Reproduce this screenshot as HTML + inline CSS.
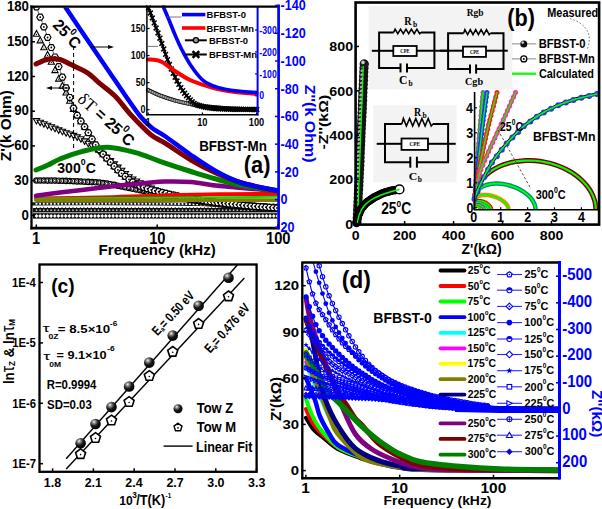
<!DOCTYPE html><html><head><meta charset="utf-8"><style>html,body{margin:0;padding:0;background:#fff;}svg{display:block;}</style></head><body><svg width="602" height="509" viewBox="0 0 602 509" font-family='"Liberation Sans", sans-serif'>
<rect width="602" height="509" fill="#fff"/>
<clipPath id="clipa"><rect x="32" y="7.5" width="246" height="220"/></clipPath><g clip-path="url(#clipa)">
<rect x="33" y="213.2" width="244.5" height="5.4" fill="#0a0a0a"/>
<path d="M36.5,213.9 L38.4,215.9 L36.5,217.9 L34.6,215.9Z" fill="#fff"/>
<path d="M40.1,213.9 L42.0,215.9 L40.1,217.9 L38.2,215.9Z" fill="#fff"/>
<path d="M43.8,213.9 L45.7,215.9 L43.8,217.9 L41.9,215.9Z" fill="#fff"/>
<path d="M47.5,213.9 L49.4,215.9 L47.5,217.9 L45.6,215.9Z" fill="#fff"/>
<path d="M51.1,213.9 L53.0,215.9 L51.1,217.9 L49.2,215.9Z" fill="#fff"/>
<path d="M54.8,213.9 L56.6,215.9 L54.8,217.9 L52.9,215.9Z" fill="#fff"/>
<path d="M58.4,213.9 L60.3,215.9 L58.4,217.9 L56.5,215.9Z" fill="#fff"/>
<path d="M62.0,213.9 L63.9,215.9 L62.0,217.9 L60.1,215.9Z" fill="#fff"/>
<path d="M65.7,213.9 L67.6,215.9 L65.7,217.9 L63.8,215.9Z" fill="#fff"/>
<path d="M69.3,213.9 L71.2,215.9 L69.3,217.9 L67.4,215.9Z" fill="#fff"/>
<path d="M73.0,213.9 L74.9,215.9 L73.0,217.9 L71.1,215.9Z" fill="#fff"/>
<path d="M76.7,213.9 L78.6,215.9 L76.7,217.9 L74.8,215.9Z" fill="#fff"/>
<path d="M80.3,213.9 L82.2,215.9 L80.3,217.9 L78.4,215.9Z" fill="#fff"/>
<path d="M83.9,213.9 L85.8,215.9 L83.9,217.9 L82.0,215.9Z" fill="#fff"/>
<path d="M87.6,213.9 L89.5,215.9 L87.6,217.9 L85.7,215.9Z" fill="#fff"/>
<path d="M91.2,213.9 L93.2,215.9 L91.2,217.9 L89.3,215.9Z" fill="#fff"/>
<path d="M94.9,213.9 L96.8,215.9 L94.9,217.9 L93.0,215.9Z" fill="#fff"/>
<path d="M98.5,213.9 L100.5,215.9 L98.5,217.9 L96.6,215.9Z" fill="#fff"/>
<path d="M102.2,213.9 L104.1,215.9 L102.2,217.9 L100.3,215.9Z" fill="#fff"/>
<path d="M105.8,213.9 L107.8,215.9 L105.8,217.9 L103.9,215.9Z" fill="#fff"/>
<path d="M109.5,213.9 L111.4,215.9 L109.5,217.9 L107.6,215.9Z" fill="#fff"/>
<path d="M113.1,213.9 L115.0,215.9 L113.1,217.9 L111.2,215.9Z" fill="#fff"/>
<path d="M116.8,213.9 L118.7,215.9 L116.8,217.9 L114.9,215.9Z" fill="#fff"/>
<path d="M120.5,213.9 L122.4,215.9 L120.5,217.9 L118.5,215.9Z" fill="#fff"/>
<path d="M124.1,213.9 L126.0,215.9 L124.1,217.9 L122.2,215.9Z" fill="#fff"/>
<path d="M127.8,213.9 L129.7,215.9 L127.8,217.9 L125.8,215.9Z" fill="#fff"/>
<path d="M131.4,213.9 L133.3,215.9 L131.4,217.9 L129.5,215.9Z" fill="#fff"/>
<path d="M135.1,213.9 L137.0,215.9 L135.1,217.9 L133.2,215.9Z" fill="#fff"/>
<path d="M138.7,213.9 L140.6,215.9 L138.7,217.9 L136.8,215.9Z" fill="#fff"/>
<path d="M142.3,213.9 L144.2,215.9 L142.3,217.9 L140.4,215.9Z" fill="#fff"/>
<path d="M146.0,213.9 L147.9,215.9 L146.0,217.9 L144.1,215.9Z" fill="#fff"/>
<path d="M149.6,213.9 L151.5,215.9 L149.6,217.9 L147.7,215.9Z" fill="#fff"/>
<path d="M153.3,213.9 L155.2,215.9 L153.3,217.9 L151.4,215.9Z" fill="#fff"/>
<path d="M156.9,213.9 L158.8,215.9 L156.9,217.9 L155.0,215.9Z" fill="#fff"/>
<path d="M160.6,213.9 L162.5,215.9 L160.6,217.9 L158.7,215.9Z" fill="#fff"/>
<path d="M164.2,213.9 L166.2,215.9 L164.2,217.9 L162.3,215.9Z" fill="#fff"/>
<path d="M167.9,213.9 L169.8,215.9 L167.9,217.9 L166.0,215.9Z" fill="#fff"/>
<path d="M171.5,213.9 L173.4,215.9 L171.5,217.9 L169.6,215.9Z" fill="#fff"/>
<path d="M175.2,213.9 L177.1,215.9 L175.2,217.9 L173.3,215.9Z" fill="#fff"/>
<path d="M178.8,213.9 L180.8,215.9 L178.8,217.9 L176.9,215.9Z" fill="#fff"/>
<path d="M182.5,213.9 L184.4,215.9 L182.5,217.9 L180.6,215.9Z" fill="#fff"/>
<path d="M186.2,213.9 L188.1,215.9 L186.2,217.9 L184.2,215.9Z" fill="#fff"/>
<path d="M189.8,213.9 L191.7,215.9 L189.8,217.9 L187.9,215.9Z" fill="#fff"/>
<path d="M193.4,213.9 L195.3,215.9 L193.4,217.9 L191.5,215.9Z" fill="#fff"/>
<path d="M197.1,213.9 L199.0,215.9 L197.1,217.9 L195.2,215.9Z" fill="#fff"/>
<path d="M200.8,213.9 L202.7,215.9 L200.8,217.9 L198.8,215.9Z" fill="#fff"/>
<path d="M204.4,213.9 L206.3,215.9 L204.4,217.9 L202.5,215.9Z" fill="#fff"/>
<path d="M208.0,213.9 L209.9,215.9 L208.0,217.9 L206.1,215.9Z" fill="#fff"/>
<path d="M211.7,213.9 L213.6,215.9 L211.7,217.9 L209.8,215.9Z" fill="#fff"/>
<path d="M215.3,213.9 L217.2,215.9 L215.3,217.9 L213.4,215.9Z" fill="#fff"/>
<path d="M219.0,213.9 L220.9,215.9 L219.0,217.9 L217.1,215.9Z" fill="#fff"/>
<path d="M222.7,213.9 L224.6,215.9 L222.7,217.9 L220.8,215.9Z" fill="#fff"/>
<path d="M226.3,213.9 L228.2,215.9 L226.3,217.9 L224.4,215.9Z" fill="#fff"/>
<path d="M229.9,213.9 L231.8,215.9 L229.9,217.9 L228.0,215.9Z" fill="#fff"/>
<path d="M233.6,213.9 L235.5,215.9 L233.6,217.9 L231.7,215.9Z" fill="#fff"/>
<path d="M237.2,213.9 L239.2,215.9 L237.2,217.9 L235.3,215.9Z" fill="#fff"/>
<path d="M240.9,213.9 L242.8,215.9 L240.9,217.9 L239.0,215.9Z" fill="#fff"/>
<path d="M244.5,213.9 L246.4,215.9 L244.5,217.9 L242.6,215.9Z" fill="#fff"/>
<path d="M248.2,213.9 L250.1,215.9 L248.2,217.9 L246.3,215.9Z" fill="#fff"/>
<path d="M251.8,213.9 L253.8,215.9 L251.8,217.9 L249.9,215.9Z" fill="#fff"/>
<path d="M255.5,213.9 L257.4,215.9 L255.5,217.9 L253.6,215.9Z" fill="#fff"/>
<path d="M259.1,213.9 L261.0,215.9 L259.1,217.9 L257.2,215.9Z" fill="#fff"/>
<path d="M262.8,213.9 L264.7,215.9 L262.8,217.9 L260.9,215.9Z" fill="#fff"/>
<path d="M266.4,213.9 L268.3,215.9 L266.4,217.9 L264.6,215.9Z" fill="#fff"/>
<path d="M270.1,213.9 L272.0,215.9 L270.1,217.9 L268.2,215.9Z" fill="#fff"/>
<path d="M273.8,213.9 L275.6,215.9 L273.8,217.9 L271.9,215.9Z" fill="#fff"/>
<path d="M277.4,213.9 L279.3,215.9 L277.4,217.9 L275.5,215.9Z" fill="#fff"/>
<rect x="33" y="208" width="244.5" height="4.4" fill="#111"/>
<path d="M36.5,206.8 L37.7,209 L35.3,209Z" fill="#111"/><circle cx="36.5" cy="210.2" r="0.9" fill="#bbb"/>
<path d="M40.1,206.8 L41.4,209 L38.9,209Z" fill="#111"/><circle cx="40.1" cy="210.2" r="0.9" fill="#bbb"/>
<path d="M43.8,206.8 L45.0,209 L42.6,209Z" fill="#111"/><circle cx="43.8" cy="210.2" r="0.9" fill="#bbb"/>
<path d="M47.5,206.8 L48.7,209 L46.2,209Z" fill="#111"/><circle cx="47.5" cy="210.2" r="0.9" fill="#bbb"/>
<path d="M51.1,206.8 L52.3,209 L49.9,209Z" fill="#111"/><circle cx="51.1" cy="210.2" r="0.9" fill="#bbb"/>
<path d="M54.8,206.8 L56.0,209 L53.5,209Z" fill="#111"/><circle cx="54.8" cy="210.2" r="0.9" fill="#bbb"/>
<path d="M58.4,206.8 L59.6,209 L57.2,209Z" fill="#111"/><circle cx="58.4" cy="210.2" r="0.9" fill="#bbb"/>
<path d="M62.0,206.8 L63.2,209 L60.8,209Z" fill="#111"/><circle cx="62.0" cy="210.2" r="0.9" fill="#bbb"/>
<path d="M65.7,206.8 L66.9,209 L64.5,209Z" fill="#111"/><circle cx="65.7" cy="210.2" r="0.9" fill="#bbb"/>
<path d="M69.3,206.8 L70.5,209 L68.1,209Z" fill="#111"/><circle cx="69.3" cy="210.2" r="0.9" fill="#bbb"/>
<path d="M73.0,206.8 L74.2,209 L71.8,209Z" fill="#111"/><circle cx="73.0" cy="210.2" r="0.9" fill="#bbb"/>
<path d="M76.7,206.8 L77.9,209 L75.5,209Z" fill="#111"/><circle cx="76.7" cy="210.2" r="0.9" fill="#bbb"/>
<path d="M80.3,206.8 L81.5,209 L79.1,209Z" fill="#111"/><circle cx="80.3" cy="210.2" r="0.9" fill="#bbb"/>
<path d="M83.9,206.8 L85.1,209 L82.7,209Z" fill="#111"/><circle cx="83.9" cy="210.2" r="0.9" fill="#bbb"/>
<path d="M87.6,206.8 L88.8,209 L86.4,209Z" fill="#111"/><circle cx="87.6" cy="210.2" r="0.9" fill="#bbb"/>
<path d="M91.2,206.8 L92.5,209 L90.0,209Z" fill="#111"/><circle cx="91.2" cy="210.2" r="0.9" fill="#bbb"/>
<path d="M94.9,206.8 L96.1,209 L93.7,209Z" fill="#111"/><circle cx="94.9" cy="210.2" r="0.9" fill="#bbb"/>
<path d="M98.5,206.8 L99.8,209 L97.3,209Z" fill="#111"/><circle cx="98.5" cy="210.2" r="0.9" fill="#bbb"/>
<path d="M102.2,206.8 L103.4,209 L101.0,209Z" fill="#111"/><circle cx="102.2" cy="210.2" r="0.9" fill="#bbb"/>
<path d="M105.8,206.8 L107.0,209 L104.6,209Z" fill="#111"/><circle cx="105.8" cy="210.2" r="0.9" fill="#bbb"/>
<path d="M109.5,206.8 L110.7,209 L108.3,209Z" fill="#111"/><circle cx="109.5" cy="210.2" r="0.9" fill="#bbb"/>
<path d="M113.1,206.8 L114.3,209 L111.9,209Z" fill="#111"/><circle cx="113.1" cy="210.2" r="0.9" fill="#bbb"/>
<path d="M116.8,206.8 L118.0,209 L115.6,209Z" fill="#111"/><circle cx="116.8" cy="210.2" r="0.9" fill="#bbb"/>
<path d="M120.5,206.8 L121.7,209 L119.2,209Z" fill="#111"/><circle cx="120.5" cy="210.2" r="0.9" fill="#bbb"/>
<path d="M124.1,206.8 L125.3,209 L122.9,209Z" fill="#111"/><circle cx="124.1" cy="210.2" r="0.9" fill="#bbb"/>
<path d="M127.8,206.8 L128.9,209 L126.5,209Z" fill="#111"/><circle cx="127.8" cy="210.2" r="0.9" fill="#bbb"/>
<path d="M131.4,206.8 L132.6,209 L130.2,209Z" fill="#111"/><circle cx="131.4" cy="210.2" r="0.9" fill="#bbb"/>
<path d="M135.1,206.8 L136.2,209 L133.9,209Z" fill="#111"/><circle cx="135.1" cy="210.2" r="0.9" fill="#bbb"/>
<path d="M138.7,206.8 L139.9,209 L137.5,209Z" fill="#111"/><circle cx="138.7" cy="210.2" r="0.9" fill="#bbb"/>
<path d="M142.3,206.8 L143.5,209 L141.2,209Z" fill="#111"/><circle cx="142.3" cy="210.2" r="0.9" fill="#bbb"/>
<path d="M146.0,206.8 L147.2,209 L144.8,209Z" fill="#111"/><circle cx="146.0" cy="210.2" r="0.9" fill="#bbb"/>
<path d="M149.6,206.8 L150.8,209 L148.4,209Z" fill="#111"/><circle cx="149.6" cy="210.2" r="0.9" fill="#bbb"/>
<path d="M153.3,206.8 L154.5,209 L152.1,209Z" fill="#111"/><circle cx="153.3" cy="210.2" r="0.9" fill="#bbb"/>
<path d="M156.9,206.8 L158.1,209 L155.8,209Z" fill="#111"/><circle cx="156.9" cy="210.2" r="0.9" fill="#bbb"/>
<path d="M160.6,206.8 L161.8,209 L159.4,209Z" fill="#111"/><circle cx="160.6" cy="210.2" r="0.9" fill="#bbb"/>
<path d="M164.2,206.8 L165.4,209 L163.1,209Z" fill="#111"/><circle cx="164.2" cy="210.2" r="0.9" fill="#bbb"/>
<path d="M167.9,206.8 L169.1,209 L166.7,209Z" fill="#111"/><circle cx="167.9" cy="210.2" r="0.9" fill="#bbb"/>
<path d="M171.5,206.8 L172.7,209 L170.3,209Z" fill="#111"/><circle cx="171.5" cy="210.2" r="0.9" fill="#bbb"/>
<path d="M175.2,206.8 L176.4,209 L174.0,209Z" fill="#111"/><circle cx="175.2" cy="210.2" r="0.9" fill="#bbb"/>
<path d="M178.8,206.8 L180.0,209 L177.7,209Z" fill="#111"/><circle cx="178.8" cy="210.2" r="0.9" fill="#bbb"/>
<path d="M182.5,206.8 L183.7,209 L181.3,209Z" fill="#111"/><circle cx="182.5" cy="210.2" r="0.9" fill="#bbb"/>
<path d="M186.2,206.8 L187.3,209 L185.0,209Z" fill="#111"/><circle cx="186.2" cy="210.2" r="0.9" fill="#bbb"/>
<path d="M189.8,206.8 L191.0,209 L188.6,209Z" fill="#111"/><circle cx="189.8" cy="210.2" r="0.9" fill="#bbb"/>
<path d="M193.4,206.8 L194.6,209 L192.2,209Z" fill="#111"/><circle cx="193.4" cy="210.2" r="0.9" fill="#bbb"/>
<path d="M197.1,206.8 L198.3,209 L195.9,209Z" fill="#111"/><circle cx="197.1" cy="210.2" r="0.9" fill="#bbb"/>
<path d="M200.8,206.8 L201.9,209 L199.6,209Z" fill="#111"/><circle cx="200.8" cy="210.2" r="0.9" fill="#bbb"/>
<path d="M204.4,206.8 L205.6,209 L203.2,209Z" fill="#111"/><circle cx="204.4" cy="210.2" r="0.9" fill="#bbb"/>
<path d="M208.0,206.8 L209.2,209 L206.8,209Z" fill="#111"/><circle cx="208.0" cy="210.2" r="0.9" fill="#bbb"/>
<path d="M211.7,206.8 L212.9,209 L210.5,209Z" fill="#111"/><circle cx="211.7" cy="210.2" r="0.9" fill="#bbb"/>
<path d="M215.3,206.8 L216.5,209 L214.2,209Z" fill="#111"/><circle cx="215.3" cy="210.2" r="0.9" fill="#bbb"/>
<path d="M219.0,206.8 L220.2,209 L217.8,209Z" fill="#111"/><circle cx="219.0" cy="210.2" r="0.9" fill="#bbb"/>
<path d="M222.7,206.8 L223.8,209 L221.5,209Z" fill="#111"/><circle cx="222.7" cy="210.2" r="0.9" fill="#bbb"/>
<path d="M226.3,206.8 L227.5,209 L225.1,209Z" fill="#111"/><circle cx="226.3" cy="210.2" r="0.9" fill="#bbb"/>
<path d="M229.9,206.8 L231.1,209 L228.8,209Z" fill="#111"/><circle cx="229.9" cy="210.2" r="0.9" fill="#bbb"/>
<path d="M233.6,206.8 L234.8,209 L232.4,209Z" fill="#111"/><circle cx="233.6" cy="210.2" r="0.9" fill="#bbb"/>
<path d="M237.2,206.8 L238.4,209 L236.1,209Z" fill="#111"/><circle cx="237.2" cy="210.2" r="0.9" fill="#bbb"/>
<path d="M240.9,206.8 L242.1,209 L239.7,209Z" fill="#111"/><circle cx="240.9" cy="210.2" r="0.9" fill="#bbb"/>
<path d="M244.5,206.8 L245.7,209 L243.3,209Z" fill="#111"/><circle cx="244.5" cy="210.2" r="0.9" fill="#bbb"/>
<path d="M248.2,206.8 L249.4,209 L247.0,209Z" fill="#111"/><circle cx="248.2" cy="210.2" r="0.9" fill="#bbb"/>
<path d="M251.8,206.8 L253.0,209 L250.7,209Z" fill="#111"/><circle cx="251.8" cy="210.2" r="0.9" fill="#bbb"/>
<path d="M255.5,206.8 L256.7,209 L254.3,209Z" fill="#111"/><circle cx="255.5" cy="210.2" r="0.9" fill="#bbb"/>
<path d="M259.1,206.8 L260.3,209 L257.9,209Z" fill="#111"/><circle cx="259.1" cy="210.2" r="0.9" fill="#bbb"/>
<path d="M262.8,206.8 L264.0,209 L261.6,209Z" fill="#111"/><circle cx="262.8" cy="210.2" r="0.9" fill="#bbb"/>
<path d="M266.4,206.8 L267.6,209 L265.2,209Z" fill="#111"/><circle cx="266.4" cy="210.2" r="0.9" fill="#bbb"/>
<path d="M270.1,206.8 L271.3,209 L268.9,209Z" fill="#111"/><circle cx="270.1" cy="210.2" r="0.9" fill="#bbb"/>
<path d="M273.8,206.8 L274.9,209 L272.6,209Z" fill="#111"/><circle cx="273.8" cy="210.2" r="0.9" fill="#bbb"/>
<path d="M277.4,206.8 L278.6,209 L276.2,209Z" fill="#111"/><circle cx="277.4" cy="210.2" r="0.9" fill="#bbb"/>
<path d="M33.0,203.8 C52.5,203.8 122.2,203.7 150.0,203.8 C177.8,203.9 185.0,203.9 200.0,204.5 C215.0,205.1 227.1,206.5 240.0,207.5 C252.9,208.5 271.2,210.0 277.5,210.5" fill="none" stroke="#1a1a1a" stroke-width="3.2" stroke-linecap="round" stroke-linejoin="round"/>
<rect x="35.6" y="202.9" width="1.8" height="1.8" fill="#fff"/>
<rect x="39.2" y="202.9" width="1.8" height="1.8" fill="#fff"/>
<rect x="42.9" y="202.9" width="1.8" height="1.8" fill="#fff"/>
<rect x="46.5" y="202.9" width="1.8" height="1.8" fill="#fff"/>
<rect x="50.2" y="202.9" width="1.8" height="1.8" fill="#fff"/>
<rect x="53.8" y="202.9" width="1.8" height="1.8" fill="#fff"/>
<rect x="57.5" y="202.9" width="1.8" height="1.8" fill="#fff"/>
<rect x="61.1" y="202.9" width="1.8" height="1.8" fill="#fff"/>
<rect x="64.8" y="202.9" width="1.8" height="1.8" fill="#fff"/>
<rect x="68.4" y="202.9" width="1.8" height="1.8" fill="#fff"/>
<rect x="72.1" y="202.9" width="1.8" height="1.8" fill="#fff"/>
<rect x="75.8" y="202.9" width="1.8" height="1.8" fill="#fff"/>
<rect x="79.4" y="202.9" width="1.8" height="1.8" fill="#fff"/>
<rect x="83.1" y="202.9" width="1.8" height="1.8" fill="#fff"/>
<rect x="86.7" y="202.9" width="1.8" height="1.8" fill="#fff"/>
<rect x="90.4" y="202.9" width="1.8" height="1.8" fill="#fff"/>
<rect x="94.0" y="202.9" width="1.8" height="1.8" fill="#fff"/>
<rect x="97.7" y="202.9" width="1.8" height="1.8" fill="#fff"/>
<rect x="101.3" y="202.8" width="1.8" height="1.8" fill="#fff"/>
<rect x="105.0" y="202.8" width="1.8" height="1.8" fill="#fff"/>
<rect x="108.6" y="202.8" width="1.8" height="1.8" fill="#fff"/>
<rect x="112.3" y="202.8" width="1.8" height="1.8" fill="#fff"/>
<rect x="115.9" y="202.8" width="1.8" height="1.8" fill="#fff"/>
<rect x="119.6" y="202.9" width="1.8" height="1.8" fill="#fff"/>
<rect x="123.2" y="202.9" width="1.8" height="1.8" fill="#fff"/>
<rect x="126.9" y="202.9" width="1.8" height="1.8" fill="#fff"/>
<rect x="130.5" y="202.9" width="1.8" height="1.8" fill="#fff"/>
<rect x="134.2" y="202.9" width="1.8" height="1.8" fill="#fff"/>
<rect x="137.8" y="202.9" width="1.8" height="1.8" fill="#fff"/>
<rect x="141.5" y="202.9" width="1.8" height="1.8" fill="#fff"/>
<rect x="145.1" y="202.9" width="1.8" height="1.8" fill="#fff"/>
<rect x="148.8" y="202.9" width="1.8" height="1.8" fill="#fff"/>
<rect x="152.4" y="202.9" width="1.8" height="1.8" fill="#fff"/>
<rect x="156.1" y="202.9" width="1.8" height="1.8" fill="#fff"/>
<rect x="159.7" y="202.9" width="1.8" height="1.8" fill="#fff"/>
<rect x="163.4" y="203.0" width="1.8" height="1.8" fill="#fff"/>
<rect x="167.0" y="203.0" width="1.8" height="1.8" fill="#fff"/>
<rect x="170.7" y="203.0" width="1.8" height="1.8" fill="#fff"/>
<rect x="174.3" y="203.0" width="1.8" height="1.8" fill="#fff"/>
<rect x="178.0" y="203.1" width="1.8" height="1.8" fill="#fff"/>
<rect x="181.6" y="203.1" width="1.8" height="1.8" fill="#fff"/>
<rect x="185.3" y="203.2" width="1.8" height="1.8" fill="#fff"/>
<rect x="188.9" y="203.2" width="1.8" height="1.8" fill="#fff"/>
<rect x="192.6" y="203.4" width="1.8" height="1.8" fill="#fff"/>
<rect x="196.2" y="203.5" width="1.8" height="1.8" fill="#fff"/>
<rect x="199.9" y="203.6" width="1.8" height="1.8" fill="#fff"/>
<rect x="203.5" y="203.8" width="1.8" height="1.8" fill="#fff"/>
<rect x="207.2" y="204.0" width="1.8" height="1.8" fill="#fff"/>
<rect x="210.8" y="204.3" width="1.8" height="1.8" fill="#fff"/>
<rect x="214.5" y="204.5" width="1.8" height="1.8" fill="#fff"/>
<rect x="218.1" y="204.8" width="1.8" height="1.8" fill="#fff"/>
<rect x="221.8" y="205.1" width="1.8" height="1.8" fill="#fff"/>
<rect x="225.4" y="205.4" width="1.8" height="1.8" fill="#fff"/>
<rect x="229.1" y="205.8" width="1.8" height="1.8" fill="#fff"/>
<rect x="232.7" y="206.1" width="1.8" height="1.8" fill="#fff"/>
<rect x="236.4" y="206.4" width="1.8" height="1.8" fill="#fff"/>
<rect x="240.0" y="206.7" width="1.8" height="1.8" fill="#fff"/>
<rect x="243.7" y="207.0" width="1.8" height="1.8" fill="#fff"/>
<rect x="247.3" y="207.2" width="1.8" height="1.8" fill="#fff"/>
<rect x="251.0" y="207.5" width="1.8" height="1.8" fill="#fff"/>
<rect x="254.6" y="207.8" width="1.8" height="1.8" fill="#fff"/>
<rect x="258.3" y="208.1" width="1.8" height="1.8" fill="#fff"/>
<rect x="261.9" y="208.4" width="1.8" height="1.8" fill="#fff"/>
<rect x="265.6" y="208.7" width="1.8" height="1.8" fill="#fff"/>
<rect x="269.2" y="209.0" width="1.8" height="1.8" fill="#fff"/>
<rect x="272.9" y="209.3" width="1.8" height="1.8" fill="#fff"/>
<rect x="276.5" y="209.6" width="1.8" height="1.8" fill="#fff"/>
<circle cx="36.5" cy="180.5" r="2.7" fill="#fff" stroke="#000" stroke-width="1.2"/><path d="M37.8,179.3 A1.6,1.6 0 1 0 37.8,181.7" fill="none" stroke="#000" stroke-width="0.9"/>
<circle cx="40.2" cy="180.5" r="2.7" fill="#fff" stroke="#000" stroke-width="1.2"/><path d="M41.5,179.3 A1.6,1.6 0 1 0 41.5,181.7" fill="none" stroke="#000" stroke-width="0.9"/>
<circle cx="43.9" cy="180.5" r="2.7" fill="#fff" stroke="#000" stroke-width="1.2"/><path d="M45.2,179.3 A1.6,1.6 0 1 0 45.2,181.7" fill="none" stroke="#000" stroke-width="0.9"/>
<circle cx="47.6" cy="180.6" r="2.7" fill="#fff" stroke="#000" stroke-width="1.2"/><path d="M48.9,179.4 A1.6,1.6 0 1 0 48.9,181.8" fill="none" stroke="#000" stroke-width="0.9"/>
<circle cx="51.3" cy="180.6" r="2.7" fill="#fff" stroke="#000" stroke-width="1.2"/><path d="M52.6,179.4 A1.6,1.6 0 1 0 52.6,181.8" fill="none" stroke="#000" stroke-width="0.9"/>
<circle cx="55.0" cy="180.6" r="2.7" fill="#fff" stroke="#000" stroke-width="1.2"/><path d="M56.3,179.4 A1.6,1.6 0 1 0 56.3,181.8" fill="none" stroke="#000" stroke-width="0.9"/>
<circle cx="58.7" cy="180.7" r="2.7" fill="#fff" stroke="#000" stroke-width="1.2"/><path d="M60.0,179.5 A1.6,1.6 0 1 0 60.0,181.9" fill="none" stroke="#000" stroke-width="0.9"/>
<circle cx="62.4" cy="180.8" r="2.7" fill="#fff" stroke="#000" stroke-width="1.2"/><path d="M63.7,179.6 A1.6,1.6 0 1 0 63.7,182.0" fill="none" stroke="#000" stroke-width="0.9"/>
<circle cx="66.1" cy="180.9" r="2.7" fill="#fff" stroke="#000" stroke-width="1.2"/><path d="M67.4,179.7 A1.6,1.6 0 1 0 67.4,182.1" fill="none" stroke="#000" stroke-width="0.9"/>
<circle cx="69.8" cy="181.0" r="2.7" fill="#fff" stroke="#000" stroke-width="1.2"/><path d="M71.1,179.8 A1.6,1.6 0 1 0 71.1,182.2" fill="none" stroke="#000" stroke-width="0.9"/>
<circle cx="73.5" cy="181.2" r="2.7" fill="#fff" stroke="#000" stroke-width="1.2"/><path d="M74.8,180.0 A1.6,1.6 0 1 0 74.8,182.4" fill="none" stroke="#000" stroke-width="0.9"/>
<circle cx="77.2" cy="181.4" r="2.7" fill="#fff" stroke="#000" stroke-width="1.2"/><path d="M78.5,180.2 A1.6,1.6 0 1 0 78.5,182.6" fill="none" stroke="#000" stroke-width="0.9"/>
<circle cx="80.9" cy="181.5" r="2.7" fill="#fff" stroke="#000" stroke-width="1.2"/><path d="M82.2,180.3 A1.6,1.6 0 1 0 82.2,182.7" fill="none" stroke="#000" stroke-width="0.9"/>
<circle cx="84.6" cy="181.7" r="2.7" fill="#fff" stroke="#000" stroke-width="1.2"/><path d="M85.9,180.5 A1.6,1.6 0 1 0 85.9,182.9" fill="none" stroke="#000" stroke-width="0.9"/>
<circle cx="88.3" cy="181.9" r="2.7" fill="#fff" stroke="#000" stroke-width="1.2"/><path d="M89.6,180.7 A1.6,1.6 0 1 0 89.6,183.1" fill="none" stroke="#000" stroke-width="0.9"/>
<circle cx="92.0" cy="182.1" r="2.7" fill="#fff" stroke="#000" stroke-width="1.2"/><path d="M93.3,180.9 A1.6,1.6 0 1 0 93.3,183.3" fill="none" stroke="#000" stroke-width="0.9"/>
<circle cx="95.7" cy="182.3" r="2.7" fill="#fff" stroke="#000" stroke-width="1.2"/><path d="M97.0,181.1 A1.6,1.6 0 1 0 97.0,183.5" fill="none" stroke="#000" stroke-width="0.9"/>
<circle cx="99.4" cy="182.6" r="2.7" fill="#fff" stroke="#000" stroke-width="1.2"/><path d="M100.7,181.4 A1.6,1.6 0 1 0 100.7,183.8" fill="none" stroke="#000" stroke-width="0.9"/>
<circle cx="103.1" cy="183.0" r="2.7" fill="#fff" stroke="#000" stroke-width="1.2"/><path d="M104.4,181.8 A1.6,1.6 0 1 0 104.4,184.2" fill="none" stroke="#000" stroke-width="0.9"/>
<circle cx="106.8" cy="183.6" r="2.7" fill="#fff" stroke="#000" stroke-width="1.2"/><path d="M108.1,182.4 A1.6,1.6 0 1 0 108.1,184.8" fill="none" stroke="#000" stroke-width="0.9"/>
<circle cx="110.5" cy="184.2" r="2.7" fill="#fff" stroke="#000" stroke-width="1.2"/><path d="M111.8,183.0 A1.6,1.6 0 1 0 111.8,185.4" fill="none" stroke="#000" stroke-width="0.9"/>
<circle cx="114.2" cy="184.9" r="2.7" fill="#fff" stroke="#000" stroke-width="1.2"/><path d="M115.5,183.7 A1.6,1.6 0 1 0 115.5,186.1" fill="none" stroke="#000" stroke-width="0.9"/>
<circle cx="117.9" cy="185.7" r="2.7" fill="#fff" stroke="#000" stroke-width="1.2"/><path d="M119.2,184.5 A1.6,1.6 0 1 0 119.2,186.9" fill="none" stroke="#000" stroke-width="0.9"/>
<circle cx="121.6" cy="186.5" r="2.7" fill="#fff" stroke="#000" stroke-width="1.2"/><path d="M122.9,185.3 A1.6,1.6 0 1 0 122.9,187.7" fill="none" stroke="#000" stroke-width="0.9"/>
<circle cx="125.3" cy="187.3" r="2.7" fill="#fff" stroke="#000" stroke-width="1.2"/><path d="M126.6,186.1 A1.6,1.6 0 1 0 126.6,188.5" fill="none" stroke="#000" stroke-width="0.9"/>
<circle cx="129.0" cy="188.0" r="2.7" fill="#fff" stroke="#000" stroke-width="1.2"/><path d="M130.3,186.8 A1.6,1.6 0 1 0 130.3,189.2" fill="none" stroke="#000" stroke-width="0.9"/>
<circle cx="132.7" cy="188.7" r="2.7" fill="#fff" stroke="#000" stroke-width="1.2"/><path d="M134.0,187.5 A1.6,1.6 0 1 0 134.0,189.9" fill="none" stroke="#000" stroke-width="0.9"/>
<circle cx="136.4" cy="189.5" r="2.7" fill="#fff" stroke="#000" stroke-width="1.2"/><path d="M137.7,188.3 A1.6,1.6 0 1 0 137.7,190.7" fill="none" stroke="#000" stroke-width="0.9"/>
<circle cx="140.1" cy="190.2" r="2.7" fill="#fff" stroke="#000" stroke-width="1.2"/><path d="M141.4,189.0 A1.6,1.6 0 1 0 141.4,191.4" fill="none" stroke="#000" stroke-width="0.9"/>
<circle cx="143.8" cy="191.0" r="2.7" fill="#fff" stroke="#000" stroke-width="1.2"/><path d="M145.1,189.8 A1.6,1.6 0 1 0 145.1,192.2" fill="none" stroke="#000" stroke-width="0.9"/>
<circle cx="147.5" cy="191.9" r="2.7" fill="#fff" stroke="#000" stroke-width="1.2"/><path d="M148.8,190.7 A1.6,1.6 0 1 0 148.8,193.1" fill="none" stroke="#000" stroke-width="0.9"/>
<circle cx="151.2" cy="192.9" r="2.7" fill="#fff" stroke="#000" stroke-width="1.2"/><path d="M152.5,191.7 A1.6,1.6 0 1 0 152.5,194.1" fill="none" stroke="#000" stroke-width="0.9"/>
<circle cx="154.9" cy="194.0" r="2.7" fill="#fff" stroke="#000" stroke-width="1.2"/><path d="M156.2,192.8 A1.6,1.6 0 1 0 156.2,195.2" fill="none" stroke="#000" stroke-width="0.9"/>
<circle cx="158.6" cy="194.7" r="2.7" fill="#fff" stroke="#000" stroke-width="1.2"/><path d="M159.9,193.5 A1.6,1.6 0 1 0 159.9,195.9" fill="none" stroke="#000" stroke-width="0.9"/>
<circle cx="162.3" cy="195.4" r="2.7" fill="#fff" stroke="#000" stroke-width="1.2"/><path d="M163.6,194.2 A1.6,1.6 0 1 0 163.6,196.6" fill="none" stroke="#000" stroke-width="0.9"/>
<circle cx="166.0" cy="196.0" r="2.7" fill="#fff" stroke="#000" stroke-width="1.2"/><path d="M167.3,194.8 A1.6,1.6 0 1 0 167.3,197.2" fill="none" stroke="#000" stroke-width="0.9"/>
<circle cx="169.7" cy="196.6" r="2.7" fill="#fff" stroke="#000" stroke-width="1.2"/><path d="M171.0,195.4 A1.6,1.6 0 1 0 171.0,197.8" fill="none" stroke="#000" stroke-width="0.9"/>
<circle cx="173.4" cy="197.2" r="2.7" fill="#fff" stroke="#000" stroke-width="1.2"/><path d="M174.7,196.0 A1.6,1.6 0 1 0 174.7,198.4" fill="none" stroke="#000" stroke-width="0.9"/>
<circle cx="177.1" cy="197.8" r="2.7" fill="#fff" stroke="#000" stroke-width="1.2"/><path d="M178.4,196.6 A1.6,1.6 0 1 0 178.4,199.0" fill="none" stroke="#000" stroke-width="0.9"/>
<circle cx="180.8" cy="198.3" r="2.7" fill="#fff" stroke="#000" stroke-width="1.2"/><path d="M182.1,197.1 A1.6,1.6 0 1 0 182.1,199.5" fill="none" stroke="#000" stroke-width="0.9"/>
<circle cx="184.5" cy="198.9" r="2.7" fill="#fff" stroke="#000" stroke-width="1.2"/><path d="M185.8,197.7 A1.6,1.6 0 1 0 185.8,200.1" fill="none" stroke="#000" stroke-width="0.9"/>
<circle cx="188.2" cy="199.4" r="2.7" fill="#fff" stroke="#000" stroke-width="1.2"/><path d="M189.5,198.2 A1.6,1.6 0 1 0 189.5,200.6" fill="none" stroke="#000" stroke-width="0.9"/>
<circle cx="191.9" cy="199.9" r="2.7" fill="#fff" stroke="#000" stroke-width="1.2"/><path d="M193.2,198.7 A1.6,1.6 0 1 0 193.2,201.1" fill="none" stroke="#000" stroke-width="0.9"/>
<circle cx="195.6" cy="200.4" r="2.7" fill="#fff" stroke="#000" stroke-width="1.2"/><path d="M196.9,199.2 A1.6,1.6 0 1 0 196.9,201.6" fill="none" stroke="#000" stroke-width="0.9"/>
<circle cx="199.3" cy="200.9" r="2.7" fill="#fff" stroke="#000" stroke-width="1.2"/><path d="M200.6,199.7 A1.6,1.6 0 1 0 200.6,202.1" fill="none" stroke="#000" stroke-width="0.9"/>
<circle cx="203.0" cy="201.4" r="2.7" fill="#fff" stroke="#000" stroke-width="1.2"/><path d="M204.3,200.2 A1.6,1.6 0 1 0 204.3,202.6" fill="none" stroke="#000" stroke-width="0.9"/>
<circle cx="206.7" cy="201.8" r="2.7" fill="#fff" stroke="#000" stroke-width="1.2"/><path d="M208.0,200.6 A1.6,1.6 0 1 0 208.0,203.0" fill="none" stroke="#000" stroke-width="0.9"/>
<circle cx="210.4" cy="202.2" r="2.7" fill="#fff" stroke="#000" stroke-width="1.2"/><path d="M211.7,201.0 A1.6,1.6 0 1 0 211.7,203.4" fill="none" stroke="#000" stroke-width="0.9"/>
<circle cx="214.1" cy="202.6" r="2.7" fill="#fff" stroke="#000" stroke-width="1.2"/><path d="M215.4,201.4 A1.6,1.6 0 1 0 215.4,203.8" fill="none" stroke="#000" stroke-width="0.9"/>
<circle cx="217.8" cy="203.0" r="2.7" fill="#fff" stroke="#000" stroke-width="1.2"/><path d="M219.1,201.8 A1.6,1.6 0 1 0 219.1,204.2" fill="none" stroke="#000" stroke-width="0.9"/>
<circle cx="221.5" cy="203.4" r="2.7" fill="#fff" stroke="#000" stroke-width="1.2"/><path d="M222.8,202.2 A1.6,1.6 0 1 0 222.8,204.6" fill="none" stroke="#000" stroke-width="0.9"/>
<circle cx="225.2" cy="203.7" r="2.7" fill="#fff" stroke="#000" stroke-width="1.2"/><path d="M226.5,202.5 A1.6,1.6 0 1 0 226.5,204.9" fill="none" stroke="#000" stroke-width="0.9"/>
<circle cx="228.9" cy="204.1" r="2.7" fill="#fff" stroke="#000" stroke-width="1.2"/><path d="M230.2,202.9 A1.6,1.6 0 1 0 230.2,205.3" fill="none" stroke="#000" stroke-width="0.9"/>
<circle cx="232.6" cy="204.4" r="2.7" fill="#fff" stroke="#000" stroke-width="1.2"/><path d="M233.9,203.2 A1.6,1.6 0 1 0 233.9,205.6" fill="none" stroke="#000" stroke-width="0.9"/>
<circle cx="236.3" cy="204.7" r="2.7" fill="#fff" stroke="#000" stroke-width="1.2"/><path d="M237.6,203.5 A1.6,1.6 0 1 0 237.6,205.9" fill="none" stroke="#000" stroke-width="0.9"/>
<circle cx="240.0" cy="205.0" r="2.7" fill="#fff" stroke="#000" stroke-width="1.2"/><path d="M241.3,203.8 A1.6,1.6 0 1 0 241.3,206.2" fill="none" stroke="#000" stroke-width="0.9"/>
<circle cx="243.7" cy="205.3" r="2.7" fill="#fff" stroke="#000" stroke-width="1.2"/><path d="M245.0,204.1 A1.6,1.6 0 1 0 245.0,206.5" fill="none" stroke="#000" stroke-width="0.9"/>
<circle cx="247.4" cy="205.5" r="2.7" fill="#fff" stroke="#000" stroke-width="1.2"/><path d="M248.7,204.3 A1.6,1.6 0 1 0 248.7,206.7" fill="none" stroke="#000" stroke-width="0.9"/>
<circle cx="251.1" cy="205.7" r="2.7" fill="#fff" stroke="#000" stroke-width="1.2"/><path d="M252.4,204.5 A1.6,1.6 0 1 0 252.4,206.9" fill="none" stroke="#000" stroke-width="0.9"/>
<circle cx="254.8" cy="205.9" r="2.7" fill="#fff" stroke="#000" stroke-width="1.2"/><path d="M256.1,204.7 A1.6,1.6 0 1 0 256.1,207.1" fill="none" stroke="#000" stroke-width="0.9"/>
<circle cx="258.5" cy="206.1" r="2.7" fill="#fff" stroke="#000" stroke-width="1.2"/><path d="M259.8,204.9 A1.6,1.6 0 1 0 259.8,207.3" fill="none" stroke="#000" stroke-width="0.9"/>
<circle cx="262.2" cy="206.3" r="2.7" fill="#fff" stroke="#000" stroke-width="1.2"/><path d="M263.5,205.1 A1.6,1.6 0 1 0 263.5,207.5" fill="none" stroke="#000" stroke-width="0.9"/>
<circle cx="265.9" cy="206.5" r="2.7" fill="#fff" stroke="#000" stroke-width="1.2"/><path d="M267.2,205.3 A1.6,1.6 0 1 0 267.2,207.7" fill="none" stroke="#000" stroke-width="0.9"/>
<circle cx="269.6" cy="206.7" r="2.7" fill="#fff" stroke="#000" stroke-width="1.2"/><path d="M270.9,205.5 A1.6,1.6 0 1 0 270.9,207.9" fill="none" stroke="#000" stroke-width="0.9"/>
<circle cx="273.3" cy="206.8" r="2.7" fill="#fff" stroke="#000" stroke-width="1.2"/><path d="M274.6,205.6 A1.6,1.6 0 1 0 274.6,208.0" fill="none" stroke="#000" stroke-width="0.9"/>
<circle cx="277.0" cy="207.0" r="2.7" fill="#fff" stroke="#000" stroke-width="1.2"/><path d="M278.3,205.8 A1.6,1.6 0 1 0 278.3,208.2" fill="none" stroke="#000" stroke-width="0.9"/>
<path d="M33.3,118.6 L39.7,118.6 L36.5,124.0 Z" fill="#fff" stroke="#000" stroke-width="1.1"/>
<path d="M37.0,120.2 L43.4,120.2 L40.2,125.6 Z" fill="#fff" stroke="#000" stroke-width="1.1"/>
<path d="M40.7,121.7 L47.1,121.7 L43.9,127.1 Z" fill="#fff" stroke="#000" stroke-width="1.1"/>
<path d="M44.4,123.3 L50.8,123.3 L47.6,128.7 Z" fill="#fff" stroke="#000" stroke-width="1.1"/>
<path d="M48.1,124.8 L54.5,124.8 L51.3,130.2 Z" fill="#fff" stroke="#000" stroke-width="1.1"/>
<path d="M51.8,126.3 L58.2,126.3 L55.0,131.7 Z" fill="#fff" stroke="#000" stroke-width="1.1"/>
<path d="M55.5,127.9 L61.9,127.9 L58.7,133.3 Z" fill="#fff" stroke="#000" stroke-width="1.1"/>
<path d="M59.2,129.3 L65.6,129.3 L62.4,134.7 Z" fill="#fff" stroke="#000" stroke-width="1.1"/>
<path d="M62.9,130.7 L69.3,130.7 L66.1,136.1 Z" fill="#fff" stroke="#000" stroke-width="1.1"/>
<path d="M66.6,132.0 L73.0,132.0 L69.8,137.4 Z" fill="#fff" stroke="#000" stroke-width="1.1"/>
<path d="M70.3,133.4 L76.7,133.4 L73.5,138.8 Z" fill="#fff" stroke="#000" stroke-width="1.1"/>
<path d="M74.0,134.9 L80.4,134.9 L77.2,140.3 Z" fill="#fff" stroke="#000" stroke-width="1.1"/>
<path d="M77.7,136.7 L84.1,136.7 L80.9,142.1 Z" fill="#fff" stroke="#000" stroke-width="1.1"/>
<path d="M81.4,138.9 L87.8,138.9 L84.6,144.3 Z" fill="#fff" stroke="#000" stroke-width="1.1"/>
<path d="M85.1,141.3 L91.5,141.3 L88.3,146.7 Z" fill="#fff" stroke="#000" stroke-width="1.1"/>
<path d="M88.8,143.8 L95.2,143.8 L92.0,149.2 Z" fill="#fff" stroke="#000" stroke-width="1.1"/>
<path d="M92.5,146.6 L98.9,146.6 L95.7,152.0 Z" fill="#fff" stroke="#000" stroke-width="1.1"/>
<path d="M96.2,149.4 L102.6,149.4 L99.4,154.8 Z" fill="#fff" stroke="#000" stroke-width="1.1"/>
<path d="M99.9,152.3 L106.3,152.3 L103.1,157.7 Z" fill="#fff" stroke="#000" stroke-width="1.1"/>
<path d="M103.6,155.3 L110.0,155.3 L106.8,160.7 Z" fill="#fff" stroke="#000" stroke-width="1.1"/>
<path d="M107.3,158.5 L113.7,158.5 L110.5,163.9 Z" fill="#fff" stroke="#000" stroke-width="1.1"/>
<path d="M111.0,161.8 L117.4,161.8 L114.2,167.2 Z" fill="#fff" stroke="#000" stroke-width="1.1"/>
<path d="M114.7,165.1 L121.1,165.1 L117.9,170.5 Z" fill="#fff" stroke="#000" stroke-width="1.1"/>
<path d="M118.4,168.3 L124.8,168.3 L121.6,173.7 Z" fill="#fff" stroke="#000" stroke-width="1.1"/>
<path d="M122.1,171.6 L128.5,171.6 L125.3,177.0 Z" fill="#fff" stroke="#000" stroke-width="1.1"/>
<path d="M125.8,174.7 L132.2,174.7 L129.0,180.1 Z" fill="#fff" stroke="#000" stroke-width="1.1"/>
<path d="M129.5,177.0 L135.9,177.0 L132.7,182.4 Z" fill="#fff" stroke="#000" stroke-width="1.1"/>
<path d="M133.2,179.0 L139.6,179.0 L136.4,184.4 Z" fill="#fff" stroke="#000" stroke-width="1.1"/>
<path d="M136.9,180.8 L143.3,180.8 L140.1,186.2 Z" fill="#fff" stroke="#000" stroke-width="1.1"/>
<path d="M140.6,182.5 L147.0,182.5 L143.8,187.9 Z" fill="#fff" stroke="#000" stroke-width="1.1"/>
<path d="M144.3,184.2 L150.7,184.2 L147.5,189.6 Z" fill="#fff" stroke="#000" stroke-width="1.1"/>
<path d="M148.0,186.0 L154.4,186.0 L151.2,191.4 Z" fill="#fff" stroke="#000" stroke-width="1.1"/>
<path d="M151.7,187.8 L158.1,187.8 L154.9,193.2 Z" fill="#fff" stroke="#000" stroke-width="1.1"/>
<path d="M155.4,189.3 L161.8,189.3 L158.6,194.7 Z" fill="#fff" stroke="#000" stroke-width="1.1"/>
<path d="M159.1,190.6 L165.5,190.6 L162.3,196.0 Z" fill="#fff" stroke="#000" stroke-width="1.1"/>
<path d="M162.8,191.7 L169.2,191.7 L166.0,197.1 Z" fill="#fff" stroke="#000" stroke-width="1.1"/>
<path d="M166.5,192.6 L172.9,192.6 L169.7,198.0 Z" fill="#fff" stroke="#000" stroke-width="1.1"/>
<path d="M170.2,193.5 L176.6,193.5 L173.4,198.9 Z" fill="#fff" stroke="#000" stroke-width="1.1"/>
<path d="M173.9,194.3 L180.3,194.3 L177.1,199.7 Z" fill="#fff" stroke="#000" stroke-width="1.1"/>
<path d="M177.6,195.1 L184.0,195.1 L180.8,200.5 Z" fill="#fff" stroke="#000" stroke-width="1.1"/>
<path d="M181.3,195.8 L187.7,195.8 L184.5,201.2 Z" fill="#fff" stroke="#000" stroke-width="1.1"/>
<path d="M185.0,196.5 L191.4,196.5 L188.2,201.9 Z" fill="#fff" stroke="#000" stroke-width="1.1"/>
<path d="M188.7,197.1 L195.1,197.1 L191.9,202.5 Z" fill="#fff" stroke="#000" stroke-width="1.1"/>
<path d="M192.4,197.7 L198.8,197.7 L195.6,203.1 Z" fill="#fff" stroke="#000" stroke-width="1.1"/>
<path d="M196.1,198.3 L202.5,198.3 L199.3,203.7 Z" fill="#fff" stroke="#000" stroke-width="1.1"/>
<path d="M199.8,198.8 L206.2,198.8 L203.0,204.2 Z" fill="#fff" stroke="#000" stroke-width="1.1"/>
<path d="M203.5,199.3 L209.9,199.3 L206.7,204.7 Z" fill="#fff" stroke="#000" stroke-width="1.1"/>
<path d="M207.2,199.7 L213.6,199.7 L210.4,205.1 Z" fill="#fff" stroke="#000" stroke-width="1.1"/>
<path d="M210.9,200.1 L217.3,200.1 L214.1,205.5 Z" fill="#fff" stroke="#000" stroke-width="1.1"/>
<path d="M214.6,200.5 L221.0,200.5 L217.8,205.9 Z" fill="#fff" stroke="#000" stroke-width="1.1"/>
<path d="M218.3,200.8 L224.7,200.8 L221.5,206.2 Z" fill="#fff" stroke="#000" stroke-width="1.1"/>
<path d="M222.0,201.1 L228.4,201.1 L225.2,206.5 Z" fill="#fff" stroke="#000" stroke-width="1.1"/>
<path d="M225.7,201.4 L232.1,201.4 L228.9,206.8 Z" fill="#fff" stroke="#000" stroke-width="1.1"/>
<path d="M229.4,201.8 L235.8,201.8 L232.6,207.2 Z" fill="#fff" stroke="#000" stroke-width="1.1"/>
<path d="M233.1,202.1 L239.5,202.1 L236.3,207.5 Z" fill="#fff" stroke="#000" stroke-width="1.1"/>
<path d="M236.8,202.4 L243.2,202.4 L240.0,207.8 Z" fill="#fff" stroke="#000" stroke-width="1.1"/>
<path d="M240.5,202.7 L246.9,202.7 L243.7,208.1 Z" fill="#fff" stroke="#000" stroke-width="1.1"/>
<path d="M244.2,203.0 L250.6,203.0 L247.4,208.4 Z" fill="#fff" stroke="#000" stroke-width="1.1"/>
<path d="M247.9,203.4 L254.3,203.4 L251.1,208.8 Z" fill="#fff" stroke="#000" stroke-width="1.1"/>
<path d="M251.6,203.7 L258.0,203.7 L254.8,209.1 Z" fill="#fff" stroke="#000" stroke-width="1.1"/>
<path d="M255.3,204.0 L261.7,204.0 L258.5,209.4 Z" fill="#fff" stroke="#000" stroke-width="1.1"/>
<path d="M259.0,204.2 L265.4,204.2 L262.2,209.6 Z" fill="#fff" stroke="#000" stroke-width="1.1"/>
<path d="M262.7,204.5 L269.1,204.5 L265.9,209.9 Z" fill="#fff" stroke="#000" stroke-width="1.1"/>
<path d="M266.4,204.8 L272.8,204.8 L269.6,210.2 Z" fill="#fff" stroke="#000" stroke-width="1.1"/>
<path d="M270.1,205.1 L276.5,205.1 L273.3,210.5 Z" fill="#fff" stroke="#000" stroke-width="1.1"/>
<path d="M273.8,205.4 L280.2,205.4 L277.0,210.8 Z" fill="#fff" stroke="#000" stroke-width="1.1"/>
<path d="M36.5,30.4 L39.6,36.2 L33.4,36.2 Z" fill="#fff" stroke="#000" stroke-width="1.1"/><circle cx="36.5" cy="34.4" r="0.6" fill="#000"/>
<path d="M40.2,37.1 L43.3,42.9 L37.1,42.9 Z" fill="#fff" stroke="#000" stroke-width="1.1"/><circle cx="40.2" cy="41.1" r="0.6" fill="#000"/>
<path d="M43.9,44.0 L47.0,49.8 L40.8,49.8 Z" fill="#fff" stroke="#000" stroke-width="1.1"/><circle cx="43.9" cy="48.0" r="0.6" fill="#000"/>
<path d="M47.6,51.4 L50.7,57.2 L44.5,57.2 Z" fill="#fff" stroke="#000" stroke-width="1.1"/><circle cx="47.6" cy="55.4" r="0.6" fill="#000"/>
<path d="M51.3,58.4 L54.4,64.2 L48.2,64.2 Z" fill="#fff" stroke="#000" stroke-width="1.1"/><circle cx="51.3" cy="62.4" r="0.6" fill="#000"/>
<path d="M55.0,66.8 L58.1,72.6 L51.9,72.6 Z" fill="#fff" stroke="#000" stroke-width="1.1"/><circle cx="55.0" cy="70.8" r="0.6" fill="#000"/>
<path d="M58.7,75.3 L61.8,81.1 L55.6,81.1 Z" fill="#fff" stroke="#000" stroke-width="1.1"/><circle cx="58.7" cy="79.3" r="0.6" fill="#000"/>
<path d="M62.4,82.5 L65.5,88.3 L59.3,88.3 Z" fill="#fff" stroke="#000" stroke-width="1.1"/><circle cx="62.4" cy="86.5" r="0.6" fill="#000"/>
<path d="M66.1,89.2 L69.2,95.0 L63.0,95.0 Z" fill="#fff" stroke="#000" stroke-width="1.1"/><circle cx="66.1" cy="93.2" r="0.6" fill="#000"/>
<path d="M69.8,97.4 L72.9,103.2 L66.7,103.2 Z" fill="#fff" stroke="#000" stroke-width="1.1"/><circle cx="69.8" cy="101.4" r="0.6" fill="#000"/>
<path d="M73.5,105.6 L76.6,111.4 L70.4,111.4 Z" fill="#fff" stroke="#000" stroke-width="1.1"/><circle cx="73.5" cy="109.6" r="0.6" fill="#000"/>
<path d="M77.2,112.0 L80.3,117.8 L74.1,117.8 Z" fill="#fff" stroke="#000" stroke-width="1.1"/><circle cx="77.2" cy="116.0" r="0.6" fill="#000"/>
<path d="M80.9,117.8 L84.0,123.6 L77.8,123.6 Z" fill="#fff" stroke="#000" stroke-width="1.1"/><circle cx="80.9" cy="121.8" r="0.6" fill="#000"/>
<path d="M84.6,123.5 L87.7,129.3 L81.5,129.3 Z" fill="#fff" stroke="#000" stroke-width="1.1"/><circle cx="84.6" cy="127.5" r="0.6" fill="#000"/>
<path d="M88.3,129.5 L91.4,135.3 L85.2,135.3 Z" fill="#fff" stroke="#000" stroke-width="1.1"/><circle cx="88.3" cy="133.5" r="0.6" fill="#000"/>
<path d="M92.0,135.8 L95.1,141.6 L88.9,141.6 Z" fill="#fff" stroke="#000" stroke-width="1.1"/><circle cx="92.0" cy="139.8" r="0.6" fill="#000"/>
<path d="M95.7,141.6 L98.8,147.4 L92.6,147.4 Z" fill="#fff" stroke="#000" stroke-width="1.1"/><circle cx="95.7" cy="145.6" r="0.6" fill="#000"/>
<path d="M99.4,146.5 L102.5,152.3 L96.3,152.3 Z" fill="#fff" stroke="#000" stroke-width="1.1"/><circle cx="99.4" cy="150.5" r="0.6" fill="#000"/>
<path d="M103.1,150.9 L106.2,156.7 L100.0,156.7 Z" fill="#fff" stroke="#000" stroke-width="1.1"/><circle cx="103.1" cy="154.9" r="0.6" fill="#000"/>
<path d="M106.8,155.0 L109.9,160.8 L103.7,160.8 Z" fill="#fff" stroke="#000" stroke-width="1.1"/><circle cx="106.8" cy="159.0" r="0.6" fill="#000"/>
<path d="M110.5,159.0 L113.6,164.8 L107.4,164.8 Z" fill="#fff" stroke="#000" stroke-width="1.1"/><circle cx="110.5" cy="163.0" r="0.6" fill="#000"/>
<path d="M114.2,162.9 L117.3,168.7 L111.1,168.7 Z" fill="#fff" stroke="#000" stroke-width="1.1"/><circle cx="114.2" cy="166.9" r="0.6" fill="#000"/>
<path d="M117.9,166.7 L121.0,172.5 L114.8,172.5 Z" fill="#fff" stroke="#000" stroke-width="1.1"/><circle cx="117.9" cy="170.7" r="0.6" fill="#000"/>
<path d="M121.6,170.1 L124.7,175.9 L118.5,175.9 Z" fill="#fff" stroke="#000" stroke-width="1.1"/><circle cx="121.6" cy="174.1" r="0.6" fill="#000"/>
<path d="M125.3,173.3 L128.4,179.1 L122.2,179.1 Z" fill="#fff" stroke="#000" stroke-width="1.1"/><circle cx="125.3" cy="177.3" r="0.6" fill="#000"/>
<path d="M129.0,176.3 L132.1,182.1 L125.9,182.1 Z" fill="#fff" stroke="#000" stroke-width="1.1"/><circle cx="129.0" cy="180.3" r="0.6" fill="#000"/>
<path d="M132.7,178.9 L135.8,184.7 L129.6,184.7 Z" fill="#fff" stroke="#000" stroke-width="1.1"/><circle cx="132.7" cy="182.9" r="0.6" fill="#000"/>
<path d="M136.4,181.1 L139.5,186.9 L133.3,186.9 Z" fill="#fff" stroke="#000" stroke-width="1.1"/><circle cx="136.4" cy="185.1" r="0.6" fill="#000"/>
<path d="M140.1,182.8 L143.2,188.6 L137.0,188.6 Z" fill="#fff" stroke="#000" stroke-width="1.1"/><circle cx="140.1" cy="186.8" r="0.6" fill="#000"/>
<path d="M143.8,184.3 L146.9,190.1 L140.7,190.1 Z" fill="#fff" stroke="#000" stroke-width="1.1"/><circle cx="143.8" cy="188.3" r="0.6" fill="#000"/>
<path d="M147.5,185.5 L150.6,191.3 L144.4,191.3 Z" fill="#fff" stroke="#000" stroke-width="1.1"/><circle cx="147.5" cy="189.5" r="0.6" fill="#000"/>
<path d="M151.2,186.5 L154.3,192.3 L148.1,192.3 Z" fill="#fff" stroke="#000" stroke-width="1.1"/><circle cx="151.2" cy="190.5" r="0.6" fill="#000"/>
<path d="M154.9,187.5 L158.0,193.3 L151.8,193.3 Z" fill="#fff" stroke="#000" stroke-width="1.1"/><circle cx="154.9" cy="191.5" r="0.6" fill="#000"/>
<path d="M158.6,188.4 L161.7,194.2 L155.5,194.2 Z" fill="#fff" stroke="#000" stroke-width="1.1"/><circle cx="158.6" cy="192.4" r="0.6" fill="#000"/>
<path d="M162.3,189.4 L165.4,195.2 L159.2,195.2 Z" fill="#fff" stroke="#000" stroke-width="1.1"/><circle cx="162.3" cy="193.4" r="0.6" fill="#000"/>
<path d="M166.0,190.3 L169.1,196.1 L162.9,196.1 Z" fill="#fff" stroke="#000" stroke-width="1.1"/><circle cx="166.0" cy="194.3" r="0.6" fill="#000"/>
<path d="M169.7,191.2 L172.8,197.0 L166.6,197.0 Z" fill="#fff" stroke="#000" stroke-width="1.1"/><circle cx="169.7" cy="195.2" r="0.6" fill="#000"/>
<path d="M173.4,192.1 L176.5,197.9 L170.3,197.9 Z" fill="#fff" stroke="#000" stroke-width="1.1"/><circle cx="173.4" cy="196.1" r="0.6" fill="#000"/>
<path d="M177.1,193.0 L180.2,198.8 L174.0,198.8 Z" fill="#fff" stroke="#000" stroke-width="1.1"/><circle cx="177.1" cy="197.0" r="0.6" fill="#000"/>
<path d="M180.8,193.9 L183.9,199.7 L177.7,199.7 Z" fill="#fff" stroke="#000" stroke-width="1.1"/><circle cx="180.8" cy="197.9" r="0.6" fill="#000"/>
<path d="M184.5,194.7 L187.6,200.5 L181.4,200.5 Z" fill="#fff" stroke="#000" stroke-width="1.1"/><circle cx="184.5" cy="198.7" r="0.6" fill="#000"/>
<path d="M188.2,195.5 L191.3,201.3 L185.1,201.3 Z" fill="#fff" stroke="#000" stroke-width="1.1"/><circle cx="188.2" cy="199.5" r="0.6" fill="#000"/>
<path d="M191.9,196.3 L195.0,202.1 L188.8,202.1 Z" fill="#fff" stroke="#000" stroke-width="1.1"/><circle cx="191.9" cy="200.3" r="0.6" fill="#000"/>
<path d="M195.6,197.0 L198.7,202.8 L192.5,202.8 Z" fill="#fff" stroke="#000" stroke-width="1.1"/><circle cx="195.6" cy="201.0" r="0.6" fill="#000"/>
<path d="M199.3,197.7 L202.4,203.5 L196.2,203.5 Z" fill="#fff" stroke="#000" stroke-width="1.1"/><circle cx="199.3" cy="201.7" r="0.6" fill="#000"/>
<path d="M203.0,198.3 L206.1,204.1 L199.9,204.1 Z" fill="#fff" stroke="#000" stroke-width="1.1"/><circle cx="203.0" cy="202.3" r="0.6" fill="#000"/>
<path d="M206.7,198.9 L209.8,204.7 L203.6,204.7 Z" fill="#fff" stroke="#000" stroke-width="1.1"/><circle cx="206.7" cy="202.9" r="0.6" fill="#000"/>
<path d="M210.4,199.4 L213.5,205.2 L207.3,205.2 Z" fill="#fff" stroke="#000" stroke-width="1.1"/><circle cx="210.4" cy="203.4" r="0.6" fill="#000"/>
<path d="M214.1,200.0 L217.2,205.8 L211.0,205.8 Z" fill="#fff" stroke="#000" stroke-width="1.1"/><circle cx="214.1" cy="204.0" r="0.6" fill="#000"/>
<path d="M217.8,200.4 L220.9,206.2 L214.7,206.2 Z" fill="#fff" stroke="#000" stroke-width="1.1"/><circle cx="217.8" cy="204.4" r="0.6" fill="#000"/>
<path d="M221.5,200.9 L224.6,206.7 L218.4,206.7 Z" fill="#fff" stroke="#000" stroke-width="1.1"/><circle cx="221.5" cy="204.9" r="0.6" fill="#000"/>
<path d="M225.2,201.3 L228.3,207.1 L222.1,207.1 Z" fill="#fff" stroke="#000" stroke-width="1.1"/><circle cx="225.2" cy="205.3" r="0.6" fill="#000"/>
<path d="M228.9,201.7 L232.0,207.5 L225.8,207.5 Z" fill="#fff" stroke="#000" stroke-width="1.1"/><circle cx="228.9" cy="205.7" r="0.6" fill="#000"/>
<path d="M232.6,202.1 L235.7,207.9 L229.5,207.9 Z" fill="#fff" stroke="#000" stroke-width="1.1"/><circle cx="232.6" cy="206.1" r="0.6" fill="#000"/>
<path d="M236.3,202.5 L239.4,208.3 L233.2,208.3 Z" fill="#fff" stroke="#000" stroke-width="1.1"/><circle cx="236.3" cy="206.5" r="0.6" fill="#000"/>
<path d="M240.0,202.8 L243.1,208.6 L236.9,208.6 Z" fill="#fff" stroke="#000" stroke-width="1.1"/><circle cx="240.0" cy="206.8" r="0.6" fill="#000"/>
<path d="M243.7,203.1 L246.8,208.9 L240.6,208.9 Z" fill="#fff" stroke="#000" stroke-width="1.1"/><circle cx="243.7" cy="207.1" r="0.6" fill="#000"/>
<path d="M247.4,203.4 L250.5,209.2 L244.3,209.2 Z" fill="#fff" stroke="#000" stroke-width="1.1"/><circle cx="247.4" cy="207.4" r="0.6" fill="#000"/>
<path d="M251.1,203.6 L254.2,209.4 L248.0,209.4 Z" fill="#fff" stroke="#000" stroke-width="1.1"/><circle cx="251.1" cy="207.6" r="0.6" fill="#000"/>
<path d="M254.8,203.8 L257.9,209.6 L251.7,209.6 Z" fill="#fff" stroke="#000" stroke-width="1.1"/><circle cx="254.8" cy="207.8" r="0.6" fill="#000"/>
<path d="M258.5,204.0 L261.6,209.8 L255.4,209.8 Z" fill="#fff" stroke="#000" stroke-width="1.1"/><circle cx="258.5" cy="208.0" r="0.6" fill="#000"/>
<path d="M262.2,204.2 L265.3,210.0 L259.1,210.0 Z" fill="#fff" stroke="#000" stroke-width="1.1"/><circle cx="262.2" cy="208.2" r="0.6" fill="#000"/>
<path d="M265.9,204.3 L269.0,210.1 L262.8,210.1 Z" fill="#fff" stroke="#000" stroke-width="1.1"/><circle cx="265.9" cy="208.3" r="0.6" fill="#000"/>
<path d="M269.6,204.5 L272.7,210.3 L266.5,210.3 Z" fill="#fff" stroke="#000" stroke-width="1.1"/><circle cx="269.6" cy="208.5" r="0.6" fill="#000"/>
<path d="M273.3,204.6 L276.4,210.4 L270.2,210.4 Z" fill="#fff" stroke="#000" stroke-width="1.1"/><circle cx="273.3" cy="208.6" r="0.6" fill="#000"/>
<path d="M277.0,204.8 L280.1,210.6 L273.9,210.6 Z" fill="#fff" stroke="#000" stroke-width="1.1"/><circle cx="277.0" cy="208.8" r="0.6" fill="#000"/>
<path d="M36.5,7.0 C37.1,8.8 39.1,14.2 40.4,17.7 C41.7,21.1 43.0,24.3 44.2,27.7 C45.5,31.1 46.7,34.9 47.9,38.3 C49.1,41.7 50.4,45.1 51.6,48.3 C52.8,51.4 54.0,54.2 55.1,57.2 C56.2,60.2 57.4,62.9 58.5,66.0 C59.6,69.1 60.9,72.7 62.0,76.0 C63.1,79.3 64.1,82.3 65.4,86.0 C66.7,89.7 68.4,93.7 70.0,98.0 C71.6,102.3 72.4,106.4 75.1,111.6 C77.8,116.8 82.4,123.1 86.0,128.9 C89.6,134.7 92.8,140.8 96.7,146.2 C100.7,151.6 105.4,156.6 109.7,161.3 C114.0,166.0 117.9,170.2 122.6,174.2 C127.3,178.1 131.6,182.0 137.8,185.0 C144.0,188.0 149.6,189.5 160.0,192.0 C170.4,194.5 186.7,197.8 200.0,200.0 C213.3,202.2 227.2,203.7 240.0,205.0 C252.8,206.3 270.8,207.5 277.0,208.0" fill="none" stroke="#000" stroke-width="0.8" stroke-linecap="round" stroke-linejoin="round" stroke-dasharray="1,1.5"/>
<polygon points="39.9,7.0 38.2,9.9 34.8,9.9 33.1,7.0 34.8,4.1 38.2,4.1" fill="#fff" stroke="#000" stroke-width="1.2"/><circle cx="36.5" cy="7.0" r="0.9" fill="#000"/>
<polygon points="43.6,17.2 41.9,20.1 38.5,20.1 36.8,17.2 38.5,14.2 41.9,14.2" fill="#fff" stroke="#000" stroke-width="1.2"/><circle cx="40.2" cy="17.2" r="0.9" fill="#000"/>
<polygon points="47.3,26.9 45.6,29.8 42.2,29.8 40.5,26.9 42.2,23.9 45.6,23.9" fill="#fff" stroke="#000" stroke-width="1.2"/><circle cx="43.9" cy="26.9" r="0.9" fill="#000"/>
<polygon points="51.0,37.5 49.3,40.4 45.9,40.4 44.2,37.5 45.9,34.5 49.3,34.5" fill="#fff" stroke="#000" stroke-width="1.2"/><circle cx="47.6" cy="37.5" r="0.9" fill="#000"/>
<polygon points="54.7,47.5 53.0,50.5 49.6,50.5 47.9,47.5 49.6,44.6 53.0,44.6" fill="#fff" stroke="#000" stroke-width="1.2"/><circle cx="51.3" cy="47.5" r="0.9" fill="#000"/>
<polygon points="58.4,56.9 56.7,59.9 53.3,59.9 51.6,56.9 53.3,54.0 56.7,54.0" fill="#fff" stroke="#000" stroke-width="1.2"/><circle cx="55.0" cy="56.9" r="0.9" fill="#000"/>
<polygon points="62.1,66.5 60.4,69.5 57.0,69.5 55.3,66.5 57.0,63.6 60.4,63.6" fill="#fff" stroke="#000" stroke-width="1.2"/><circle cx="58.7" cy="66.5" r="0.9" fill="#000"/>
<polygon points="65.8,77.2 64.1,80.1 60.7,80.1 59.0,77.2 60.7,74.2 64.1,74.2" fill="#fff" stroke="#000" stroke-width="1.2"/><circle cx="62.4" cy="77.2" r="0.9" fill="#000"/>
<polygon points="69.5,87.9 67.8,90.8 64.4,90.8 62.7,87.9 64.4,84.9 67.8,84.9" fill="#fff" stroke="#000" stroke-width="1.2"/><circle cx="66.1" cy="87.9" r="0.9" fill="#000"/>
<polygon points="73.2,97.5 71.5,100.4 68.1,100.4 66.4,97.5 68.1,94.5 71.5,94.5" fill="#fff" stroke="#000" stroke-width="1.2"/><circle cx="69.8" cy="97.5" r="0.9" fill="#000"/>
<polygon points="76.9,108.1 75.2,111.1 71.8,111.1 70.1,108.1 71.8,105.2 75.2,105.2" fill="#fff" stroke="#000" stroke-width="1.2"/><circle cx="73.5" cy="108.1" r="0.9" fill="#000"/>
<polygon points="80.6,115.3 78.9,118.2 75.5,118.2 73.8,115.3 75.5,112.4 78.9,112.4" fill="#fff" stroke="#000" stroke-width="1.2"/><circle cx="77.2" cy="115.3" r="0.9" fill="#000"/>
<polygon points="84.3,121.1 82.6,124.0 79.2,124.0 77.5,121.1 79.2,118.1 82.6,118.1" fill="#fff" stroke="#000" stroke-width="1.2"/><circle cx="80.9" cy="121.1" r="0.9" fill="#000"/>
<polygon points="88.0,126.7 86.3,129.6 82.9,129.6 81.2,126.7 82.9,123.8 86.3,123.8" fill="#fff" stroke="#000" stroke-width="1.2"/><circle cx="84.6" cy="126.7" r="0.9" fill="#000"/>
<polygon points="91.7,132.7 90.0,135.7 86.6,135.7 84.9,132.7 86.6,129.8 90.0,129.8" fill="#fff" stroke="#000" stroke-width="1.2"/><circle cx="88.3" cy="132.7" r="0.9" fill="#000"/>
<polygon points="95.4,139.0 93.7,141.9 90.3,141.9 88.6,139.0 90.3,136.1 93.7,136.1" fill="#fff" stroke="#000" stroke-width="1.2"/><circle cx="92.0" cy="139.0" r="0.9" fill="#000"/>
<polygon points="99.1,144.8 97.4,147.7 94.0,147.7 92.3,144.8 94.0,141.8 97.4,141.8" fill="#fff" stroke="#000" stroke-width="1.2"/><circle cx="95.7" cy="144.8" r="0.9" fill="#000"/>
<polygon points="102.8,149.7 101.1,152.6 97.7,152.6 96.0,149.7 97.7,146.8 101.1,146.8" fill="#fff" stroke="#000" stroke-width="1.2"/><circle cx="99.4" cy="149.7" r="0.9" fill="#000"/>
<polygon points="106.5,154.1 104.8,157.0 101.4,157.0 99.7,154.1 101.4,151.1 104.8,151.1" fill="#fff" stroke="#000" stroke-width="1.2"/><circle cx="103.1" cy="154.1" r="0.9" fill="#000"/>
<polygon points="110.2,158.2 108.5,161.1 105.1,161.1 103.4,158.2 105.1,155.2 108.5,155.2" fill="#fff" stroke="#000" stroke-width="1.2"/><circle cx="106.8" cy="158.2" r="0.9" fill="#000"/>
<polygon points="113.9,162.2 112.2,165.1 108.8,165.1 107.1,162.2 108.8,159.2 112.2,159.2" fill="#fff" stroke="#000" stroke-width="1.2"/><circle cx="110.5" cy="162.2" r="0.9" fill="#000"/>
<polygon points="117.6,166.1 115.9,169.1 112.5,169.1 110.8,166.1 112.5,163.2 115.9,163.2" fill="#fff" stroke="#000" stroke-width="1.2"/><circle cx="114.2" cy="166.1" r="0.9" fill="#000"/>
<polygon points="121.3,169.9 119.6,172.9 116.2,172.9 114.5,169.9 116.2,167.0 119.6,167.0" fill="#fff" stroke="#000" stroke-width="1.2"/><circle cx="117.9" cy="169.9" r="0.9" fill="#000"/>
<polygon points="125.0,173.3 123.3,176.3 119.9,176.3 118.2,173.3 119.9,170.4 123.3,170.4" fill="#fff" stroke="#000" stroke-width="1.2"/><circle cx="121.6" cy="173.3" r="0.9" fill="#000"/>
<polygon points="128.7,176.5 127.0,179.4 123.6,179.4 121.9,176.5 123.6,173.5 127.0,173.5" fill="#fff" stroke="#000" stroke-width="1.2"/><circle cx="125.3" cy="176.5" r="0.9" fill="#000"/>
<polygon points="132.4,179.5 130.7,182.4 127.3,182.4 125.6,179.5 127.3,176.6 130.7,176.6" fill="#fff" stroke="#000" stroke-width="1.2"/><circle cx="129.0" cy="179.5" r="0.9" fill="#000"/>
<polygon points="136.1,182.1 134.4,185.1 131.0,185.1 129.3,182.1 131.0,179.2 134.4,179.2" fill="#fff" stroke="#000" stroke-width="1.2"/><circle cx="132.7" cy="182.1" r="0.9" fill="#000"/>
<polygon points="139.8,184.3 138.1,187.2 134.7,187.2 133.0,184.3 134.7,181.4 138.1,181.4" fill="#fff" stroke="#000" stroke-width="1.2"/><circle cx="136.4" cy="184.3" r="0.9" fill="#000"/>
<polygon points="143.5,186.0 141.8,189.0 138.4,189.0 136.7,186.0 138.4,183.1 141.8,183.1" fill="#fff" stroke="#000" stroke-width="1.2"/><circle cx="140.1" cy="186.0" r="0.9" fill="#000"/>
<polygon points="147.2,187.5 145.5,190.4 142.1,190.4 140.4,187.5 142.1,184.6 145.5,184.6" fill="#fff" stroke="#000" stroke-width="1.2"/><circle cx="143.8" cy="187.5" r="0.9" fill="#000"/>
<polygon points="150.9,188.7 149.2,191.7 145.8,191.7 144.1,188.7 145.8,185.8 149.2,185.8" fill="#fff" stroke="#000" stroke-width="1.2"/><circle cx="147.5" cy="188.7" r="0.9" fill="#000"/>
<polygon points="154.6,189.8 152.9,192.7 149.5,192.7 147.8,189.8 149.5,186.8 152.9,186.8" fill="#fff" stroke="#000" stroke-width="1.2"/><circle cx="151.2" cy="189.8" r="0.9" fill="#000"/>
<polygon points="158.3,190.7 156.6,193.7 153.2,193.7 151.5,190.7 153.2,187.8 156.6,187.8" fill="#fff" stroke="#000" stroke-width="1.2"/><circle cx="154.9" cy="190.7" r="0.9" fill="#000"/>
<polygon points="162.0,191.7 160.3,194.6 156.9,194.6 155.2,191.7 156.9,188.7 160.3,188.7" fill="#fff" stroke="#000" stroke-width="1.2"/><circle cx="158.6" cy="191.7" r="0.9" fill="#000"/>
<polygon points="165.7,192.5 164.0,195.5 160.6,195.5 158.9,192.5 160.6,189.6 164.0,189.6" fill="#fff" stroke="#000" stroke-width="1.2"/><circle cx="162.3" cy="192.5" r="0.9" fill="#000"/>
<polygon points="169.4,193.4 167.7,196.3 164.3,196.3 162.6,193.4 164.3,190.4 167.7,190.4" fill="#fff" stroke="#000" stroke-width="1.2"/><circle cx="166.0" cy="193.4" r="0.9" fill="#000"/>
<polygon points="173.1,194.2 171.4,197.2 168.0,197.2 166.3,194.2 168.0,191.3 171.4,191.3" fill="#fff" stroke="#000" stroke-width="1.2"/><circle cx="169.7" cy="194.2" r="0.9" fill="#000"/>
<polygon points="176.8,195.0 175.1,197.9 171.7,197.9 170.0,195.0 171.7,192.1 175.1,192.1" fill="#fff" stroke="#000" stroke-width="1.2"/><circle cx="173.4" cy="195.0" r="0.9" fill="#000"/>
<polygon points="180.5,195.8 178.8,198.7 175.4,198.7 173.7,195.8 175.4,192.8 178.8,192.8" fill="#fff" stroke="#000" stroke-width="1.2"/><circle cx="177.1" cy="195.8" r="0.9" fill="#000"/>
<polygon points="184.2,196.5 182.5,199.5 179.1,199.5 177.4,196.5 179.1,193.6 182.5,193.6" fill="#fff" stroke="#000" stroke-width="1.2"/><circle cx="180.8" cy="196.5" r="0.9" fill="#000"/>
<polygon points="187.9,197.2 186.2,200.2 182.8,200.2 181.1,197.2 182.8,194.3 186.2,194.3" fill="#fff" stroke="#000" stroke-width="1.2"/><circle cx="184.5" cy="197.2" r="0.9" fill="#000"/>
<polygon points="191.6,197.9 189.9,200.9 186.5,200.9 184.8,197.9 186.5,195.0 189.9,195.0" fill="#fff" stroke="#000" stroke-width="1.2"/><circle cx="188.2" cy="197.9" r="0.9" fill="#000"/>
<polygon points="195.3,198.6 193.6,201.6 190.2,201.6 188.5,198.6 190.2,195.7 193.6,195.7" fill="#fff" stroke="#000" stroke-width="1.2"/><circle cx="191.9" cy="198.6" r="0.9" fill="#000"/>
<polygon points="199.0,199.3 197.3,202.2 193.9,202.2 192.2,199.3 193.9,196.3 197.3,196.3" fill="#fff" stroke="#000" stroke-width="1.2"/><circle cx="195.6" cy="199.3" r="0.9" fill="#000"/>
<polygon points="202.7,199.9 201.0,202.8 197.6,202.8 195.9,199.9 197.6,196.9 201.0,196.9" fill="#fff" stroke="#000" stroke-width="1.2"/><circle cx="199.3" cy="199.9" r="0.9" fill="#000"/>
<polygon points="206.4,200.5 204.7,203.4 201.3,203.4 199.6,200.5 201.3,197.5 204.7,197.5" fill="#fff" stroke="#000" stroke-width="1.2"/><circle cx="203.0" cy="200.5" r="0.9" fill="#000"/>
<polygon points="210.1,201.0 208.4,204.0 205.0,204.0 203.3,201.0 205.0,198.1 208.4,198.1" fill="#fff" stroke="#000" stroke-width="1.2"/><circle cx="206.7" cy="201.0" r="0.9" fill="#000"/>
<polygon points="213.8,201.6 212.1,204.5 208.7,204.5 207.0,201.6 208.7,198.6 212.1,198.6" fill="#fff" stroke="#000" stroke-width="1.2"/><circle cx="210.4" cy="201.6" r="0.9" fill="#000"/>
<polygon points="217.5,202.0 215.8,205.0 212.4,205.0 210.7,202.0 212.4,199.1 215.8,199.1" fill="#fff" stroke="#000" stroke-width="1.2"/><circle cx="214.1" cy="202.0" r="0.9" fill="#000"/>
<polygon points="221.2,202.5 219.5,205.5 216.1,205.5 214.4,202.5 216.1,199.6 219.5,199.6" fill="#fff" stroke="#000" stroke-width="1.2"/><circle cx="217.8" cy="202.5" r="0.9" fill="#000"/>
<polygon points="224.9,203.0 223.2,205.9 219.8,205.9 218.1,203.0 219.8,200.0 223.2,200.0" fill="#fff" stroke="#000" stroke-width="1.2"/><circle cx="221.5" cy="203.0" r="0.9" fill="#000"/>
<polygon points="228.6,203.4 226.9,206.3 223.5,206.3 221.8,203.4 223.5,200.5 226.9,200.5" fill="#fff" stroke="#000" stroke-width="1.2"/><circle cx="225.2" cy="203.4" r="0.9" fill="#000"/>
<polygon points="232.3,203.8 230.6,206.8 227.2,206.8 225.5,203.8 227.2,200.9 230.6,200.9" fill="#fff" stroke="#000" stroke-width="1.2"/><circle cx="228.9" cy="203.8" r="0.9" fill="#000"/>
<polygon points="236.0,204.2 234.3,207.2 230.9,207.2 229.2,204.2 230.9,201.3 234.3,201.3" fill="#fff" stroke="#000" stroke-width="1.2"/><circle cx="232.6" cy="204.2" r="0.9" fill="#000"/>
<polygon points="239.7,204.6 238.0,207.6 234.6,207.6 232.9,204.6 234.6,201.7 238.0,201.7" fill="#fff" stroke="#000" stroke-width="1.2"/><circle cx="236.3" cy="204.6" r="0.9" fill="#000"/>
<polygon points="243.4,205.0 241.7,207.9 238.3,207.9 236.6,205.0 238.3,202.1 241.7,202.1" fill="#fff" stroke="#000" stroke-width="1.2"/><circle cx="240.0" cy="205.0" r="0.9" fill="#000"/>
<polygon points="247.1,205.4 245.4,208.3 242.0,208.3 240.3,205.4 242.0,202.4 245.4,202.4" fill="#fff" stroke="#000" stroke-width="1.2"/><circle cx="243.7" cy="205.4" r="0.9" fill="#000"/>
<polygon points="250.8,205.7 249.1,208.7 245.7,208.7 244.0,205.7 245.7,202.8 249.1,202.8" fill="#fff" stroke="#000" stroke-width="1.2"/><circle cx="247.4" cy="205.7" r="0.9" fill="#000"/>
<polygon points="254.5,206.0 252.8,209.0 249.4,209.0 247.7,206.0 249.4,203.1 252.8,203.1" fill="#fff" stroke="#000" stroke-width="1.2"/><circle cx="251.1" cy="206.0" r="0.9" fill="#000"/>
<polygon points="258.2,206.3 256.5,209.3 253.1,209.3 251.4,206.3 253.1,203.4 256.5,203.4" fill="#fff" stroke="#000" stroke-width="1.2"/><circle cx="254.8" cy="206.3" r="0.9" fill="#000"/>
<polygon points="261.9,206.6 260.2,209.6 256.8,209.6 255.1,206.6 256.8,203.7 260.2,203.7" fill="#fff" stroke="#000" stroke-width="1.2"/><circle cx="258.5" cy="206.6" r="0.9" fill="#000"/>
<polygon points="265.6,206.9 263.9,209.8 260.5,209.8 258.8,206.9 260.5,204.0 263.9,204.0" fill="#fff" stroke="#000" stroke-width="1.2"/><circle cx="262.2" cy="206.9" r="0.9" fill="#000"/>
<polygon points="269.3,207.2 267.6,210.1 264.2,210.1 262.5,207.2 264.2,204.2 267.6,204.2" fill="#fff" stroke="#000" stroke-width="1.2"/><circle cx="265.9" cy="207.2" r="0.9" fill="#000"/>
<polygon points="273.0,207.4 271.3,210.4 267.9,210.4 266.2,207.4 267.9,204.5 271.3,204.5" fill="#fff" stroke="#000" stroke-width="1.2"/><circle cx="269.6" cy="207.4" r="0.9" fill="#000"/>
<polygon points="276.7,207.7 275.0,210.7 271.6,210.7 269.9,207.7 271.6,204.8 275.0,204.8" fill="#fff" stroke="#000" stroke-width="1.2"/><circle cx="273.3" cy="207.7" r="0.9" fill="#000"/>
<polygon points="280.4,208.0 278.7,210.9 275.3,210.9 273.6,208.0 275.3,205.1 278.7,205.1" fill="#fff" stroke="#000" stroke-width="1.2"/><circle cx="277.0" cy="208.0" r="0.9" fill="#000"/>
<path d="M36.0,198.6 C46.7,198.4 79.3,198.1 100.0,197.6 C120.7,197.1 140.0,196.1 160.0,195.6 C180.0,195.1 200.5,194.6 220.0,194.3 C239.5,194.0 267.5,194.1 277.0,194.0" fill="none" stroke="#ff0000" stroke-width="4" stroke-linecap="round" stroke-linejoin="round"/>
<path d="M36.0,198.6 C55.0,198.5 109.8,198.1 150.0,197.8 C190.2,197.5 255.8,196.9 277.0,196.7" fill="none" stroke="#00e000" stroke-width="2" stroke-linecap="round" stroke-linejoin="round"/>
<path d="M36.0,200.1 L277.0,200.1" fill="none" stroke="#808000" stroke-width="3.9" stroke-linecap="round" stroke-linejoin="round"/>
<path d="M36.0,195.8 C40.0,195.2 51.0,193.6 60.0,192.5 C69.0,191.4 80.0,190.2 90.0,189.0 C100.0,187.8 110.7,186.5 120.0,185.5 C129.3,184.5 138.5,183.7 146.0,183.0 C153.5,182.3 157.5,181.7 165.0,181.5 C172.5,181.3 182.5,181.3 191.0,182.0 C199.5,182.7 207.5,184.6 216.0,185.6 C224.5,186.6 231.8,187.1 242.0,188.0 C252.2,188.9 271.2,190.5 277.0,191.0" fill="none" stroke="#800080" stroke-width="4.5" stroke-linecap="round" stroke-linejoin="round"/>
<path d="M36.0,170.0 C38.0,169.2 44.0,166.8 48.0,165.0 C52.0,163.2 54.4,161.2 60.0,159.0 C65.6,156.8 73.7,153.6 81.6,151.6 C89.5,149.6 98.5,147.0 107.5,147.2 C116.5,147.4 126.8,150.2 135.6,152.6 C144.3,154.9 150.8,158.2 160.0,161.3 C169.2,164.5 181.7,168.6 191.0,171.5 C200.3,174.4 207.5,176.7 216.0,179.0 C224.5,181.3 231.8,183.7 242.0,185.6 C252.2,187.5 271.2,189.8 277.0,190.7" fill="none" stroke="#008000" stroke-width="5" stroke-linecap="round" stroke-linejoin="round"/>
<path d="M36.0,64.0 C38.0,63.2 44.0,60.0 48.0,59.3 C52.0,58.5 56.2,58.6 60.0,59.5 C63.8,60.4 66.4,62.4 71.0,64.6 C75.6,66.8 82.9,69.8 87.5,72.8 C92.1,75.8 93.9,78.5 98.5,82.4 C103.1,86.3 109.5,90.5 115.0,96.0 C120.5,101.5 125.5,109.0 131.4,115.4 C137.3,121.8 145.0,129.9 150.7,134.6 C156.4,139.3 158.8,139.2 165.5,143.4 C172.2,147.6 182.6,155.1 191.0,160.0 C199.4,164.9 207.5,169.2 216.0,173.0 C224.5,176.8 231.8,180.0 242.0,183.0 C252.2,186.0 271.6,189.7 277.5,191.0" fill="none" stroke="#7f0000" stroke-width="5" stroke-linecap="round" stroke-linejoin="round"/>
<path d="M65.0,6.5 C67.5,10.2 75.0,21.6 80.0,29.0 C85.0,36.4 90.0,43.7 95.0,51.0 C100.0,58.3 105.0,65.7 110.0,73.0 C115.0,80.3 120.0,87.8 125.0,95.0 C130.0,102.2 135.5,110.5 140.0,116.0 C144.5,121.5 147.8,124.6 152.0,128.0 C156.2,131.4 159.0,132.0 165.5,136.5 C172.0,141.0 182.5,149.2 191.0,155.0 C199.5,160.8 208.1,166.8 216.6,171.5 C225.1,176.2 231.8,179.8 242.0,183.0 C252.2,186.2 271.6,189.2 277.5,190.5" fill="none" stroke="#0000ff" stroke-width="4.5" stroke-linecap="round" stroke-linejoin="round"/>
<line x1="73.6" y1="46" x2="73.6" y2="150" stroke="#000" stroke-width="1" stroke-dasharray="4,3"/>
<line x1="91" y1="47" x2="111" y2="47" stroke="#000" stroke-width="1"/>
<path d="M114,47 L108,45 L108,49 Z" fill="#000"/>
<line x1="50" y1="88" x2="70" y2="88" stroke="#000" stroke-width="1"/>
<path d="M46,88 L52,86 L52,90 Z" fill="#000"/>
</g>
<rect x="147" y="7" width="111" height="108" fill="#fff"/>
<path d="M148.0,90.0 C150.0,90.9 155.5,93.8 160.0,95.5 C164.5,97.2 170.0,99.1 175.0,100.5 C180.0,101.9 185.5,103.1 190.0,104.0 C194.5,104.9 195.3,105.2 202.0,106.0 C208.7,106.8 220.8,107.9 230.0,108.5 C239.2,109.1 252.5,109.6 257.0,109.8" fill="none" stroke="#000" stroke-width="4.2" stroke-linecap="round" stroke-linejoin="round"/>
<circle cx="148.2" cy="90.1" r="1.5" fill="#aaa" stroke="#222" stroke-width="0.5"/>
<circle cx="150.4" cy="91.2" r="1.5" fill="#aaa" stroke="#222" stroke-width="0.5"/>
<circle cx="152.6" cy="92.2" r="1.5" fill="#aaa" stroke="#222" stroke-width="0.5"/>
<circle cx="154.8" cy="93.3" r="1.5" fill="#aaa" stroke="#222" stroke-width="0.5"/>
<circle cx="157.0" cy="94.2" r="1.5" fill="#aaa" stroke="#222" stroke-width="0.5"/>
<circle cx="159.2" cy="95.2" r="1.5" fill="#aaa" stroke="#222" stroke-width="0.5"/>
<circle cx="161.4" cy="96.0" r="1.5" fill="#aaa" stroke="#222" stroke-width="0.5"/>
<circle cx="163.6" cy="96.8" r="1.5" fill="#aaa" stroke="#222" stroke-width="0.5"/>
<circle cx="165.8" cy="97.6" r="1.5" fill="#aaa" stroke="#222" stroke-width="0.5"/>
<circle cx="168.0" cy="98.4" r="1.5" fill="#aaa" stroke="#222" stroke-width="0.5"/>
<circle cx="170.2" cy="99.1" r="1.5" fill="#aaa" stroke="#222" stroke-width="0.5"/>
<circle cx="172.4" cy="99.7" r="1.5" fill="#aaa" stroke="#222" stroke-width="0.5"/>
<circle cx="174.6" cy="100.4" r="1.5" fill="#aaa" stroke="#222" stroke-width="0.5"/>
<circle cx="176.8" cy="101.0" r="1.5" fill="#aaa" stroke="#222" stroke-width="0.5"/>
<circle cx="179.0" cy="101.6" r="1.5" fill="#aaa" stroke="#222" stroke-width="0.5"/>
<circle cx="181.2" cy="102.1" r="1.5" fill="#aaa" stroke="#222" stroke-width="0.5"/>
<circle cx="183.4" cy="102.6" r="1.5" fill="#aaa" stroke="#222" stroke-width="0.5"/>
<circle cx="185.6" cy="103.1" r="1.5" fill="#aaa" stroke="#222" stroke-width="0.5"/>
<circle cx="187.8" cy="103.5" r="1.5" fill="#aaa" stroke="#222" stroke-width="0.5"/>
<circle cx="190.0" cy="104.0" r="1.5" fill="#aaa" stroke="#222" stroke-width="0.5"/>
<circle cx="192.2" cy="104.5" r="1.5" fill="#aaa" stroke="#222" stroke-width="0.5"/>
<circle cx="194.4" cy="104.9" r="1.5" fill="#aaa" stroke="#222" stroke-width="0.5"/>
<circle cx="196.6" cy="105.3" r="1.5" fill="#aaa" stroke="#222" stroke-width="0.5"/>
<circle cx="198.8" cy="105.6" r="1.5" fill="#aaa" stroke="#222" stroke-width="0.5"/>
<circle cx="201.0" cy="105.9" r="1.5" fill="#aaa" stroke="#222" stroke-width="0.5"/>
<circle cx="203.2" cy="106.1" r="1.5" fill="#aaa" stroke="#222" stroke-width="0.5"/>
<circle cx="205.4" cy="106.4" r="1.5" fill="#aaa" stroke="#222" stroke-width="0.5"/>
<circle cx="207.6" cy="106.6" r="1.5" fill="#aaa" stroke="#222" stroke-width="0.5"/>
<circle cx="209.8" cy="106.8" r="1.5" fill="#aaa" stroke="#222" stroke-width="0.5"/>
<circle cx="212.0" cy="107.0" r="1.5" fill="#aaa" stroke="#222" stroke-width="0.5"/>
<circle cx="214.2" cy="107.2" r="1.5" fill="#aaa" stroke="#222" stroke-width="0.5"/>
<circle cx="216.4" cy="107.4" r="1.5" fill="#aaa" stroke="#222" stroke-width="0.5"/>
<circle cx="218.6" cy="107.6" r="1.5" fill="#aaa" stroke="#222" stroke-width="0.5"/>
<circle cx="220.8" cy="107.8" r="1.5" fill="#aaa" stroke="#222" stroke-width="0.5"/>
<circle cx="223.0" cy="108.0" r="1.5" fill="#aaa" stroke="#222" stroke-width="0.5"/>
<circle cx="225.2" cy="108.1" r="1.5" fill="#aaa" stroke="#222" stroke-width="0.5"/>
<circle cx="227.4" cy="108.3" r="1.5" fill="#aaa" stroke="#222" stroke-width="0.5"/>
<circle cx="229.6" cy="108.5" r="1.5" fill="#aaa" stroke="#222" stroke-width="0.5"/>
<circle cx="231.8" cy="108.6" r="1.5" fill="#aaa" stroke="#222" stroke-width="0.5"/>
<circle cx="234.0" cy="108.8" r="1.5" fill="#aaa" stroke="#222" stroke-width="0.5"/>
<circle cx="236.2" cy="108.9" r="1.5" fill="#aaa" stroke="#222" stroke-width="0.5"/>
<circle cx="238.4" cy="109.0" r="1.5" fill="#aaa" stroke="#222" stroke-width="0.5"/>
<circle cx="240.6" cy="109.1" r="1.5" fill="#aaa" stroke="#222" stroke-width="0.5"/>
<circle cx="242.8" cy="109.2" r="1.5" fill="#aaa" stroke="#222" stroke-width="0.5"/>
<circle cx="245.0" cy="109.3" r="1.5" fill="#aaa" stroke="#222" stroke-width="0.5"/>
<circle cx="247.2" cy="109.4" r="1.5" fill="#aaa" stroke="#222" stroke-width="0.5"/>
<circle cx="249.4" cy="109.5" r="1.5" fill="#aaa" stroke="#222" stroke-width="0.5"/>
<circle cx="251.6" cy="109.6" r="1.5" fill="#aaa" stroke="#222" stroke-width="0.5"/>
<circle cx="253.8" cy="109.7" r="1.5" fill="#aaa" stroke="#222" stroke-width="0.5"/>
<circle cx="256.0" cy="109.8" r="1.5" fill="#aaa" stroke="#222" stroke-width="0.5"/>
<path d="M148.5,8.0 C150.2,12.6 155.4,26.0 159.0,35.7 C162.6,45.4 166.3,57.3 170.0,66.0 C173.7,74.7 177.3,82.1 181.0,88.0 C184.7,93.9 188.8,98.6 192.0,101.6 C195.2,104.6 196.2,104.6 200.0,105.8 C203.8,107.0 208.3,107.9 215.0,108.5 C221.7,109.1 233.0,109.1 240.0,109.3 C247.0,109.5 254.2,109.5 257.0,109.5" fill="none" stroke="#000" stroke-width="2.2" stroke-linecap="round" stroke-linejoin="round"/>
<path d="M146.1,5.6 L150.9,10.4 M150.9,5.6 L146.1,10.4" stroke="#000" stroke-width="1.5"/>
<path d="M148.0,10.6 L152.8,15.4 M152.8,10.6 L148.0,15.4" stroke="#000" stroke-width="1.5"/>
<path d="M149.9,15.6 L154.7,20.4 M154.7,15.6 L149.9,20.4" stroke="#000" stroke-width="1.5"/>
<path d="M151.8,20.5 L156.6,25.3 M156.6,20.5 L151.8,25.3" stroke="#000" stroke-width="1.5"/>
<path d="M153.7,25.6 L158.5,30.4 M158.5,25.6 L153.7,30.4" stroke="#000" stroke-width="1.5"/>
<path d="M155.6,30.6 L160.4,35.4 M160.4,30.6 L155.6,35.4" stroke="#000" stroke-width="1.5"/>
<path d="M157.5,35.8 L162.3,40.6 M162.3,35.8 L157.5,40.6" stroke="#000" stroke-width="1.5"/>
<path d="M159.4,41.1 L164.2,45.9 M164.2,41.1 L159.4,45.9" stroke="#000" stroke-width="1.5"/>
<path d="M161.3,46.6 L166.1,51.4 M166.1,46.6 L161.3,51.4" stroke="#000" stroke-width="1.5"/>
<path d="M163.2,52.0 L168.0,56.8 M168.0,52.0 L163.2,56.8" stroke="#000" stroke-width="1.5"/>
<path d="M165.1,57.2 L169.9,62.0 M169.9,57.2 L165.1,62.0" stroke="#000" stroke-width="1.5"/>
<path d="M167.0,62.1 L171.8,66.9 M171.8,62.1 L167.0,66.9" stroke="#000" stroke-width="1.5"/>
<path d="M168.9,66.6 L173.7,71.4 M173.7,66.6 L168.9,71.4" stroke="#000" stroke-width="1.5"/>
<path d="M170.8,70.9 L175.6,75.7 M175.6,70.9 L170.8,75.7" stroke="#000" stroke-width="1.5"/>
<path d="M172.7,74.8 L177.5,79.6 M177.5,74.8 L172.7,79.6" stroke="#000" stroke-width="1.5"/>
<path d="M174.6,78.6 L179.4,83.4 M179.4,78.6 L174.6,83.4" stroke="#000" stroke-width="1.5"/>
<path d="M176.5,82.0 L181.3,86.8 M181.3,82.0 L176.5,86.8" stroke="#000" stroke-width="1.5"/>
<path d="M178.4,85.3 L183.2,90.1 M183.2,85.3 L178.4,90.1" stroke="#000" stroke-width="1.5"/>
<path d="M180.3,88.2 L185.1,93.0 M185.1,88.2 L180.3,93.0" stroke="#000" stroke-width="1.5"/>
<path d="M182.2,90.9 L187.0,95.7 M187.0,90.9 L182.2,95.7" stroke="#000" stroke-width="1.5"/>
<path d="M184.1,93.3 L188.9,98.1 M188.9,93.3 L184.1,98.1" stroke="#000" stroke-width="1.5"/>
<path d="M186.0,95.5 L190.8,100.3 M190.8,95.5 L186.0,100.3" stroke="#000" stroke-width="1.5"/>
<path d="M187.9,97.5 L192.7,102.3 M192.7,97.5 L187.9,102.3" stroke="#000" stroke-width="1.5"/>
<path d="M189.8,99.4 L194.6,104.2 M194.6,99.4 L189.8,104.2" stroke="#000" stroke-width="1.5"/>
<path d="M191.7,101.0 L196.5,105.8 M196.5,101.0 L191.7,105.8" stroke="#000" stroke-width="1.5"/>
<path d="M193.6,102.1 L198.4,106.9 M198.4,102.1 L193.6,106.9" stroke="#000" stroke-width="1.5"/>
<path d="M195.5,102.8 L200.3,107.6 M200.3,102.8 L195.5,107.6" stroke="#000" stroke-width="1.5"/>
<path d="M197.4,103.3 L202.2,108.1 M202.2,103.3 L197.4,108.1" stroke="#000" stroke-width="1.5"/>
<path d="M199.3,103.9 L204.1,108.7 M204.1,103.9 L199.3,108.7" stroke="#000" stroke-width="1.5"/>
<path d="M201.2,104.4 L206.0,109.2 M206.0,104.4 L201.2,109.2" stroke="#000" stroke-width="1.5"/>
<path d="M203.1,104.8 L207.9,109.6 M207.9,104.8 L203.1,109.6" stroke="#000" stroke-width="1.5"/>
<path d="M205.0,105.1 L209.8,109.9 M209.8,105.1 L205.0,109.9" stroke="#000" stroke-width="1.5"/>
<path d="M206.9,105.4 L211.7,110.2 M211.7,105.4 L206.9,110.2" stroke="#000" stroke-width="1.5"/>
<path d="M208.8,105.7 L213.6,110.5 M213.6,105.7 L208.8,110.5" stroke="#000" stroke-width="1.5"/>
<path d="M210.7,105.9 L215.5,110.7 M215.5,105.9 L210.7,110.7" stroke="#000" stroke-width="1.5"/>
<path d="M212.6,106.1 L217.4,110.9 M217.4,106.1 L212.6,110.9" stroke="#000" stroke-width="1.5"/>
<path d="M214.5,106.2 L219.3,111.0 M219.3,106.2 L214.5,111.0" stroke="#000" stroke-width="1.5"/>
<path d="M216.4,106.4 L221.2,111.2 M221.2,106.4 L216.4,111.2" stroke="#000" stroke-width="1.5"/>
<path d="M218.3,106.4 L223.1,111.2 M223.1,106.4 L218.3,111.2" stroke="#000" stroke-width="1.5"/>
<path d="M220.2,106.5 L225.0,111.3 M225.0,106.5 L220.2,111.3" stroke="#000" stroke-width="1.5"/>
<path d="M222.1,106.6 L226.9,111.4 M226.9,106.6 L222.1,111.4" stroke="#000" stroke-width="1.5"/>
<path d="M224.0,106.6 L228.8,111.4 M228.8,106.6 L224.0,111.4" stroke="#000" stroke-width="1.5"/>
<path d="M225.9,106.7 L230.7,111.5 M230.7,106.7 L225.9,111.5" stroke="#000" stroke-width="1.5"/>
<path d="M227.8,106.7 L232.6,111.5 M232.6,106.7 L227.8,111.5" stroke="#000" stroke-width="1.5"/>
<path d="M229.7,106.8 L234.5,111.6 M234.5,106.8 L229.7,111.6" stroke="#000" stroke-width="1.5"/>
<path d="M231.6,106.8 L236.4,111.6 M236.4,106.8 L231.6,111.6" stroke="#000" stroke-width="1.5"/>
<path d="M233.5,106.8 L238.3,111.6 M238.3,106.8 L233.5,111.6" stroke="#000" stroke-width="1.5"/>
<path d="M235.4,106.9 L240.2,111.7 M240.2,106.9 L235.4,111.7" stroke="#000" stroke-width="1.5"/>
<path d="M237.3,106.9 L242.1,111.7 M242.1,106.9 L237.3,111.7" stroke="#000" stroke-width="1.5"/>
<path d="M239.2,106.9 L244.0,111.7 M244.0,106.9 L239.2,111.7" stroke="#000" stroke-width="1.5"/>
<path d="M241.1,107.0 L245.9,111.8 M245.9,107.0 L241.1,111.8" stroke="#000" stroke-width="1.5"/>
<path d="M243.0,107.0 L247.8,111.8 M247.8,107.0 L243.0,111.8" stroke="#000" stroke-width="1.5"/>
<path d="M244.9,107.0 L249.7,111.8 M249.7,107.0 L244.9,111.8" stroke="#000" stroke-width="1.5"/>
<path d="M246.8,107.0 L251.6,111.8 M251.6,107.0 L246.8,111.8" stroke="#000" stroke-width="1.5"/>
<path d="M248.7,107.1 L253.5,111.9 M253.5,107.1 L248.7,111.9" stroke="#000" stroke-width="1.5"/>
<path d="M250.6,107.1 L255.4,111.9 M255.4,107.1 L250.6,111.9" stroke="#000" stroke-width="1.5"/>
<path d="M252.5,107.1 L257.3,111.9 M257.3,107.1 L252.5,111.9" stroke="#000" stroke-width="1.5"/>
<path d="M254.4,107.1 L259.2,111.9 M259.2,107.1 L254.4,111.9" stroke="#000" stroke-width="1.5"/>
<path d="M148.0,59.5 C149.3,59.6 153.7,59.6 156.0,60.0 C158.3,60.4 158.8,60.2 162.0,62.0 C165.2,63.8 170.5,68.1 175.0,71.0 C179.5,73.9 184.8,77.4 189.0,79.5 C193.2,81.6 194.8,82.1 200.0,83.8 C205.2,85.5 213.3,88.0 220.0,89.5 C226.7,91.0 233.9,91.8 240.0,92.5 C246.1,93.2 253.8,93.6 256.5,93.8" fill="none" stroke="#ff0000" stroke-width="4" stroke-linecap="round" stroke-linejoin="round"/>
<path d="M163.5,7.0 C164.4,9.2 167.1,15.4 169.0,20.0 C170.9,24.6 172.8,29.7 175.0,34.7 C177.2,39.7 179.4,45.0 182.0,50.0 C184.6,55.0 187.2,60.1 190.5,65.0 C193.8,69.9 198.4,76.1 202.0,79.5 C205.6,82.9 208.2,83.9 212.0,85.5 C215.8,87.1 220.3,88.3 225.0,89.3 C229.7,90.3 234.8,90.8 240.0,91.3 C245.2,91.8 253.8,92.3 256.5,92.5" fill="none" stroke="#0000ff" stroke-width="3.6" stroke-linecap="round" stroke-linejoin="round"/>
<line x1="146.9" y1="7" x2="146.9" y2="115.4" stroke="#000" stroke-width="1.5"/>
<line x1="146.2" y1="114.7" x2="258.5" y2="114.7" stroke="#000" stroke-width="1.6"/>
<line x1="257.6" y1="7" x2="257.6" y2="115.4" stroke="#0000ff" stroke-width="2"/>
<line x1="146.9" y1="109.7" x2="149.5" y2="109.7" stroke="#000" stroke-width="1.2"/>
<text transform="translate(140.60,112.86) scale(0.820,1)" font-size="10.90" font-weight="bold" fill="#000">0</text>
<line x1="146.9" y1="82.635" x2="149.5" y2="82.635" stroke="#000" stroke-width="1.2"/>
<text transform="translate(135.64,85.80) scale(0.820,1)" font-size="10.90" font-weight="bold" fill="#000">50</text>
<line x1="146.9" y1="55.57" x2="149.5" y2="55.57" stroke="#000" stroke-width="1.2"/>
<text transform="translate(130.68,58.73) scale(0.820,1)" font-size="10.90" font-weight="bold" fill="#000">100</text>
<line x1="146.9" y1="28.504999999999995" x2="149.5" y2="28.504999999999995" stroke="#000" stroke-width="1.2"/>
<text transform="translate(130.68,31.67) scale(0.820,1)" font-size="10.90" font-weight="bold" fill="#000">150</text>
<line x1="148.2" y1="114.7" x2="148.2" y2="112.5" stroke="#000" stroke-width="1.2"/>
<text transform="translate(145.46,125.73) scale(0.860,1)" font-size="10.80" font-weight="bold" fill="#000">1</text>
<line x1="202.39999999999998" y1="114.7" x2="202.39999999999998" y2="112.5" stroke="#000" stroke-width="1.2"/>
<text transform="translate(197.15,125.73) scale(0.860,1)" font-size="10.80" font-weight="bold" fill="#000">10</text>
<line x1="256.6" y1="114.7" x2="256.6" y2="112.5" stroke="#000" stroke-width="1.2"/>
<text transform="translate(248.77,125.73) scale(0.860,1)" font-size="10.80" font-weight="bold" fill="#000">100</text>
<line x1="257.6" y1="95.8" x2="255" y2="95.8" stroke="#0000ff" stroke-width="1.2"/>
<text transform="translate(259.25,99.49) scale(0.820,1)" font-size="10.70" font-weight="bold" fill="#0000ff">0</text>
<line x1="257.6" y1="73.87" x2="255" y2="73.87" stroke="#0000ff" stroke-width="1.2"/>
<text transform="translate(259.25,77.56) scale(0.820,1)" font-size="10.70" font-weight="bold" fill="#0000ff">-100</text>
<line x1="257.6" y1="51.94" x2="255" y2="51.94" stroke="#0000ff" stroke-width="1.2"/>
<text transform="translate(259.25,55.63) scale(0.820,1)" font-size="10.70" font-weight="bold" fill="#0000ff">-200</text>
<line x1="257.6" y1="30.010000000000005" x2="255" y2="30.010000000000005" stroke="#0000ff" stroke-width="1.2"/>
<text transform="translate(259.25,33.70) scale(0.820,1)" font-size="10.70" font-weight="bold" fill="#0000ff">-300</text>
<line x1="182" y1="14.6" x2="205.4" y2="14.6" stroke="#0000ff" stroke-width="3.6"/>
<text transform="translate(206.59,18.30) scale(0.959,1)" font-size="9.86" font-weight="bold" fill="#000">BFBST-0</text>
<line x1="182" y1="28" x2="205.4" y2="28" stroke="#ff0000" stroke-width="3.6"/>
<text transform="translate(206.59,31.70) scale(0.951,1)" font-size="9.86" font-weight="bold" fill="#000">BFBST-Mn</text>
<line x1="184.9" y1="40.3" x2="206.8" y2="40.3" stroke="#000" stroke-width="2"/>
<circle cx="195.9" cy="40.3" r="2.6" fill="#999" stroke="#000" stroke-width="1.3"/>
<text transform="translate(208.99,43.70) scale(0.952,1)" font-size="9.86" font-weight="bold" fill="#000">BFBST-0</text>
<line x1="184.9" y1="54.5" x2="206.8" y2="54.5" stroke="#000" stroke-width="2"/>
<path d="M192.6,51.2 L199.2,57.8 M199.2,51.2 L192.6,57.8" stroke="#000" stroke-width="2.6"/>
<text transform="translate(208.98,57.90) scale(0.967,1)" font-size="9.86" font-weight="bold" fill="#000">BFBST-Mn</text>
<line x1="167" y1="17" x2="181.4" y2="17" stroke="#555" stroke-width="0.8"/>
<line x1="147.6" y1="46.4" x2="158" y2="46.4" stroke="#555" stroke-width="0.8"/>
<line x1="30.3" y1="6.6" x2="279" y2="6.6" stroke="#000" stroke-width="2.4"/>
<line x1="31.5" y1="5.5" x2="31.5" y2="229.3" stroke="#000" stroke-width="2.3"/>
<line x1="30.3" y1="228.1" x2="279.5" y2="228.1" stroke="#000" stroke-width="2.6"/>
<line x1="278.6" y1="4.5" x2="278.6" y2="229.3" stroke="#0000ff" stroke-width="2.7"/>
<line x1="31.5" y1="215.3" x2="35" y2="215.3" stroke="#000" stroke-width="1.5"/>
<text transform="translate(21.60,219.51) scale(0.875,1)" font-size="15.10" font-weight="bold" fill="#000">0</text>
<line x1="31.5" y1="180.59900000000002" x2="35" y2="180.59900000000002" stroke="#000" stroke-width="1.5"/>
<text transform="translate(14.26,184.81) scale(0.875,1)" font-size="15.10" font-weight="bold" fill="#000">30</text>
<line x1="31.5" y1="145.89800000000002" x2="35" y2="145.89800000000002" stroke="#000" stroke-width="1.5"/>
<text transform="translate(14.26,150.11) scale(0.875,1)" font-size="15.10" font-weight="bold" fill="#000">60</text>
<line x1="31.5" y1="111.197" x2="35" y2="111.197" stroke="#000" stroke-width="1.5"/>
<text transform="translate(14.26,115.41) scale(0.875,1)" font-size="15.10" font-weight="bold" fill="#000">90</text>
<line x1="31.5" y1="76.49600000000001" x2="35" y2="76.49600000000001" stroke="#000" stroke-width="1.5"/>
<text transform="translate(6.93,80.71) scale(0.875,1)" font-size="15.10" font-weight="bold" fill="#000">120</text>
<line x1="31.5" y1="41.795000000000016" x2="35" y2="41.795000000000016" stroke="#000" stroke-width="1.5"/>
<text transform="translate(6.93,46.00) scale(0.875,1)" font-size="15.10" font-weight="bold" fill="#000">150</text>
<line x1="31.5" y1="7.093999999999994" x2="35" y2="7.093999999999994" stroke="#000" stroke-width="1.5"/>
<text transform="translate(6.93,11.30) scale(0.875,1)" font-size="15.10" font-weight="bold" fill="#000">180</text>
<line x1="36.3" y1="228" x2="36.3" y2="224.5" stroke="#000" stroke-width="1.5"/>
<text transform="translate(31.96,243.52) scale(0.920,1)" font-size="16.00" font-weight="bold" fill="#000">1</text>
<line x1="157.2" y1="228" x2="157.2" y2="224.5" stroke="#000" stroke-width="1.5"/>
<text transform="translate(149.18,243.52) scale(0.920,1)" font-size="16.00" font-weight="bold" fill="#000">10</text>
<line x1="278.1" y1="228" x2="278.1" y2="224.5" stroke="#000" stroke-width="1.5"/>
<text transform="translate(266.00,243.52) scale(0.920,1)" font-size="16.00" font-weight="bold" fill="#000">100</text>
<line x1="278.6" y1="5.560000000000002" x2="275" y2="5.560000000000002" stroke="#0000ff" stroke-width="1.5"/>
<text transform="translate(280.50,10.39) scale(0.900,1)" font-size="14.00" font-weight="bold" fill="#0000ff">-140</text>
<line x1="278.6" y1="33.28" x2="275" y2="33.28" stroke="#0000ff" stroke-width="1.5"/>
<text transform="translate(280.50,38.11) scale(0.900,1)" font-size="14.00" font-weight="bold" fill="#0000ff">-120</text>
<line x1="278.6" y1="61.0" x2="275" y2="61.0" stroke="#0000ff" stroke-width="1.5"/>
<text transform="translate(280.50,65.83) scale(0.900,1)" font-size="14.00" font-weight="bold" fill="#0000ff">-100</text>
<line x1="278.6" y1="88.72" x2="275" y2="88.72" stroke="#0000ff" stroke-width="1.5"/>
<text transform="translate(280.50,93.55) scale(0.900,1)" font-size="14.00" font-weight="bold" fill="#0000ff">-80</text>
<line x1="278.6" y1="116.44" x2="275" y2="116.44" stroke="#0000ff" stroke-width="1.5"/>
<text transform="translate(280.50,121.27) scale(0.900,1)" font-size="14.00" font-weight="bold" fill="#0000ff">-60</text>
<line x1="278.6" y1="144.16" x2="275" y2="144.16" stroke="#0000ff" stroke-width="1.5"/>
<text transform="translate(280.50,148.99) scale(0.900,1)" font-size="14.00" font-weight="bold" fill="#0000ff">-40</text>
<line x1="278.6" y1="171.88" x2="275" y2="171.88" stroke="#0000ff" stroke-width="1.5"/>
<text transform="translate(280.50,176.71) scale(0.900,1)" font-size="14.00" font-weight="bold" fill="#0000ff">-20</text>
<line x1="278.6" y1="199.6" x2="275" y2="199.6" stroke="#0000ff" stroke-width="1.5"/>
<text transform="translate(280.50,204.43) scale(0.900,1)" font-size="14.00" font-weight="bold" fill="#0000ff">0</text>
<line x1="278.6" y1="227.32" x2="275" y2="227.32" stroke="#0000ff" stroke-width="1.5"/>
<text transform="translate(280.56,232.15) scale(0.900,1)" font-size="14.00" font-weight="bold" fill="#0000ff">20</text>
<g transform="translate(7.50,125.80) rotate(-90)"><text transform="translate(-35.46,3.69) scale(1.073,1)" font-size="14.33" font-weight="bold" fill="#000">Z'(k Ohm)</text></g>
<g transform="translate(308.10,123.50) rotate(90)"><text transform="translate(-38.73,3.58) scale(1.150,1)" font-size="13.90" font-weight="bold" fill="#0000ff">Z''(k Ohm)</text></g>
<text transform="translate(98.62,254.59) scale(1.051,1)" font-size="14.33" font-weight="bold" fill="#000">Frequency (kHz)</text>
<text transform="translate(199.13,150.55) scale(0.915,1)" font-size="14.65" font-weight="bold" fill="#000">BFBST-Mn</text>
<text transform="translate(243.71,173.28) scale(0.934,1)" font-size="23.42" font-weight="bold" fill="#000">(a)</text>
<g transform="translate(67.3,33.8) rotate(46)"><text x="0" y="0" font-size="15.8" font-weight="bold" text-anchor="middle" dominant-baseline="central" textLength="33" lengthAdjust="spacingAndGlyphs">25<tspan font-size="9.5" dy="-6.5">0</tspan><tspan dy="6.5">C</tspan></text></g>
<g transform="translate(106.5,119.5) rotate(42)"><text x="0" y="0" font-size="16" font-weight="bold" text-anchor="middle" dominant-baseline="central" textLength="70" lengthAdjust="spacingAndGlyphs"><tspan font-family="Liberation Serif, serif" font-weight="normal" font-size="17.5">δT</tspan> = 25<tspan font-size="10" dy="-7">0</tspan><tspan dy="7">C</tspan></text></g>
<text x="57.3" y="172.8" font-size="15.5" font-weight="bold" textLength="38.5" lengthAdjust="spacingAndGlyphs">300<tspan font-size="9.7" dy="-7.5">0</tspan><tspan dy="7.5">C</tspan></text>
<rect x="368.6" y="6" width="143.9" height="83.5" fill="#f3f3f3"/>
<rect x="373.2" y="105.3" width="83.4" height="76.9" fill="#f3f3f3"/>
<path d="M379.1,50.8 L379.1,32.4 L393.7,32.4 M421,32.4 L434.4,32.4 L434.4,67.9 L407,67.9 M400.5,67.9 L379.1,67.9 L379.1,50.8" fill="none" stroke="#000" stroke-width="2"/>
<path d="M393.7,32.4 L395.1,29.2 L397.8,33.7 L400.5,29.2 L403.3,33.7 L406.0,29.2 L408.7,33.7 L411.4,29.2 L414.2,33.7 L416.9,29.2 L419.6,33.7 L421,32.4" fill="none" stroke="#000" stroke-width="1.6" stroke-linejoin="miter"/>
<line x1="371.8" y1="50.8" x2="393.3" y2="50.8" stroke="#000" stroke-width="2"/>
<line x1="416.7" y1="50.8" x2="448.1" y2="50.8" stroke="#000" stroke-width="2"/>
<rect x="393.3" y="46" width="23.4" height="10.0" fill="#fff" stroke="#000" stroke-width="1.8"/>
<text transform="translate(400.32,52.84) scale(0.825,1)" font-size="5.67" font-weight="bold" fill="#000" font-family="Liberation Serif, serif">CPE</text>
<line x1="400.5" y1="63.400000000000006" x2="400.5" y2="72.4" stroke="#000" stroke-width="2"/>
<line x1="407" y1="63.400000000000006" x2="407" y2="72.4" stroke="#000" stroke-width="2"/>
<path d="M448.1,50.7 L448.1,33.2 L463.6,33.2 M490.5,33.2 L503.5,33.2 L503.5,69 L476.1,69 M470,69 L448.1,69 L448.1,50.7" fill="none" stroke="#000" stroke-width="2"/>
<path d="M463.6,33.2 L464.9,29.6 L467.6,34.6 L470.3,29.6 L473.0,34.6 L475.7,29.6 L478.4,34.6 L481.1,29.6 L483.8,34.6 L486.5,29.6 L489.2,34.6 L490.5,33.2" fill="none" stroke="#000" stroke-width="1.6" stroke-linejoin="miter"/>
<line x1="440" y1="50.7" x2="463" y2="50.7" stroke="#000" stroke-width="2"/>
<line x1="486" y1="50.7" x2="507.8" y2="50.7" stroke="#000" stroke-width="2"/>
<rect x="463" y="46.6" width="23.0" height="10.3" fill="#fff" stroke="#000" stroke-width="1.8"/>
<text transform="translate(469.90,53.65) scale(0.787,1)" font-size="5.84" font-weight="bold" fill="#000" font-family="Liberation Serif, serif">CPE</text>
<line x1="470" y1="64.4" x2="470" y2="73.6" stroke="#000" stroke-width="2"/>
<line x1="476.1" y1="64.4" x2="476.1" y2="73.6" stroke="#000" stroke-width="2"/>
<path d="M385,143.8 L385,123.9 L401.8,123.9 M432.8,123.9 L448.1,123.9 L448.1,162.2 L416.9,162.2 M410.3,162.2 L385,162.2 L385,143.8" fill="none" stroke="#000" stroke-width="2"/>
<path d="M401.8,123.9 L403.4,118.5 L406.4,126.0 L409.6,118.5 L412.7,126.0 L415.8,118.5 L418.9,126.0 L421.9,118.5 L425.1,126.0 L428.2,118.5 L431.2,126.0 L432.8,123.9" fill="none" stroke="#000" stroke-width="1.6" stroke-linejoin="miter"/>
<line x1="376.7" y1="143.8" x2="401.5" y2="143.8" stroke="#000" stroke-width="2"/>
<line x1="428" y1="143.8" x2="455.7" y2="143.8" stroke="#000" stroke-width="2"/>
<rect x="401.5" y="138.5" width="26.5" height="11.4" fill="#fff" stroke="#000" stroke-width="1.8"/>
<text transform="translate(409.45,146.30) scale(0.820,1)" font-size="6.47" font-weight="bold" fill="#000" font-family="Liberation Serif, serif">CPE</text>
<line x1="410.3" y1="156.7" x2="410.3" y2="167.7" stroke="#000" stroke-width="2"/>
<line x1="416.9" y1="156.7" x2="416.9" y2="167.7" stroke="#000" stroke-width="2"/>
<text transform="translate(404.15,24.70) scale(0.868,1)" font-size="11.76" font-weight="bold" fill="#000" font-family="Liberation Serif, serif">R</text>
<text transform="translate(413.12,26.91) scale(0.816,1)" font-size="9.22" font-weight="bold" fill="#000" font-family="Liberation Serif, serif">b</text>
<text transform="translate(399.02,83.59) scale(1.009,1)" font-size="11.49" font-weight="bold" fill="#000" font-family="Liberation Serif, serif">C</text>
<text transform="translate(408.52,85.91) scale(0.816,1)" font-size="9.22" font-weight="bold" fill="#000" font-family="Liberation Serif, serif">b</text>
<text transform="translate(466.66,16.15) scale(0.845,1)" font-size="11.15" font-weight="bold" fill="#000" font-family="Liberation Serif, serif">Rgb</text>
<text transform="translate(464.99,85.15) scale(0.910,1)" font-size="11.15" font-weight="bold" fill="#000" font-family="Liberation Serif, serif">Cgb</text>
<text transform="translate(414.05,115.50) scale(0.867,1)" font-size="11.45" font-weight="bold" fill="#000" font-family="Liberation Serif, serif">R</text>
<text transform="translate(422.52,117.91) scale(0.816,1)" font-size="9.22" font-weight="bold" fill="#000" font-family="Liberation Serif, serif">b</text>
<text transform="translate(408.71,179.89) scale(1.051,1)" font-size="11.19" font-weight="bold" fill="#000" font-family="Liberation Serif, serif">C</text>
<text transform="translate(417.72,182.41) scale(0.816,1)" font-size="9.22" font-weight="bold" fill="#000" font-family="Liberation Serif, serif">b</text>
<circle cx="364.2" cy="64.0" r="4.6" fill="#141414"/>
<circle cx="362.6" cy="62.8" r="1.7" fill="#b0b0b0"/>
<circle cx="364.0" cy="68.1" r="4.6" fill="#141414"/>
<circle cx="362.4" cy="66.9" r="1.7" fill="#b0b0b0"/>
<circle cx="363.8" cy="72.1" r="4.6" fill="#141414"/>
<circle cx="362.2" cy="70.9" r="1.7" fill="#b0b0b0"/>
<circle cx="363.6" cy="76.2" r="4.6" fill="#141414"/>
<circle cx="362.0" cy="75.0" r="1.7" fill="#b0b0b0"/>
<circle cx="363.5" cy="80.2" r="4.6" fill="#141414"/>
<circle cx="361.9" cy="79.0" r="1.7" fill="#b0b0b0"/>
<circle cx="363.3" cy="84.3" r="4.6" fill="#141414"/>
<circle cx="361.7" cy="83.1" r="1.7" fill="#b0b0b0"/>
<circle cx="363.1" cy="88.3" r="4.6" fill="#141414"/>
<circle cx="361.5" cy="87.1" r="1.7" fill="#b0b0b0"/>
<circle cx="362.9" cy="92.4" r="4.6" fill="#141414"/>
<circle cx="361.3" cy="91.2" r="1.7" fill="#b0b0b0"/>
<circle cx="362.7" cy="96.4" r="4.6" fill="#141414"/>
<circle cx="361.1" cy="95.2" r="1.7" fill="#b0b0b0"/>
<circle cx="362.6" cy="100.5" r="4.6" fill="#141414"/>
<circle cx="361.0" cy="99.3" r="1.7" fill="#b0b0b0"/>
<circle cx="362.4" cy="104.5" r="4.6" fill="#141414"/>
<circle cx="360.8" cy="103.3" r="1.7" fill="#b0b0b0"/>
<circle cx="362.3" cy="108.6" r="4.6" fill="#141414"/>
<circle cx="360.7" cy="107.4" r="1.7" fill="#b0b0b0"/>
<circle cx="362.1" cy="112.6" r="4.6" fill="#141414"/>
<circle cx="360.5" cy="111.4" r="1.7" fill="#b0b0b0"/>
<circle cx="361.9" cy="116.7" r="4.6" fill="#141414"/>
<circle cx="360.3" cy="115.5" r="1.7" fill="#b0b0b0"/>
<circle cx="361.7" cy="120.7" r="4.6" fill="#141414"/>
<circle cx="360.1" cy="119.5" r="1.7" fill="#b0b0b0"/>
<circle cx="361.5" cy="124.8" r="4.6" fill="#141414"/>
<circle cx="359.9" cy="123.6" r="1.7" fill="#b0b0b0"/>
<circle cx="361.3" cy="128.8" r="4.6" fill="#141414"/>
<circle cx="359.7" cy="127.6" r="1.7" fill="#b0b0b0"/>
<circle cx="361.1" cy="132.9" r="4.6" fill="#141414"/>
<circle cx="359.5" cy="131.7" r="1.7" fill="#b0b0b0"/>
<circle cx="360.9" cy="136.9" r="4.6" fill="#141414"/>
<circle cx="359.3" cy="135.7" r="1.7" fill="#b0b0b0"/>
<circle cx="360.8" cy="141.0" r="4.6" fill="#141414"/>
<circle cx="359.2" cy="139.8" r="1.7" fill="#b0b0b0"/>
<circle cx="360.6" cy="145.0" r="4.6" fill="#141414"/>
<circle cx="359.0" cy="143.8" r="1.7" fill="#b0b0b0"/>
<circle cx="360.4" cy="149.1" r="4.6" fill="#141414"/>
<circle cx="358.8" cy="147.9" r="1.7" fill="#b0b0b0"/>
<circle cx="360.3" cy="153.1" r="4.6" fill="#141414"/>
<circle cx="358.7" cy="151.9" r="1.7" fill="#b0b0b0"/>
<circle cx="360.1" cy="157.2" r="4.6" fill="#141414"/>
<circle cx="358.5" cy="156.0" r="1.7" fill="#b0b0b0"/>
<circle cx="360.0" cy="161.2" r="4.6" fill="#141414"/>
<circle cx="358.4" cy="160.0" r="1.7" fill="#b0b0b0"/>
<circle cx="359.8" cy="165.3" r="4.6" fill="#141414"/>
<circle cx="358.2" cy="164.1" r="1.7" fill="#b0b0b0"/>
<circle cx="359.6" cy="169.3" r="4.6" fill="#141414"/>
<circle cx="358.0" cy="168.1" r="1.7" fill="#b0b0b0"/>
<circle cx="359.4" cy="173.4" r="4.6" fill="#141414"/>
<circle cx="357.8" cy="172.2" r="1.7" fill="#b0b0b0"/>
<circle cx="359.2" cy="177.4" r="4.6" fill="#141414"/>
<circle cx="357.6" cy="176.2" r="1.7" fill="#b0b0b0"/>
<circle cx="359.0" cy="181.5" r="4.6" fill="#141414"/>
<circle cx="357.4" cy="180.3" r="1.7" fill="#b0b0b0"/>
<circle cx="358.8" cy="185.5" r="4.6" fill="#141414"/>
<circle cx="357.2" cy="184.3" r="1.7" fill="#b0b0b0"/>
<circle cx="358.6" cy="189.6" r="4.6" fill="#141414"/>
<circle cx="357.0" cy="188.4" r="1.7" fill="#b0b0b0"/>
<circle cx="358.4" cy="193.6" r="4.6" fill="#141414"/>
<circle cx="356.8" cy="192.4" r="1.7" fill="#b0b0b0"/>
<circle cx="358.2" cy="197.7" r="4.6" fill="#141414"/>
<circle cx="356.6" cy="196.5" r="1.7" fill="#b0b0b0"/>
<circle cx="358.0" cy="201.7" r="4.6" fill="#141414"/>
<circle cx="356.4" cy="200.5" r="1.7" fill="#b0b0b0"/>
<circle cx="357.8" cy="205.8" r="4.6" fill="#141414"/>
<circle cx="356.2" cy="204.6" r="1.7" fill="#b0b0b0"/>
<circle cx="357.6" cy="209.8" r="4.6" fill="#141414"/>
<circle cx="356.0" cy="208.6" r="1.7" fill="#b0b0b0"/>
<circle cx="357.4" cy="213.9" r="4.6" fill="#141414"/>
<circle cx="355.8" cy="212.7" r="1.7" fill="#b0b0b0"/>
<circle cx="357.2" cy="217.9" r="4.6" fill="#141414"/>
<circle cx="355.6" cy="216.7" r="1.7" fill="#b0b0b0"/>
<circle cx="357.0" cy="222.0" r="4.6" fill="#141414"/>
<circle cx="355.4" cy="220.8" r="1.7" fill="#b0b0b0"/>
<circle cx="364.2" cy="64" r="4.4" fill="#1a1a1a"/><circle cx="363" cy="62.4" r="1.8" fill="#ccc"/>
<line x1="357.5" y1="223" x2="363.2" y2="66" stroke="#00ff00" stroke-width="1.3"/>
<circle cx="356.5" cy="223.0" r="3.3" fill="#888" stroke="#000" stroke-width="1.7"/>
<circle cx="356.8" cy="221.7" r="3.3" fill="#888" stroke="#000" stroke-width="1.7"/>
<circle cx="357.1" cy="220.4" r="3.3" fill="#888" stroke="#000" stroke-width="1.7"/>
<circle cx="357.3" cy="219.0" r="3.3" fill="#888" stroke="#000" stroke-width="1.7"/>
<circle cx="357.6" cy="217.7" r="3.3" fill="#888" stroke="#000" stroke-width="1.7"/>
<circle cx="357.9" cy="216.4" r="3.3" fill="#888" stroke="#000" stroke-width="1.7"/>
<circle cx="358.4" cy="215.1" r="3.3" fill="#888" stroke="#000" stroke-width="1.7"/>
<circle cx="358.9" cy="213.9" r="3.3" fill="#888" stroke="#000" stroke-width="1.7"/>
<circle cx="359.4" cy="212.7" r="3.3" fill="#888" stroke="#000" stroke-width="1.7"/>
<circle cx="360.0" cy="211.4" r="3.3" fill="#888" stroke="#000" stroke-width="1.7"/>
<circle cx="360.5" cy="210.2" r="3.3" fill="#888" stroke="#000" stroke-width="1.7"/>
<circle cx="361.0" cy="209.0" r="3.3" fill="#888" stroke="#000" stroke-width="1.7"/>
<circle cx="361.9" cy="207.9" r="3.3" fill="#888" stroke="#000" stroke-width="1.7"/>
<circle cx="362.8" cy="206.9" r="3.3" fill="#888" stroke="#000" stroke-width="1.7"/>
<circle cx="363.6" cy="205.9" r="3.3" fill="#888" stroke="#000" stroke-width="1.7"/>
<circle cx="364.5" cy="204.8" r="3.3" fill="#888" stroke="#000" stroke-width="1.7"/>
<circle cx="365.3" cy="203.8" r="3.3" fill="#888" stroke="#000" stroke-width="1.7"/>
<circle cx="366.3" cy="202.8" r="3.3" fill="#888" stroke="#000" stroke-width="1.7"/>
<circle cx="367.4" cy="202.0" r="3.3" fill="#888" stroke="#000" stroke-width="1.7"/>
<circle cx="368.5" cy="201.3" r="3.3" fill="#888" stroke="#000" stroke-width="1.7"/>
<circle cx="369.6" cy="200.5" r="3.3" fill="#888" stroke="#000" stroke-width="1.7"/>
<circle cx="370.7" cy="199.7" r="3.3" fill="#888" stroke="#000" stroke-width="1.7"/>
<circle cx="371.8" cy="199.0" r="3.3" fill="#888" stroke="#000" stroke-width="1.7"/>
<circle cx="372.9" cy="198.2" r="3.3" fill="#888" stroke="#000" stroke-width="1.7"/>
<circle cx="374.0" cy="197.5" r="3.3" fill="#888" stroke="#000" stroke-width="1.7"/>
<circle cx="375.2" cy="196.9" r="3.3" fill="#888" stroke="#000" stroke-width="1.7"/>
<circle cx="376.4" cy="196.3" r="3.3" fill="#888" stroke="#000" stroke-width="1.7"/>
<circle cx="377.6" cy="195.7" r="3.3" fill="#888" stroke="#000" stroke-width="1.7"/>
<circle cx="378.9" cy="195.1" r="3.3" fill="#888" stroke="#000" stroke-width="1.7"/>
<circle cx="380.1" cy="194.5" r="3.3" fill="#888" stroke="#000" stroke-width="1.7"/>
<circle cx="381.3" cy="193.9" r="3.3" fill="#888" stroke="#000" stroke-width="1.7"/>
<circle cx="382.5" cy="193.3" r="3.3" fill="#888" stroke="#000" stroke-width="1.7"/>
<circle cx="383.7" cy="192.8" r="3.3" fill="#888" stroke="#000" stroke-width="1.7"/>
<circle cx="385.0" cy="192.4" r="3.3" fill="#888" stroke="#000" stroke-width="1.7"/>
<circle cx="386.3" cy="192.1" r="3.3" fill="#888" stroke="#000" stroke-width="1.7"/>
<circle cx="387.6" cy="191.7" r="3.3" fill="#888" stroke="#000" stroke-width="1.7"/>
<circle cx="388.9" cy="191.4" r="3.3" fill="#888" stroke="#000" stroke-width="1.7"/>
<circle cx="390.2" cy="191.0" r="3.3" fill="#888" stroke="#000" stroke-width="1.7"/>
<circle cx="391.5" cy="190.6" r="3.3" fill="#888" stroke="#000" stroke-width="1.7"/>
<circle cx="392.8" cy="190.4" r="3.3" fill="#888" stroke="#000" stroke-width="1.7"/>
<circle cx="394.2" cy="190.2" r="3.3" fill="#888" stroke="#000" stroke-width="1.7"/>
<circle cx="395.5" cy="190.0" r="3.3" fill="#888" stroke="#000" stroke-width="1.7"/>
<circle cx="396.8" cy="189.8" r="3.3" fill="#888" stroke="#000" stroke-width="1.7"/>
<circle cx="398.2" cy="189.6" r="3.3" fill="#888" stroke="#000" stroke-width="1.7"/>
<circle cx="399.5" cy="189.4" r="3.3" fill="#888" stroke="#000" stroke-width="1.7"/>
<circle cx="399.5" cy="189.4" r="4.4" fill="#fff" stroke="#000" stroke-width="1.4"/>
<path d="M357.0,224.0 C357.4,222.3 358.3,217.0 359.5,214.0 C360.7,211.0 362.1,208.3 364.0,206.0 C365.9,203.7 368.3,201.8 371.0,200.0 C373.7,198.2 376.8,196.8 380.0,195.5 C383.2,194.2 386.8,193.0 390.0,192.0 C393.2,191.0 397.5,189.9 399.0,189.5" fill="none" stroke="#00ff00" stroke-width="1.4" stroke-linecap="round" stroke-linejoin="round"/>
<text x="381.2" y="214.2" font-size="15.7" font-weight="bold" textLength="30" lengthAdjust="spacingAndGlyphs">25<tspan font-size="9.5" dy="-7">0</tspan><tspan dy="7">C</tspan></text>
<rect x="474" y="92" width="124" height="117" fill="#fff"/>
<path d="M474.8,199.5 L475.0,196.1 L475.5,192.7 L476.5,189.5 L477.8,186.3 L479.4,183.2 L481.4,180.2 L483.7,177.4 L486.4,174.8 L489.3,172.4 L492.5,170.1 L496.0,168.1 L499.7,166.2 L503.7,164.7 L507.8,163.3 L512.1,162.2 L516.6,161.4 L521.2,160.9 L525.8,160.6 L530.6,160.5 L535.3,160.8 L540.0,161.3 L544.8,162.1 L549.4,163.1 L554.0,164.4 L558.5,166.0 L562.8,167.8 L566.9,169.8 L570.9,172.0 L574.6,174.4 L578.1,177.0 L581.3,179.8 L584.2,182.7 L586.9,185.8 L589.2,189.0 L591.2,192.2 L592.8,195.6 L594.1,199.0 L595.1,202.4 L595.6,205.9 L595.8,209.3" fill="none" stroke="#800000" stroke-width="5"/>
<path d="M474.8,199.5 L475.0,196.1 L475.5,192.7 L476.5,189.5 L477.8,186.3 L479.4,183.2 L481.4,180.2 L483.7,177.4 L486.4,174.8 L489.3,172.4 L492.5,170.1 L496.0,168.1 L499.7,166.2 L503.7,164.7 L507.8,163.3 L512.1,162.2 L516.6,161.4 L521.2,160.9 L525.8,160.6 L530.6,160.5 L535.3,160.8 L540.0,161.3 L544.8,162.1 L549.4,163.1 L554.0,164.4 L558.5,166.0 L562.8,167.8 L566.9,169.8 L570.9,172.0 L574.6,174.4 L578.1,177.0 L581.3,179.8 L584.2,182.7 L586.9,185.8 L589.2,189.0 L591.2,192.2 L592.8,195.6 L594.1,199.0 L595.1,202.4 L595.6,205.9 L595.8,209.3" fill="none" stroke="#00ff00" stroke-width="2.1"/>
<path d="M474.8,198.0 L474.9,196.5 L475.2,195.1 L475.6,193.7 L476.3,192.3 L477.1,191.1 L478.1,189.9 L479.3,188.8 L480.6,187.8 L482.1,186.9 L483.7,186.0 L485.4,185.3 L487.3,184.8 L489.3,184.3 L491.4,183.9 L493.5,183.7 L495.8,183.6 L498.1,183.6 L500.4,183.8 L502.8,184.0 L505.1,184.4 L507.5,184.9 L509.9,185.5 L512.2,186.3 L514.5,187.1 L516.8,188.0 L518.9,189.1 L521.0,190.2 L523.0,191.4 L524.9,192.7 L526.6,194.0 L528.2,195.4 L529.7,196.9 L531.0,198.4 L532.2,199.9 L533.2,201.5 L534.0,203.1 L534.7,204.7 L535.1,206.2 L535.4,207.8 L535.5,209.3" fill="none" stroke="#008b8b" stroke-width="4.5"/>
<path d="M474.8,198.0 L474.9,196.5 L475.2,195.1 L475.6,193.7 L476.3,192.3 L477.1,191.1 L478.1,189.9 L479.3,188.8 L480.6,187.8 L482.1,186.9 L483.7,186.0 L485.4,185.3 L487.3,184.8 L489.3,184.3 L491.4,183.9 L493.5,183.7 L495.8,183.6 L498.1,183.6 L500.4,183.8 L502.8,184.0 L505.1,184.4 L507.5,184.9 L509.9,185.5 L512.2,186.3 L514.5,187.1 L516.8,188.0 L518.9,189.1 L521.0,190.2 L523.0,191.4 L524.9,192.7 L526.6,194.0 L528.2,195.4 L529.7,196.9 L531.0,198.4 L532.2,199.9 L533.2,201.5 L534.0,203.1 L534.7,204.7 L535.1,206.2 L535.4,207.8 L535.5,209.3" fill="none" stroke="#00ff00" stroke-width="1.9"/>
<path d="M474.8,201.0 L474.9,200.3 L475.0,199.6 L475.3,198.9 L475.6,198.3 L476.1,197.7 L476.6,197.2 L477.3,196.7 L478.0,196.3 L478.8,195.9 L479.7,195.6 L480.7,195.3 L481.7,195.1 L482.8,195.0 L484.0,194.9 L485.2,194.9 L486.4,195.0 L487.7,195.1 L489.0,195.3 L490.3,195.5 L491.6,195.8 L493.0,196.2 L494.3,196.6 L495.6,197.0 L496.9,197.5 L498.1,198.1 L499.3,198.7 L500.5,199.3 L501.6,200.0 L502.6,200.7 L503.6,201.5 L504.5,202.2 L505.3,203.0 L506.0,203.8 L506.7,204.6 L507.2,205.4 L507.7,206.2 L508.0,207.0 L508.3,207.8 L508.4,208.6 L508.5,209.3" fill="none" stroke="#ff8c00" stroke-width="4.5"/>
<path d="M474.8,201.0 L474.9,200.3 L475.0,199.6 L475.3,198.9 L475.6,198.3 L476.1,197.7 L476.6,197.2 L477.3,196.7 L478.0,196.3 L478.8,195.9 L479.7,195.6 L480.7,195.3 L481.7,195.1 L482.8,195.0 L484.0,194.9 L485.2,194.9 L486.4,195.0 L487.7,195.1 L489.0,195.3 L490.3,195.5 L491.6,195.8 L493.0,196.2 L494.3,196.6 L495.6,197.0 L496.9,197.5 L498.1,198.1 L499.3,198.7 L500.5,199.3 L501.6,200.0 L502.6,200.7 L503.6,201.5 L504.5,202.2 L505.3,203.0 L506.0,203.8 L506.7,204.6 L507.2,205.4 L507.7,206.2 L508.0,207.0 L508.3,207.8 L508.4,208.6 L508.5,209.3" fill="none" stroke="#00ff00" stroke-width="1.9"/>
<path d="M474.8,204.0 L474.8,203.6 L474.9,203.2 L475.0,202.9 L475.2,202.5 L475.4,202.2 L475.7,202.0 L476.0,201.7 L476.4,201.5 L476.8,201.3 L477.2,201.1 L477.7,201.0 L478.2,200.9 L478.7,200.9 L479.3,200.9 L479.9,200.9 L480.5,200.9 L481.1,201.0 L481.7,201.1 L482.4,201.3 L483.0,201.5 L483.6,201.7 L484.3,202.0 L484.9,202.3 L485.5,202.6 L486.1,202.9 L486.7,203.3 L487.3,203.6 L487.8,204.0 L488.3,204.5 L488.8,204.9 L489.2,205.3 L489.6,205.8 L490.0,206.2 L490.3,206.7 L490.6,207.1 L490.8,207.6 L491.0,208.0 L491.1,208.5 L491.2,208.9 L491.2,209.3" fill="none" stroke="#ff0000" stroke-width="4"/>
<path d="M474.8,204.0 L474.8,203.6 L474.9,203.2 L475.0,202.9 L475.2,202.5 L475.4,202.2 L475.7,202.0 L476.0,201.7 L476.4,201.5 L476.8,201.3 L477.2,201.1 L477.7,201.0 L478.2,200.9 L478.7,200.9 L479.3,200.9 L479.9,200.9 L480.5,200.9 L481.1,201.0 L481.7,201.1 L482.4,201.3 L483.0,201.5 L483.6,201.7 L484.3,202.0 L484.9,202.3 L485.5,202.6 L486.1,202.9 L486.7,203.3 L487.3,203.6 L487.8,204.0 L488.3,204.5 L488.8,204.9 L489.2,205.3 L489.6,205.8 L490.0,206.2 L490.3,206.7 L490.6,207.1 L490.8,207.6 L491.0,208.0 L491.1,208.5 L491.2,208.9 L491.2,209.3" fill="none" stroke="#00ff00" stroke-width="1.7"/>
<path d="M474.8,205.5 L474.8,205.2 L474.9,204.9 L475.0,204.6 L475.1,204.4 L475.3,204.2 L475.5,203.9 L475.8,203.7 L476.1,203.6 L476.4,203.4 L476.8,203.3 L477.2,203.2 L477.6,203.1 L478.1,203.1 L478.5,203.1 L479.0,203.1 L479.5,203.1 L480.1,203.2 L480.6,203.3 L481.1,203.4 L481.6,203.5 L482.2,203.7 L482.7,203.8 L483.2,204.1 L483.8,204.3 L484.3,204.5 L484.8,204.8 L485.2,205.1 L485.7,205.4 L486.1,205.7 L486.5,206.0 L486.9,206.3 L487.2,206.6 L487.5,207.0 L487.8,207.3 L488.0,207.7 L488.2,208.0 L488.3,208.3 L488.4,208.7 L488.5,209.0 L488.5,209.3" fill="none" stroke="#00cc00" stroke-width="3.5"/>
<path d="M474.8,205.5 L474.8,205.2 L474.9,204.9 L475.0,204.6 L475.1,204.4 L475.3,204.2 L475.5,203.9 L475.8,203.7 L476.1,203.6 L476.4,203.4 L476.8,203.3 L477.2,203.2 L477.6,203.1 L478.1,203.1 L478.5,203.1 L479.0,203.1 L479.5,203.1 L480.1,203.2 L480.6,203.3 L481.1,203.4 L481.6,203.5 L482.2,203.7 L482.7,203.8 L483.2,204.1 L483.8,204.3 L484.3,204.5 L484.8,204.8 L485.2,205.1 L485.7,205.4 L486.1,205.7 L486.5,206.0 L486.9,206.3 L487.2,206.6 L487.5,207.0 L487.8,207.3 L488.0,207.7 L488.2,208.0 L488.3,208.3 L488.4,208.7 L488.5,209.0 L488.5,209.3" fill="none" stroke="#00ff00" stroke-width="1.5"/>
<path d="M474.8,206.5 L474.8,206.3 L474.9,206.1 L474.9,205.9 L475.0,205.7 L475.2,205.5 L475.3,205.3 L475.5,205.2 L475.7,205.1 L475.9,205.0 L476.1,204.9 L476.4,204.8 L476.7,204.7 L477.0,204.7 L477.3,204.7 L477.6,204.7 L478.0,204.7 L478.3,204.8 L478.7,204.8 L479.0,204.9 L479.4,205.0 L479.8,205.1 L480.1,205.3 L480.5,205.4 L480.8,205.6 L481.2,205.8 L481.5,206.0 L481.8,206.2 L482.1,206.4 L482.4,206.6 L482.7,206.8 L482.9,207.1 L483.1,207.3 L483.3,207.6 L483.5,207.8 L483.6,208.1 L483.8,208.3 L483.9,208.6 L483.9,208.8 L484.0,209.1 L484.0,209.3" fill="none" stroke="#8a2be2" stroke-width="3.5"/>
<path d="M474.8,206.5 L474.8,206.3 L474.9,206.1 L474.9,205.9 L475.0,205.7 L475.2,205.5 L475.3,205.3 L475.5,205.2 L475.7,205.1 L475.9,205.0 L476.1,204.9 L476.4,204.8 L476.7,204.7 L477.0,204.7 L477.3,204.7 L477.6,204.7 L478.0,204.7 L478.3,204.8 L478.7,204.8 L479.0,204.9 L479.4,205.0 L479.8,205.1 L480.1,205.3 L480.5,205.4 L480.8,205.6 L481.2,205.8 L481.5,206.0 L481.8,206.2 L482.1,206.4 L482.4,206.6 L482.7,206.8 L482.9,207.1 L483.1,207.3 L483.3,207.6 L483.5,207.8 L483.6,208.1 L483.8,208.3 L483.9,208.6 L483.9,208.8 L484.0,209.1 L484.0,209.3" fill="none" stroke="#00ff00" stroke-width="1.5"/>
<path d="M474.8,207.5 L474.8,207.4 L474.8,207.2 L474.9,207.1 L474.9,207.0 L475.0,206.8 L475.1,206.7 L475.2,206.6 L475.3,206.6 L475.4,206.5 L475.6,206.4 L475.7,206.4 L475.9,206.3 L476.0,206.3 L476.2,206.3 L476.4,206.3 L476.6,206.3 L476.8,206.3 L477.0,206.4 L477.2,206.4 L477.4,206.5 L477.6,206.6 L477.8,206.7 L478.0,206.8 L478.2,206.9 L478.4,207.0 L478.6,207.1 L478.8,207.3 L478.9,207.4 L479.1,207.5 L479.2,207.7 L479.4,207.9 L479.5,208.0 L479.6,208.2 L479.7,208.3 L479.8,208.5 L479.9,208.7 L479.9,208.8 L480.0,209.0 L480.0,209.1 L480.0,209.3" fill="none" stroke="#808000" stroke-width="3"/>
<path d="M474.8,207.5 L474.8,207.4 L474.8,207.2 L474.9,207.1 L474.9,207.0 L475.0,206.8 L475.1,206.7 L475.2,206.6 L475.3,206.6 L475.4,206.5 L475.6,206.4 L475.7,206.4 L475.9,206.3 L476.0,206.3 L476.2,206.3 L476.4,206.3 L476.6,206.3 L476.8,206.3 L477.0,206.4 L477.2,206.4 L477.4,206.5 L477.6,206.6 L477.8,206.7 L478.0,206.8 L478.2,206.9 L478.4,207.0 L478.6,207.1 L478.8,207.3 L478.9,207.4 L479.1,207.5 L479.2,207.7 L479.4,207.9 L479.5,208.0 L479.6,208.2 L479.7,208.3 L479.8,208.5 L479.9,208.7 L479.9,208.8 L480.0,209.0 L480.0,209.1 L480.0,209.3" fill="none" stroke="#00ff00" stroke-width="1.3"/>
<path d="M474.5,199.0 C474.8,195.5 475.4,185.8 476.0,178.0 C476.6,170.2 477.2,161.3 478.0,152.0 C478.8,142.7 479.7,131.9 480.5,122.0 C481.3,112.1 482.6,97.4 483.0,92.5" fill="none" stroke="#222" stroke-width="3.6" stroke-linecap="round" stroke-linejoin="round"/>
<circle cx="474.5" cy="199.0" r="2.5" fill="#777"/>
<circle cx="474.8" cy="194.4" r="2.5" fill="#777"/>
<circle cx="475.2" cy="189.7" r="2.5" fill="#777"/>
<circle cx="475.5" cy="185.1" r="2.5" fill="#777"/>
<circle cx="475.8" cy="180.5" r="2.5" fill="#777"/>
<circle cx="476.2" cy="175.8" r="2.5" fill="#777"/>
<circle cx="476.5" cy="171.2" r="2.5" fill="#777"/>
<circle cx="476.9" cy="166.6" r="2.5" fill="#777"/>
<circle cx="477.2" cy="161.9" r="2.5" fill="#777"/>
<circle cx="477.6" cy="157.3" r="2.5" fill="#777"/>
<circle cx="477.9" cy="152.7" r="2.5" fill="#777"/>
<circle cx="478.3" cy="148.0" r="2.5" fill="#777"/>
<circle cx="478.7" cy="143.4" r="2.5" fill="#777"/>
<circle cx="479.1" cy="138.8" r="2.5" fill="#777"/>
<circle cx="479.5" cy="134.2" r="2.5" fill="#777"/>
<circle cx="479.9" cy="129.5" r="2.5" fill="#777"/>
<circle cx="480.3" cy="124.9" r="2.5" fill="#777"/>
<circle cx="480.6" cy="120.3" r="2.5" fill="#777"/>
<circle cx="481.0" cy="115.6" r="2.5" fill="#777"/>
<circle cx="481.4" cy="111.0" r="2.5" fill="#777"/>
<circle cx="481.8" cy="106.4" r="2.5" fill="#777"/>
<circle cx="482.2" cy="101.8" r="2.5" fill="#777"/>
<circle cx="482.6" cy="97.1" r="2.5" fill="#777"/>
<circle cx="483.0" cy="92.5" r="2.5" fill="#777"/>
<path d="M474.5,199.0 C474.8,195.5 475.4,185.8 476.0,178.0 C476.6,170.2 477.2,161.3 478.0,152.0 C478.8,142.7 479.7,131.9 480.5,122.0 C481.3,112.1 482.6,97.4 483.0,92.5" fill="none" stroke="#00ff00" stroke-width="1.3" stroke-linecap="round" stroke-linejoin="round"/>
<path d="M474.5,199.0 C474.9,195.5 476.0,185.8 476.8,178.0 C477.6,170.2 478.5,161.3 479.5,152.0 C480.5,142.7 481.8,131.9 483.0,122.0 C484.2,112.1 486.3,97.4 487.0,92.5" fill="none" stroke="#0000cc" stroke-width="3.6" stroke-linecap="round" stroke-linejoin="round"/>
<circle cx="474.5" cy="199.0" r="2.5" fill="#1e3cff"/>
<circle cx="475.0" cy="194.4" r="2.5" fill="#1e3cff"/>
<circle cx="475.5" cy="189.7" r="2.5" fill="#1e3cff"/>
<circle cx="476.0" cy="185.1" r="2.5" fill="#1e3cff"/>
<circle cx="476.5" cy="180.5" r="2.5" fill="#1e3cff"/>
<circle cx="477.0" cy="175.8" r="2.5" fill="#1e3cff"/>
<circle cx="477.5" cy="171.2" r="2.5" fill="#1e3cff"/>
<circle cx="478.0" cy="166.5" r="2.5" fill="#1e3cff"/>
<circle cx="478.5" cy="161.9" r="2.5" fill="#1e3cff"/>
<circle cx="479.0" cy="157.3" r="2.5" fill="#1e3cff"/>
<circle cx="479.4" cy="152.6" r="2.5" fill="#1e3cff"/>
<circle cx="480.0" cy="148.0" r="2.5" fill="#1e3cff"/>
<circle cx="480.5" cy="143.4" r="2.5" fill="#1e3cff"/>
<circle cx="481.0" cy="138.7" r="2.5" fill="#1e3cff"/>
<circle cx="481.6" cy="134.1" r="2.5" fill="#1e3cff"/>
<circle cx="482.1" cy="129.5" r="2.5" fill="#1e3cff"/>
<circle cx="482.7" cy="124.8" r="2.5" fill="#1e3cff"/>
<circle cx="483.2" cy="120.2" r="2.5" fill="#1e3cff"/>
<circle cx="483.9" cy="115.6" r="2.5" fill="#1e3cff"/>
<circle cx="484.5" cy="111.0" r="2.5" fill="#1e3cff"/>
<circle cx="485.1" cy="106.4" r="2.5" fill="#1e3cff"/>
<circle cx="485.7" cy="101.7" r="2.5" fill="#1e3cff"/>
<circle cx="486.4" cy="97.1" r="2.5" fill="#1e3cff"/>
<circle cx="487.0" cy="92.5" r="2.5" fill="#1e3cff"/>
<path d="M474.5,199.0 C474.9,195.5 476.0,185.8 476.8,178.0 C477.6,170.2 478.5,161.3 479.5,152.0 C480.5,142.7 481.8,131.9 483.0,122.0 C484.2,112.1 486.3,97.4 487.0,92.5" fill="none" stroke="#00ff00" stroke-width="1.3" stroke-linecap="round" stroke-linejoin="round"/>
<path d="M474.5,199.0 C475.1,194.8 476.6,182.2 478.0,174.0 C479.4,165.8 481.1,158.8 483.0,150.0 C484.9,141.2 487.2,130.6 489.5,121.0 C491.8,111.4 495.8,97.2 497.0,92.5" fill="none" stroke="#cc0000" stroke-width="3.6" stroke-linecap="round" stroke-linejoin="round"/>
<circle cx="474.5" cy="199.0" r="2.5" fill="#ff2020"/>
<circle cx="475.2" cy="194.3" r="2.5" fill="#ff2020"/>
<circle cx="475.8" cy="189.6" r="2.5" fill="#ff2020"/>
<circle cx="476.5" cy="184.9" r="2.5" fill="#ff2020"/>
<circle cx="477.1" cy="180.2" r="2.5" fill="#ff2020"/>
<circle cx="477.8" cy="175.5" r="2.5" fill="#ff2020"/>
<circle cx="478.6" cy="170.9" r="2.5" fill="#ff2020"/>
<circle cx="479.6" cy="166.3" r="2.5" fill="#ff2020"/>
<circle cx="480.6" cy="161.6" r="2.5" fill="#ff2020"/>
<circle cx="481.5" cy="157.0" r="2.5" fill="#ff2020"/>
<circle cx="482.5" cy="152.3" r="2.5" fill="#ff2020"/>
<circle cx="483.5" cy="147.7" r="2.5" fill="#ff2020"/>
<circle cx="484.5" cy="143.1" r="2.5" fill="#ff2020"/>
<circle cx="485.6" cy="138.5" r="2.5" fill="#ff2020"/>
<circle cx="486.6" cy="133.8" r="2.5" fill="#ff2020"/>
<circle cx="487.7" cy="129.2" r="2.5" fill="#ff2020"/>
<circle cx="488.7" cy="124.6" r="2.5" fill="#ff2020"/>
<circle cx="489.8" cy="120.0" r="2.5" fill="#ff2020"/>
<circle cx="491.0" cy="115.4" r="2.5" fill="#ff2020"/>
<circle cx="492.2" cy="110.8" r="2.5" fill="#ff2020"/>
<circle cx="493.4" cy="106.2" r="2.5" fill="#ff2020"/>
<circle cx="494.6" cy="101.7" r="2.5" fill="#ff2020"/>
<circle cx="495.8" cy="97.1" r="2.5" fill="#ff2020"/>
<circle cx="497.0" cy="92.5" r="2.5" fill="#ff2020"/>
<path d="M474.5,199.0 C475.1,194.8 476.6,182.2 478.0,174.0 C479.4,165.8 481.1,158.8 483.0,150.0 C484.9,141.2 487.2,130.6 489.5,121.0 C491.8,111.4 495.8,97.2 497.0,92.5" fill="none" stroke="#00ff00" stroke-width="1.3" stroke-linecap="round" stroke-linejoin="round"/>
<path d="M474.5,199.0 C475.4,194.5 477.6,180.1 480.0,172.0 C482.4,163.9 484.9,159.8 489.0,150.5 C493.1,141.2 500.5,126.0 504.9,116.3 C509.3,106.6 513.7,96.5 515.5,92.5" fill="none" stroke="#ff1493" stroke-width="3.6" stroke-linecap="round" stroke-linejoin="round"/>
<circle cx="474.5" cy="199.0" r="2.5" fill="#ff3399"/>
<circle cx="475.5" cy="194.1" r="2.5" fill="#ff3399"/>
<circle cx="476.5" cy="189.2" r="2.5" fill="#ff3399"/>
<circle cx="477.5" cy="184.3" r="2.5" fill="#ff3399"/>
<circle cx="478.5" cy="179.5" r="2.5" fill="#ff3399"/>
<circle cx="479.5" cy="174.6" r="2.5" fill="#ff3399"/>
<circle cx="480.9" cy="169.8" r="2.5" fill="#ff3399"/>
<circle cx="482.8" cy="165.2" r="2.5" fill="#ff3399"/>
<circle cx="484.8" cy="160.6" r="2.5" fill="#ff3399"/>
<circle cx="486.7" cy="156.0" r="2.5" fill="#ff3399"/>
<circle cx="488.6" cy="151.4" r="2.5" fill="#ff3399"/>
<circle cx="490.7" cy="146.9" r="2.5" fill="#ff3399"/>
<circle cx="492.8" cy="142.4" r="2.5" fill="#ff3399"/>
<circle cx="494.9" cy="137.9" r="2.5" fill="#ff3399"/>
<circle cx="497.0" cy="133.3" r="2.5" fill="#ff3399"/>
<circle cx="499.1" cy="128.8" r="2.5" fill="#ff3399"/>
<circle cx="501.2" cy="124.3" r="2.5" fill="#ff3399"/>
<circle cx="503.3" cy="119.8" r="2.5" fill="#ff3399"/>
<circle cx="505.4" cy="115.3" r="2.5" fill="#ff3399"/>
<circle cx="507.4" cy="110.7" r="2.5" fill="#ff3399"/>
<circle cx="509.4" cy="106.2" r="2.5" fill="#ff3399"/>
<circle cx="511.4" cy="101.6" r="2.5" fill="#ff3399"/>
<circle cx="513.5" cy="97.1" r="2.5" fill="#ff3399"/>
<circle cx="515.5" cy="92.5" r="2.5" fill="#ff3399"/>
<path d="M474.5,199.0 C475.4,194.5 477.6,180.1 480.0,172.0 C482.4,163.9 484.9,159.8 489.0,150.5 C493.1,141.2 500.5,126.0 504.9,116.3 C509.3,106.6 513.7,96.5 515.5,92.5" fill="none" stroke="#00ff00" stroke-width="1.3" stroke-linecap="round" stroke-linejoin="round"/>
<path d="M474.5,199.0 C475.4,196.7 477.1,191.0 480.0,185.0 C482.9,179.0 487.1,170.0 491.6,163.0 C496.1,156.0 501.6,149.2 507.0,143.0 C512.4,136.8 518.5,130.8 524.0,126.0 C529.5,121.2 534.6,117.8 540.0,114.5 C545.4,111.2 550.4,108.6 556.4,106.0 C562.4,103.4 569.2,101.0 576.0,99.0 C582.8,97.0 593.5,94.8 597.0,94.0" fill="none" stroke="#000080" stroke-width="3.4" stroke-linecap="round" stroke-linejoin="round"/>
<circle cx="474.5" cy="199.0" r="3" fill="#2b3bd0"/>
<circle cx="477.5" cy="191.5" r="3" fill="#2b3bd0"/>
<circle cx="480.5" cy="184.0" r="3" fill="#2b3bd0"/>
<circle cx="484.3" cy="176.9" r="3" fill="#2b3bd0"/>
<circle cx="488.1" cy="169.7" r="3" fill="#2b3bd0"/>
<circle cx="491.9" cy="162.6" r="3" fill="#2b3bd0"/>
<circle cx="496.8" cy="156.2" r="3" fill="#2b3bd0"/>
<circle cx="501.8" cy="149.8" r="3" fill="#2b3bd0"/>
<circle cx="506.7" cy="143.4" r="3" fill="#2b3bd0"/>
<circle cx="512.4" cy="137.6" r="3" fill="#2b3bd0"/>
<circle cx="518.1" cy="131.9" r="3" fill="#2b3bd0"/>
<circle cx="523.8" cy="126.2" r="3" fill="#2b3bd0"/>
<circle cx="530.3" cy="121.4" r="3" fill="#2b3bd0"/>
<circle cx="536.9" cy="116.7" r="3" fill="#2b3bd0"/>
<circle cx="543.8" cy="112.5" r="3" fill="#2b3bd0"/>
<circle cx="551.0" cy="108.8" r="3" fill="#2b3bd0"/>
<circle cx="558.3" cy="105.3" r="3" fill="#2b3bd0"/>
<circle cx="565.9" cy="102.6" r="3" fill="#2b3bd0"/>
<circle cx="573.5" cy="99.9" r="3" fill="#2b3bd0"/>
<circle cx="581.3" cy="97.7" r="3" fill="#2b3bd0"/>
<circle cx="589.1" cy="95.9" r="3" fill="#2b3bd0"/>
<circle cx="597.0" cy="94.0" r="3" fill="#2b3bd0"/>
<path d="M474.5,199.0 C475.4,196.7 477.1,191.0 480.0,185.0 C482.9,179.0 487.1,170.0 491.6,163.0 C496.1,156.0 501.6,149.2 507.0,143.0 C512.4,136.8 518.5,130.8 524.0,126.0 C529.5,121.2 534.6,117.8 540.0,114.5 C545.4,111.2 550.4,108.6 556.4,106.0 C562.4,103.4 569.2,101.0 576.0,99.0 C582.8,97.0 593.5,94.8 597.0,94.0" fill="none" stroke="#00ff00" stroke-width="1.5" stroke-linecap="round" stroke-linejoin="round"/>
<line x1="498" y1="130" x2="531" y2="189" stroke="#444" stroke-width="0.9" stroke-dasharray="2.5,2"/>
<text x="500" y="131" font-size="13.5" font-weight="bold" textLength="23" lengthAdjust="spacingAndGlyphs">25<tspan font-size="8.5" dy="-6">0</tspan><tspan dy="6">C</tspan></text>
<text transform="translate(532.89,140.86) scale(0.907,1)" font-size="13.66" font-weight="bold" fill="#000">BFBST-Mn</text>
<text x="535.7" y="198.5" font-size="13.5" font-weight="bold" textLength="30" lengthAdjust="spacingAndGlyphs">300<tspan font-size="8.5" dy="-6">0</tspan><tspan dy="6">C</tspan></text>
<line x1="474.6" y1="92" x2="474.6" y2="210" stroke="#000" stroke-width="1.6"/>
<line x1="473.8" y1="209.7" x2="598" y2="209.7" stroke="#000" stroke-width="1.4"/>
<line x1="474.6" y1="207.8" x2="477" y2="207.8" stroke="#000" stroke-width="1.2"/>
<text transform="translate(466.42,212.73) scale(0.880,1)" font-size="14.30" font-weight="bold" fill="#000">0</text>
<line x1="473.8" y1="209.7" x2="473.8" y2="207.3" stroke="#000" stroke-width="1.2"/>
<text transform="translate(470.34,222.40) scale(0.860,1)" font-size="14.50" font-weight="bold" fill="#000">0</text>
<line x1="474.6" y1="182.8" x2="477" y2="182.8" stroke="#000" stroke-width="1.2"/>
<text transform="translate(466.23,187.73) scale(0.880,1)" font-size="14.30" font-weight="bold" fill="#000">1</text>
<line x1="500.7" y1="209.7" x2="500.7" y2="207.3" stroke="#000" stroke-width="1.2"/>
<text transform="translate(497.02,222.40) scale(0.860,1)" font-size="14.50" font-weight="bold" fill="#000">1</text>
<line x1="474.6" y1="157.8" x2="477" y2="157.8" stroke="#000" stroke-width="1.2"/>
<text transform="translate(466.42,162.81) scale(0.880,1)" font-size="14.30" font-weight="bold" fill="#000">2</text>
<line x1="527.6" y1="209.7" x2="527.6" y2="207.3" stroke="#000" stroke-width="1.2"/>
<text transform="translate(524.17,222.47) scale(0.860,1)" font-size="14.50" font-weight="bold" fill="#000">2</text>
<line x1="474.6" y1="132.8" x2="477" y2="132.8" stroke="#000" stroke-width="1.2"/>
<text transform="translate(466.36,137.73) scale(0.880,1)" font-size="14.30" font-weight="bold" fill="#000">3</text>
<line x1="554.5" y1="209.7" x2="554.5" y2="207.3" stroke="#000" stroke-width="1.2"/>
<text transform="translate(551.10,222.40) scale(0.860,1)" font-size="14.50" font-weight="bold" fill="#000">3</text>
<line x1="474.6" y1="107.80000000000001" x2="477" y2="107.80000000000001" stroke="#000" stroke-width="1.2"/>
<text transform="translate(465.98,112.73) scale(0.880,1)" font-size="14.30" font-weight="bold" fill="#000">4</text>
<line x1="581.4" y1="209.7" x2="581.4" y2="207.3" stroke="#000" stroke-width="1.2"/>
<text transform="translate(577.88,222.40) scale(0.860,1)" font-size="14.50" font-weight="bold" fill="#000">4</text>
<text transform="translate(507.22,26.08) scale(0.926,1)" font-size="23.42" font-weight="bold" fill="#000">(b)</text>
<text transform="translate(547.29,17.27) scale(0.871,1)" font-size="12.52" font-weight="bold" fill="#000">Measured</text>
<path d="M570,18.5 Q596,27 587,50" fill="none" stroke="#555" stroke-width="0.9" stroke-dasharray="1.5,2"/>
<line x1="512" y1="43.9" x2="536" y2="43.9" stroke="#888" stroke-width="1"/>
<circle cx="523.8" cy="43.9" r="3.5" fill="#111"/><circle cx="522.7" cy="42.6" r="1.3" fill="#ccc"/>
<text transform="translate(538.67,48.37) scale(0.867,1)" font-size="12.96" font-weight="bold" fill="#000">BFBST-0</text>
<line x1="512" y1="58.9" x2="536" y2="58.9" stroke="#888" stroke-width="1"/>
<circle cx="523.8" cy="58.9" r="3" fill="#fff" stroke="#000" stroke-width="1.3"/><circle cx="523.8" cy="58.9" r="1" fill="#000"/>
<text transform="translate(538.68,63.37) scale(0.858,1)" font-size="12.96" font-weight="bold" fill="#000">BFBST-Mn</text>
<line x1="512" y1="73.7" x2="536" y2="73.7" stroke="#00ff00" stroke-width="2.2"/>
<text transform="translate(538.96,78.17) scale(0.870,1)" font-size="12.52" font-weight="bold" fill="#000">Calculated</text>
<rect x="355.6" y="2.5" width="243.5" height="222.1" fill="none" stroke="#000" stroke-width="2.6"/>
<line x1="355.6" y1="223.9" x2="359" y2="223.9" stroke="#000" stroke-width="1.5"/>
<text transform="translate(345.16,228.63) scale(1.040,1)" font-size="13.70" font-weight="bold" fill="#000">0</text>
<line x1="355.7" y1="224.6" x2="355.7" y2="221" stroke="#000" stroke-width="1.5"/>
<text transform="translate(351.80,240.12) scale(1.050,1)" font-size="13.40" font-weight="bold" fill="#000">0</text>
<line x1="355.6" y1="179.54000000000002" x2="359" y2="179.54000000000002" stroke="#000" stroke-width="1.5"/>
<text transform="translate(329.35,184.27) scale(1.040,1)" font-size="13.70" font-weight="bold" fill="#000">200</text>
<line x1="404.64" y1="224.6" x2="404.64" y2="221" stroke="#000" stroke-width="1.5"/>
<text transform="translate(392.96,240.12) scale(1.050,1)" font-size="13.40" font-weight="bold" fill="#000">200</text>
<line x1="355.6" y1="135.18" x2="359" y2="135.18" stroke="#000" stroke-width="1.5"/>
<text transform="translate(329.35,139.91) scale(1.040,1)" font-size="13.70" font-weight="bold" fill="#000">400</text>
<line x1="453.58" y1="224.6" x2="453.58" y2="221" stroke="#000" stroke-width="1.5"/>
<text transform="translate(442.04,240.12) scale(1.050,1)" font-size="13.40" font-weight="bold" fill="#000">400</text>
<line x1="355.6" y1="90.82000000000002" x2="359" y2="90.82000000000002" stroke="#000" stroke-width="1.5"/>
<text transform="translate(329.35,95.55) scale(1.040,1)" font-size="13.70" font-weight="bold" fill="#000">600</text>
<line x1="502.52" y1="224.6" x2="502.52" y2="221" stroke="#000" stroke-width="1.5"/>
<text transform="translate(490.84,240.12) scale(1.050,1)" font-size="13.40" font-weight="bold" fill="#000">600</text>
<line x1="355.6" y1="46.46000000000001" x2="359" y2="46.46000000000001" stroke="#000" stroke-width="1.5"/>
<text transform="translate(329.35,51.19) scale(1.040,1)" font-size="13.70" font-weight="bold" fill="#000">800</text>
<line x1="551.46" y1="224.6" x2="551.46" y2="221" stroke="#000" stroke-width="1.5"/>
<text transform="translate(539.82,240.12) scale(1.050,1)" font-size="13.40" font-weight="bold" fill="#000">800</text>
<g transform="translate(324.70,122.20) rotate(-90)"><text transform="translate(-27.29,3.41) scale(1.198,1)" font-size="13.26" font-weight="bold" fill="#000">-Z''(kΩ)</text></g>
<text transform="translate(461.58,254.28) scale(0.941,1)" font-size="14.87" font-weight="bold" fill="#000">Z'(kΩ)</text>
<line x1="66.2" y1="458.7" x2="237.3" y2="265" stroke="#000" stroke-width="1.4"/>
<line x1="66.2" y1="469" x2="244.4" y2="278" stroke="#000" stroke-width="1.4"/>
<defs><radialGradient id="sph" cx="0.36" cy="0.3" r="0.72"><stop offset="0" stop-color="#f4f4f4"/><stop offset="0.22" stop-color="#888"/><stop offset="0.55" stop-color="#181818"/><stop offset="1" stop-color="#000"/></radialGradient></defs>
<circle cx="80.6" cy="443.2" r="5.3" fill="url(#sph)"/>
<circle cx="95.5" cy="424" r="5.3" fill="url(#sph)"/>
<circle cx="111.5" cy="407.1" r="5.3" fill="url(#sph)"/>
<circle cx="129.1" cy="386.5" r="5.3" fill="url(#sph)"/>
<circle cx="149.3" cy="362.6" r="5.3" fill="url(#sph)"/>
<circle cx="172.7" cy="335.6" r="5.3" fill="url(#sph)"/>
<circle cx="198.6" cy="305.7" r="5.3" fill="url(#sph)"/>
<circle cx="228.5" cy="277.8" r="5.3" fill="url(#sph)"/>
<polygon points="80.6,448.8 85.6,452.5 83.7,458.4 77.5,458.4 75.6,452.5" fill="#fff" stroke="#000" stroke-width="1.6"/>
<circle cx="80.6" cy="454.6" r="0.8" fill="#000"/>
<polygon points="95.5,432.7 100.5,436.4 98.6,442.3 92.4,442.3 90.5,436.4" fill="#fff" stroke="#000" stroke-width="1.6"/>
<circle cx="95.5" cy="438.5" r="0.8" fill="#000"/>
<polygon points="111.5,415.2 116.5,418.9 114.6,424.8 108.4,424.8 106.5,418.9" fill="#fff" stroke="#000" stroke-width="1.6"/>
<circle cx="111.5" cy="421.0" r="0.8" fill="#000"/>
<polygon points="129.1,396.7 134.1,400.4 132.2,406.3 126.0,406.3 124.1,400.4" fill="#fff" stroke="#000" stroke-width="1.6"/>
<circle cx="129.1" cy="402.5" r="0.8" fill="#000"/>
<polygon points="149.3,370.7 154.3,374.4 152.4,380.3 146.2,380.3 144.3,374.4" fill="#fff" stroke="#000" stroke-width="1.6"/>
<circle cx="149.3" cy="376.5" r="0.8" fill="#000"/>
<polygon points="172.7,346.5 177.7,350.2 175.8,356.1 169.6,356.1 167.7,350.2" fill="#fff" stroke="#000" stroke-width="1.6"/>
<circle cx="172.7" cy="352.3" r="0.8" fill="#000"/>
<polygon points="198.6,318.6 203.6,322.3 201.7,328.2 195.5,328.2 193.6,322.3" fill="#fff" stroke="#000" stroke-width="1.6"/>
<circle cx="198.6" cy="324.4" r="0.8" fill="#000"/>
<polygon points="228.5,291.0 233.5,294.7 231.6,300.6 225.4,300.6 223.5,294.7" fill="#fff" stroke="#000" stroke-width="1.6"/>
<circle cx="228.5" cy="296.8" r="0.8" fill="#000"/>
<rect x="39.5" y="264.5" width="217.1" height="207.3" fill="none" stroke="#000" stroke-width="2.3"/>
<line x1="39.5" y1="282.5" x2="43" y2="282.5" stroke="#000" stroke-width="1.5"/>
<text transform="translate(11.91,286.74) scale(0.915,1)" font-size="12.30" font-weight="bold" fill="#000">1E-4</text>
<line x1="39.5" y1="342.9" x2="43" y2="342.9" stroke="#000" stroke-width="1.5"/>
<text transform="translate(12.13,347.08) scale(0.915,1)" font-size="12.30" font-weight="bold" fill="#000">1E-5</text>
<line x1="39.5" y1="403.3" x2="43" y2="403.3" stroke="#000" stroke-width="1.5"/>
<text transform="translate(12.25,407.54) scale(0.915,1)" font-size="12.30" font-weight="bold" fill="#000">1E-6</text>
<line x1="39.5" y1="463.7" x2="43" y2="463.7" stroke="#000" stroke-width="1.5"/>
<text transform="translate(12.30,467.94) scale(0.915,1)" font-size="12.30" font-weight="bold" fill="#000">1E-7</text>
<line x1="52.6" y1="471.8" x2="52.6" y2="468.3" stroke="#000" stroke-width="1.5"/>
<text transform="translate(43.76,487.02) scale(0.950,1)" font-size="13.10" font-weight="bold" fill="#000">1.8</text>
<line x1="93.4" y1="471.8" x2="93.4" y2="468.3" stroke="#000" stroke-width="1.5"/>
<text transform="translate(84.69,487.08) scale(0.950,1)" font-size="13.10" font-weight="bold" fill="#000">2.1</text>
<line x1="134.2" y1="471.8" x2="134.2" y2="468.3" stroke="#000" stroke-width="1.5"/>
<text transform="translate(125.36,487.08) scale(0.950,1)" font-size="13.10" font-weight="bold" fill="#000">2.4</text>
<line x1="175.0" y1="471.8" x2="175.0" y2="468.3" stroke="#000" stroke-width="1.5"/>
<text transform="translate(166.38,487.08) scale(0.950,1)" font-size="13.10" font-weight="bold" fill="#000">2.7</text>
<line x1="215.79999999999998" y1="471.8" x2="215.79999999999998" y2="468.3" stroke="#000" stroke-width="1.5"/>
<text transform="translate(207.24,487.02) scale(0.950,1)" font-size="13.10" font-weight="bold" fill="#000">3.0</text>
<line x1="256.59999999999997" y1="471.8" x2="256.59999999999997" y2="468.3" stroke="#000" stroke-width="1.5"/>
<text transform="translate(248.01,487.02) scale(0.950,1)" font-size="13.10" font-weight="bold" fill="#000">3.3</text>
<text transform="translate(51.14,292.64) scale(0.970,1)" font-size="19.79" font-weight="bold" fill="#000">(c)</text>
<text transform="translate(42.52,332.39) scale(1.601,1)" font-size="11.48" font-weight="normal" fill="#000">τ</text>
<text transform="translate(48.55,339.23) scale(1.277,1)" font-size="6.76" font-weight="bold" fill="#000">0Z</text>
<text transform="translate(57.87,333.08) scale(1.145,1)" font-size="11.55" font-weight="bold" fill="#000">= 8.5×10</text>
<text transform="translate(109.87,326.23) scale(1.260,1)" font-size="6.62" font-weight="bold" fill="#000">-6</text>
<text transform="translate(43.13,359.59) scale(1.579,1)" font-size="11.30" font-weight="normal" fill="#000">τ</text>
<text transform="translate(49.26,367.13) scale(1.286,1)" font-size="6.62" font-weight="bold" fill="#000">0M</text>
<text transform="translate(56.49,358.89) scale(1.114,1)" font-size="11.41" font-weight="bold" fill="#000">= 9.1×10</text>
<text transform="translate(107.17,350.83) scale(1.234,1)" font-size="6.76" font-weight="bold" fill="#000">-6</text>
<text transform="translate(46.66,388.97) scale(0.890,1)" font-size="12.82" font-weight="bold" fill="#000">R=0.9994</text>
<text transform="translate(47.06,408.87) scale(0.891,1)" font-size="12.82" font-weight="bold" fill="#000">SD=0.03</text>
<g transform="translate(172.8,312.9) rotate(-47.4)"><text x="0" y="0" font-size="13.2" font-weight="bold" text-anchor="middle" dominant-baseline="central" textLength="55" lengthAdjust="spacingAndGlyphs">E<tspan font-size="7" dy="3">a</tspan><tspan dy="-3">= 0.50 eV</tspan></text></g>
<g transform="translate(226.8,327.9) rotate(-49)"><text x="0" y="0" font-size="13.2" font-weight="bold" text-anchor="middle" dominant-baseline="central" textLength="61" lengthAdjust="spacingAndGlyphs">E<tspan font-size="7" dy="3">a</tspan><tspan dy="-3">= 0.476 eV</tspan></text></g>
<circle cx="178" cy="408.7" r="4.5" fill="url(#sph)"/>
<text transform="translate(196.67,413.25) scale(0.868,1)" font-size="15.00" font-weight="bold" fill="#000">Tow Z</text>
<polygon points="178.0,423.2 182.0,426.1 180.5,430.8 175.5,430.8 174.0,426.1" fill="#fff" stroke="#000" stroke-width="1.4"/>
<circle cx="178" cy="427.9" r="0.8" fill="#000"/>
<text transform="translate(196.67,432.45) scale(0.895,1)" font-size="14.57" font-weight="bold" fill="#000">Tow M</text>
<line x1="163.6" y1="446.1" x2="192.6" y2="446.1" stroke="#000" stroke-width="1.4"/>
<text transform="translate(195.98,451.86) scale(0.916,1)" font-size="13.74" font-weight="bold" fill="#000">Linear Fit</text>
<g transform="translate(8,351.6) rotate(-90)"><text x="0" y="0" font-size="15" font-weight="bold" text-anchor="middle" dominant-baseline="central" textLength="65" lengthAdjust="spacingAndGlyphs">ln<tspan font-weight="normal" font-size="18">τ</tspan><tspan font-size="9" dy="4">Z</tspan><tspan dy="-4"> &amp; ln</tspan><tspan font-weight="normal" font-size="18">τ</tspan><tspan font-size="9" dy="4">M</tspan></text></g>
<text transform="translate(119.18,504.57) scale(0.912,1)" font-size="13.24" font-weight="bold" fill="#000">10</text>
<text transform="translate(132.29,497.81) scale(0.933,1)" font-size="8.87" font-weight="bold" fill="#000">3</text>
<text transform="translate(136.17,504.98) scale(0.861,1)" font-size="14.87" font-weight="bold" fill="#000">/T(K)</text>
<text transform="translate(165.55,497.90) scale(0.821,1)" font-size="7.68" font-weight="bold" fill="#000">-1</text>
<clipPath id="clipd"><rect x="303.5" y="263" width="255" height="215"/></clipPath>
<g clip-path="url(#clipd)">
<path d="M306.0,417.8 C307.3,419.8 311.1,426.6 314.0,430.0 C316.9,433.4 319.7,434.8 323.6,438.0 C327.6,441.2 331.6,445.7 337.7,449.0 C343.8,452.3 352.9,455.5 360.0,458.0 C367.1,460.5 373.3,462.3 380.0,464.0 C386.7,465.7 391.7,467.0 400.0,468.0 C408.3,469.0 403.5,469.5 430.0,470.0 C456.5,470.5 537.5,470.8 559.0,471.0" fill="none" stroke="#000000" stroke-width="4" stroke-linecap="round" stroke-linejoin="round"/>
<path d="M306.0,409.0 C307.0,411.2 309.7,418.2 312.0,422.0 C314.3,425.8 315.7,427.8 320.0,432.0 C324.3,436.2 331.0,443.3 337.7,447.5 C344.4,451.7 352.9,454.3 360.0,457.0 C367.1,459.7 373.3,461.8 380.0,463.5 C386.7,465.2 391.7,466.4 400.0,467.5 C408.3,468.6 403.5,469.4 430.0,470.0 C456.5,470.6 537.5,470.8 559.0,471.0" fill="none" stroke="#ff0000" stroke-width="4" stroke-linecap="round" stroke-linejoin="round"/>
<path d="M306.0,399.0 C307.0,401.7 309.5,409.8 312.0,415.0 C314.5,420.2 316.7,424.7 321.0,430.0 C325.3,435.3 331.2,442.5 337.7,447.0 C344.2,451.5 352.9,454.2 360.0,457.0 C367.1,459.8 373.3,461.8 380.0,463.5 C386.7,465.2 391.7,466.4 400.0,467.5 C408.3,468.6 403.5,469.4 430.0,470.0 C456.5,470.6 537.5,470.8 559.0,471.0" fill="none" stroke="#00ff00" stroke-width="4" stroke-linecap="round" stroke-linejoin="round"/>
<path d="M306.0,378.0 C307.5,381.7 312.7,393.6 315.0,400.0 C317.3,406.4 317.5,410.7 320.0,416.5 C322.5,422.3 327.1,430.3 330.0,435.0 C332.9,439.7 332.7,441.3 337.7,444.8 C342.7,448.3 352.9,453.0 360.0,456.0 C367.1,459.0 373.3,461.2 380.0,463.0 C386.7,464.8 391.7,465.8 400.0,467.0 C408.3,468.2 403.5,469.3 430.0,470.0 C456.5,470.7 537.5,470.8 559.0,471.0" fill="none" stroke="#0000ff" stroke-width="4.5" stroke-linecap="round" stroke-linejoin="round"/>
<path d="M306.0,365.0 C307.5,368.3 311.8,377.8 315.0,385.0 C318.2,392.2 321.7,400.8 325.0,408.0 C328.3,415.2 330.8,421.7 335.0,428.0 C339.2,434.3 344.2,441.2 350.0,446.0 C355.8,450.8 361.7,453.7 370.0,457.0 C378.3,460.3 390.0,463.9 400.0,466.0 C410.0,468.1 403.5,468.7 430.0,469.5 C456.5,470.3 537.5,470.8 559.0,471.0" fill="none" stroke="#00ffff" stroke-width="4" stroke-linecap="round" stroke-linejoin="round"/>
<path d="M306.0,362.0 C307.7,365.5 312.5,375.3 316.0,383.0 C319.5,390.7 323.5,400.5 327.0,408.0 C330.5,415.5 332.8,421.7 337.0,428.0 C341.2,434.3 346.2,441.2 352.0,446.0 C357.8,450.8 364.0,453.7 372.0,457.0 C380.0,460.3 390.3,463.9 400.0,466.0 C409.7,468.1 403.5,468.7 430.0,469.5 C456.5,470.3 537.5,470.8 559.0,471.0" fill="none" stroke="#ff00ff" stroke-width="3.5" stroke-linecap="round" stroke-linejoin="round"/>
<path d="M306.0,350.0 C308.3,356.3 316.0,377.5 320.0,388.0 C324.0,398.5 326.7,405.7 330.0,413.0 C333.3,420.3 334.3,424.7 340.0,432.0 C345.7,439.3 354.0,451.2 364.0,457.0 C374.0,462.8 389.0,464.4 400.0,466.5 C411.0,468.6 403.5,468.8 430.0,469.5 C456.5,470.2 537.5,470.8 559.0,471.0" fill="none" stroke="#ffff00" stroke-width="4.5" stroke-linecap="round" stroke-linejoin="round"/>
<path d="M306.0,357.0 C308.3,363.0 316.0,382.8 320.0,393.0 C324.0,403.2 327.1,411.2 330.0,418.0 C332.9,424.8 332.0,427.2 337.7,434.0 C343.4,440.8 353.6,453.5 364.0,459.0 C374.4,464.5 389.0,465.2 400.0,467.0 C411.0,468.8 403.5,469.3 430.0,470.0 C456.5,470.7 537.5,470.8 559.0,471.0" fill="none" stroke="#808000" stroke-width="4.5" stroke-linecap="round" stroke-linejoin="round"/>
<path d="M306.0,318.0 C307.1,321.7 310.4,331.3 312.4,340.0 C314.4,348.7 316.0,360.5 318.0,370.0 C320.0,379.5 321.1,387.8 324.4,397.0 C327.7,406.2 332.5,416.8 337.7,425.3 C342.9,433.9 348.5,442.4 355.3,448.3 C362.1,454.2 370.9,457.8 378.3,460.7 C385.8,463.6 393.1,464.7 400.0,466.0 C406.9,467.3 393.5,467.9 420.0,468.7 C446.5,469.4 535.8,470.2 559.0,470.5" fill="none" stroke="#000080" stroke-width="5" stroke-linecap="round" stroke-linejoin="round"/>
<path d="M306.0,297.6 C306.6,300.7 307.8,309.4 309.4,316.0 C311.0,322.6 313.3,329.8 315.7,337.0 C318.1,344.2 320.9,351.8 323.6,359.0 C326.3,366.2 329.1,372.5 332.0,380.0 C334.9,387.5 337.1,395.0 341.0,404.0 C344.9,413.0 350.0,426.3 355.3,434.0 C360.6,441.7 365.6,445.3 373.0,450.0 C380.4,454.7 392.2,459.4 400.0,462.4 C407.8,465.3 410.0,466.4 420.0,467.7 C430.0,469.0 436.8,469.5 460.0,470.0 C483.2,470.5 542.5,470.4 559.0,470.5" fill="none" stroke="#800080" stroke-width="5" stroke-linecap="round" stroke-linejoin="round"/>
<path d="M306.0,320.0 C307.5,323.7 311.8,334.5 315.0,342.0 C318.2,349.5 322.2,358.8 325.0,365.0 C327.8,371.2 329.8,374.3 332.0,379.0 C334.2,383.7 335.7,388.8 338.0,393.0 C340.3,397.2 343.2,399.8 346.0,404.0 C348.8,408.2 352.3,414.5 355.0,418.0 C357.7,421.5 358.2,420.8 362.0,425.0 C365.8,429.2 371.7,437.7 378.0,443.0 C384.3,448.3 393.0,453.3 400.0,457.0 C407.0,460.7 410.0,463.0 420.0,465.0 C430.0,467.0 436.8,468.2 460.0,469.0 C483.2,469.8 542.5,469.8 559.0,470.0" fill="none" stroke="#800000" stroke-width="5" stroke-linecap="round" stroke-linejoin="round"/>
<path d="M306.0,353.0 C308.3,357.2 316.3,371.5 320.0,378.0 C323.7,384.5 324.5,387.5 328.0,392.0 C331.5,396.5 335.8,399.4 341.2,405.0 C346.6,410.6 354.4,419.4 360.6,425.3 C366.8,431.2 372.7,436.1 378.3,440.4 C383.9,444.7 390.6,448.7 394.2,451.0 C397.8,453.3 395.7,452.2 400.0,454.0 C404.3,455.8 410.0,459.5 420.0,461.6 C430.0,463.7 446.7,465.3 460.0,466.5 C473.3,467.7 483.5,468.4 500.0,469.0 C516.5,469.6 549.2,469.8 559.0,470.0" fill="none" stroke="#008000" stroke-width="5.5" stroke-linecap="round" stroke-linejoin="round"/>
<path d="M455,404.5 L500,406 L559.5,406.3 L559.5,413 L500,413 L455,412Z" fill="#0000ff"/>
<path d="M318.0,262.0 C320.0,268.0 324.7,285.5 330.0,298.0 C335.3,310.5 343.8,326.7 349.6,337.0 C355.4,347.3 359.9,353.8 365.0,360.0 C370.1,366.2 374.2,369.8 380.0,374.0 C385.8,378.2 391.7,381.5 400.0,385.0 C408.3,388.5 420.0,392.2 430.0,395.0 C440.0,397.8 448.3,399.5 460.0,401.5 C471.7,403.5 483.5,405.7 500.0,407.0 C516.5,408.3 549.2,409.1 559.0,409.5" fill="none" stroke="#0000ff" stroke-width="1.1" stroke-linecap="round" stroke-linejoin="round"/>
<circle cx="319.2" cy="265.8" r="2.2" fill="none" stroke="#0000ff" stroke-width="1.1"/>
<circle cx="322.5" cy="276.7" r="2.2" fill="none" stroke="#0000ff" stroke-width="1.1"/>
<circle cx="325.8" cy="286.8" r="2.2" fill="none" stroke="#0000ff" stroke-width="1.1"/>
<circle cx="329.1" cy="295.8" r="2.2" fill="none" stroke="#0000ff" stroke-width="1.1"/>
<circle cx="332.4" cy="303.5" r="2.2" fill="none" stroke="#0000ff" stroke-width="1.1"/>
<circle cx="335.7" cy="310.5" r="2.2" fill="none" stroke="#0000ff" stroke-width="1.1"/>
<circle cx="339.0" cy="317.2" r="2.2" fill="none" stroke="#0000ff" stroke-width="1.1"/>
<circle cx="342.3" cy="323.6" r="2.2" fill="none" stroke="#0000ff" stroke-width="1.1"/>
<circle cx="345.6" cy="329.8" r="2.2" fill="none" stroke="#0000ff" stroke-width="1.1"/>
<circle cx="348.9" cy="335.8" r="2.2" fill="none" stroke="#0000ff" stroke-width="1.1"/>
<circle cx="352.2" cy="341.5" r="2.2" fill="none" stroke="#0000ff" stroke-width="1.1"/>
<circle cx="355.5" cy="346.9" r="2.2" fill="none" stroke="#0000ff" stroke-width="1.1"/>
<circle cx="358.8" cy="351.8" r="2.2" fill="none" stroke="#0000ff" stroke-width="1.1"/>
<circle cx="362.1" cy="356.3" r="2.2" fill="none" stroke="#0000ff" stroke-width="1.1"/>
<circle cx="365.4" cy="360.5" r="2.2" fill="none" stroke="#0000ff" stroke-width="1.1"/>
<circle cx="368.7" cy="364.2" r="2.2" fill="none" stroke="#0000ff" stroke-width="1.1"/>
<circle cx="372.0" cy="367.6" r="2.2" fill="none" stroke="#0000ff" stroke-width="1.1"/>
<circle cx="375.3" cy="370.4" r="2.2" fill="none" stroke="#0000ff" stroke-width="1.1"/>
<circle cx="378.6" cy="373.0" r="2.2" fill="none" stroke="#0000ff" stroke-width="1.1"/>
<circle cx="381.9" cy="375.3" r="2.2" fill="none" stroke="#0000ff" stroke-width="1.1"/>
<circle cx="385.2" cy="377.5" r="2.2" fill="none" stroke="#0000ff" stroke-width="1.1"/>
<circle cx="388.5" cy="379.4" r="2.2" fill="none" stroke="#0000ff" stroke-width="1.1"/>
<circle cx="391.8" cy="381.2" r="2.2" fill="none" stroke="#0000ff" stroke-width="1.1"/>
<circle cx="395.1" cy="382.8" r="2.2" fill="none" stroke="#0000ff" stroke-width="1.1"/>
<circle cx="398.4" cy="384.3" r="2.2" fill="none" stroke="#0000ff" stroke-width="1.1"/>
<circle cx="401.7" cy="385.7" r="2.2" fill="none" stroke="#0000ff" stroke-width="1.1"/>
<circle cx="405.0" cy="387.0" r="2.2" fill="none" stroke="#0000ff" stroke-width="1.1"/>
<circle cx="408.3" cy="388.2" r="2.2" fill="none" stroke="#0000ff" stroke-width="1.1"/>
<circle cx="411.6" cy="389.3" r="2.2" fill="none" stroke="#0000ff" stroke-width="1.1"/>
<circle cx="414.9" cy="390.5" r="2.2" fill="none" stroke="#0000ff" stroke-width="1.1"/>
<circle cx="418.2" cy="391.5" r="2.2" fill="none" stroke="#0000ff" stroke-width="1.1"/>
<circle cx="421.5" cy="392.5" r="2.2" fill="none" stroke="#0000ff" stroke-width="1.1"/>
<circle cx="424.8" cy="393.5" r="2.2" fill="none" stroke="#0000ff" stroke-width="1.1"/>
<circle cx="428.1" cy="394.5" r="2.2" fill="none" stroke="#0000ff" stroke-width="1.1"/>
<circle cx="431.4" cy="395.4" r="2.2" fill="none" stroke="#0000ff" stroke-width="1.1"/>
<circle cx="434.7" cy="396.2" r="2.2" fill="none" stroke="#0000ff" stroke-width="1.1"/>
<circle cx="438.0" cy="397.1" r="2.2" fill="none" stroke="#0000ff" stroke-width="1.1"/>
<circle cx="441.3" cy="397.8" r="2.2" fill="none" stroke="#0000ff" stroke-width="1.1"/>
<circle cx="444.6" cy="398.6" r="2.2" fill="none" stroke="#0000ff" stroke-width="1.1"/>
<circle cx="447.9" cy="399.3" r="2.2" fill="none" stroke="#0000ff" stroke-width="1.1"/>
<circle cx="451.2" cy="399.9" r="2.2" fill="none" stroke="#0000ff" stroke-width="1.1"/>
<circle cx="454.5" cy="400.5" r="2.2" fill="none" stroke="#0000ff" stroke-width="1.1"/>
<circle cx="457.8" cy="401.1" r="2.2" fill="none" stroke="#0000ff" stroke-width="1.1"/>
<circle cx="461.1" cy="401.7" r="2.2" fill="none" stroke="#0000ff" stroke-width="1.1"/>
<circle cx="464.4" cy="402.3" r="2.2" fill="none" stroke="#0000ff" stroke-width="1.1"/>
<circle cx="467.7" cy="402.8" r="2.2" fill="none" stroke="#0000ff" stroke-width="1.1"/>
<circle cx="471.0" cy="403.4" r="2.2" fill="none" stroke="#0000ff" stroke-width="1.1"/>
<circle cx="474.3" cy="403.9" r="2.2" fill="none" stroke="#0000ff" stroke-width="1.1"/>
<circle cx="477.6" cy="404.4" r="2.2" fill="none" stroke="#0000ff" stroke-width="1.1"/>
<circle cx="480.9" cy="404.9" r="2.2" fill="none" stroke="#0000ff" stroke-width="1.1"/>
<circle cx="484.2" cy="405.3" r="2.2" fill="none" stroke="#0000ff" stroke-width="1.1"/>
<circle cx="487.5" cy="405.7" r="2.2" fill="none" stroke="#0000ff" stroke-width="1.1"/>
<path d="M313.0,262.0 C315.8,270.8 323.9,300.5 330.0,315.0 C336.1,329.5 343.8,340.5 349.6,349.0 C355.4,357.5 359.9,361.3 365.0,366.0 C370.1,370.7 374.2,373.3 380.0,377.0 C385.8,380.7 391.7,384.8 400.0,388.0 C408.3,391.2 420.0,393.6 430.0,396.0 C440.0,398.4 448.3,400.6 460.0,402.5 C471.7,404.4 483.5,406.3 500.0,407.5 C516.5,408.7 549.2,409.2 559.0,409.5" fill="none" stroke="#0000ff" stroke-width="1.1" stroke-linecap="round" stroke-linejoin="round"/>
<circle cx="315.9" cy="271.7" r="2.4" fill="#0000ff"/>
<circle cx="319.2" cy="282.8" r="2.4" fill="#0000ff"/>
<circle cx="322.5" cy="293.6" r="2.4" fill="#0000ff"/>
<circle cx="325.8" cy="303.7" r="2.4" fill="#0000ff"/>
<circle cx="329.1" cy="312.8" r="2.4" fill="#0000ff"/>
<circle cx="332.4" cy="320.4" r="2.4" fill="#0000ff"/>
<circle cx="335.7" cy="326.9" r="2.4" fill="#0000ff"/>
<circle cx="339.0" cy="332.7" r="2.4" fill="#0000ff"/>
<circle cx="342.3" cy="338.1" r="2.4" fill="#0000ff"/>
<circle cx="345.6" cy="343.1" r="2.4" fill="#0000ff"/>
<circle cx="348.9" cy="348.0" r="2.4" fill="#0000ff"/>
<circle cx="352.2" cy="352.6" r="2.4" fill="#0000ff"/>
<circle cx="355.5" cy="356.7" r="2.4" fill="#0000ff"/>
<circle cx="358.8" cy="360.2" r="2.4" fill="#0000ff"/>
<circle cx="362.1" cy="363.3" r="2.4" fill="#0000ff"/>
<circle cx="365.4" cy="366.4" r="2.4" fill="#0000ff"/>
<circle cx="368.7" cy="369.2" r="2.4" fill="#0000ff"/>
<circle cx="372.0" cy="371.7" r="2.4" fill="#0000ff"/>
<circle cx="375.3" cy="374.0" r="2.4" fill="#0000ff"/>
<circle cx="378.6" cy="376.1" r="2.4" fill="#0000ff"/>
<circle cx="381.9" cy="378.2" r="2.4" fill="#0000ff"/>
<circle cx="385.2" cy="380.3" r="2.4" fill="#0000ff"/>
<circle cx="388.5" cy="382.4" r="2.4" fill="#0000ff"/>
<circle cx="391.8" cy="384.2" r="2.4" fill="#0000ff"/>
<circle cx="395.1" cy="385.9" r="2.4" fill="#0000ff"/>
<circle cx="398.4" cy="387.4" r="2.4" fill="#0000ff"/>
<circle cx="401.7" cy="388.6" r="2.4" fill="#0000ff"/>
<circle cx="405.0" cy="389.7" r="2.4" fill="#0000ff"/>
<circle cx="408.3" cy="390.7" r="2.4" fill="#0000ff"/>
<circle cx="411.6" cy="391.6" r="2.4" fill="#0000ff"/>
<circle cx="414.9" cy="392.4" r="2.4" fill="#0000ff"/>
<circle cx="418.2" cy="393.2" r="2.4" fill="#0000ff"/>
<circle cx="421.5" cy="394.0" r="2.4" fill="#0000ff"/>
<circle cx="424.8" cy="394.8" r="2.4" fill="#0000ff"/>
<circle cx="428.1" cy="395.5" r="2.4" fill="#0000ff"/>
<circle cx="431.4" cy="396.3" r="2.4" fill="#0000ff"/>
<circle cx="434.7" cy="397.1" r="2.4" fill="#0000ff"/>
<circle cx="438.0" cy="397.9" r="2.4" fill="#0000ff"/>
<circle cx="441.3" cy="398.7" r="2.4" fill="#0000ff"/>
<circle cx="444.6" cy="399.5" r="2.4" fill="#0000ff"/>
<circle cx="447.9" cy="400.2" r="2.4" fill="#0000ff"/>
<circle cx="451.2" cy="400.9" r="2.4" fill="#0000ff"/>
<circle cx="454.5" cy="401.5" r="2.4" fill="#0000ff"/>
<circle cx="457.8" cy="402.1" r="2.4" fill="#0000ff"/>
<circle cx="461.1" cy="402.7" r="2.4" fill="#0000ff"/>
<circle cx="464.4" cy="403.2" r="2.4" fill="#0000ff"/>
<circle cx="467.7" cy="403.7" r="2.4" fill="#0000ff"/>
<circle cx="471.0" cy="404.3" r="2.4" fill="#0000ff"/>
<circle cx="474.3" cy="404.7" r="2.4" fill="#0000ff"/>
<circle cx="477.6" cy="405.2" r="2.4" fill="#0000ff"/>
<circle cx="480.9" cy="405.6" r="2.4" fill="#0000ff"/>
<circle cx="484.2" cy="406.0" r="2.4" fill="#0000ff"/>
<circle cx="487.5" cy="406.4" r="2.4" fill="#0000ff"/>
<path d="M305.5,266.0 C306.6,270.2 309.8,284.6 311.8,291.3 C313.8,298.0 315.1,301.6 317.3,306.2 C319.5,310.8 322.1,313.9 325.2,318.8 C328.3,323.7 332.5,330.5 336.2,335.3 C339.9,340.1 342.2,343.2 347.2,347.9 C352.2,352.6 360.5,359.2 366.0,363.6 C371.5,368.0 374.3,370.3 380.0,374.0 C385.7,377.7 391.7,382.3 400.0,386.0 C408.3,389.7 420.0,393.1 430.0,396.0 C440.0,398.9 448.3,401.5 460.0,403.5 C471.7,405.5 483.5,406.9 500.0,408.0 C516.5,409.1 549.2,409.7 559.0,410.0" fill="none" stroke="#0000ff" stroke-width="1.1" stroke-linecap="round" stroke-linejoin="round"/>
<polygon points="306.0,265.6 308.3,267.3 307.4,270.0 304.6,270.0 303.7,267.3" fill="none" stroke="#0000ff" stroke-width="1.2"/><circle cx="306.0" cy="268.1" r="0.7" fill="#0000ff"/>
<polygon points="309.3,279.4 311.6,281.0 310.7,283.7 307.9,283.7 307.0,281.0" fill="none" stroke="#0000ff" stroke-width="1.2"/><circle cx="309.3" cy="281.8" r="0.7" fill="#0000ff"/>
<polygon points="312.6,291.6 314.9,293.2 314.0,295.9 311.2,295.9 310.3,293.2" fill="none" stroke="#0000ff" stroke-width="1.2"/><circle cx="312.6" cy="294.0" r="0.7" fill="#0000ff"/>
<polygon points="315.9,300.7 318.2,302.4 317.3,305.1 314.5,305.1 313.6,302.4" fill="none" stroke="#0000ff" stroke-width="1.2"/><circle cx="315.9" cy="303.2" r="0.7" fill="#0000ff"/>
<polygon points="319.2,307.3 321.5,309.0 320.6,311.7 317.8,311.7 316.9,309.0" fill="none" stroke="#0000ff" stroke-width="1.2"/><circle cx="319.2" cy="309.7" r="0.7" fill="#0000ff"/>
<polygon points="322.5,312.3 324.8,314.0 323.9,316.7 321.1,316.7 320.2,314.0" fill="none" stroke="#0000ff" stroke-width="1.2"/><circle cx="322.5" cy="314.8" r="0.7" fill="#0000ff"/>
<polygon points="325.8,317.3 328.1,319.0 327.2,321.7 324.4,321.7 323.5,319.0" fill="none" stroke="#0000ff" stroke-width="1.2"/><circle cx="325.8" cy="319.7" r="0.7" fill="#0000ff"/>
<polygon points="329.1,322.5 331.4,324.1 330.5,326.8 327.7,326.8 326.8,324.1" fill="none" stroke="#0000ff" stroke-width="1.2"/><circle cx="329.1" cy="324.9" r="0.7" fill="#0000ff"/>
<polygon points="332.4,327.5 334.7,329.2 333.8,331.9 331.0,331.9 330.1,329.2" fill="none" stroke="#0000ff" stroke-width="1.2"/><circle cx="332.4" cy="329.9" r="0.7" fill="#0000ff"/>
<polygon points="335.7,332.2 338.0,333.9 337.1,336.6 334.3,336.6 333.4,333.9" fill="none" stroke="#0000ff" stroke-width="1.2"/><circle cx="335.7" cy="334.6" r="0.7" fill="#0000ff"/>
<polygon points="339.0,336.5 341.3,338.2 340.4,340.9 337.6,340.9 336.7,338.2" fill="none" stroke="#0000ff" stroke-width="1.2"/><circle cx="339.0" cy="338.9" r="0.7" fill="#0000ff"/>
<polygon points="342.3,340.5 344.6,342.1 343.7,344.9 340.9,344.9 340.0,342.1" fill="none" stroke="#0000ff" stroke-width="1.2"/><circle cx="342.3" cy="342.9" r="0.7" fill="#0000ff"/>
<polygon points="345.6,343.9 347.9,345.6 347.0,348.3 344.2,348.3 343.3,345.6" fill="none" stroke="#0000ff" stroke-width="1.2"/><circle cx="345.6" cy="346.3" r="0.7" fill="#0000ff"/>
<polygon points="348.9,347.1 351.2,348.7 350.3,351.4 347.5,351.4 346.6,348.7" fill="none" stroke="#0000ff" stroke-width="1.2"/><circle cx="348.9" cy="349.5" r="0.7" fill="#0000ff"/>
<polygon points="352.2,349.9 354.5,351.6 353.6,354.3 350.8,354.3 349.9,351.6" fill="none" stroke="#0000ff" stroke-width="1.2"/><circle cx="352.2" cy="352.4" r="0.7" fill="#0000ff"/>
<polygon points="355.5,352.7 357.8,354.4 356.9,357.1 354.1,357.1 353.2,354.4" fill="none" stroke="#0000ff" stroke-width="1.2"/><circle cx="355.5" cy="355.1" r="0.7" fill="#0000ff"/>
<polygon points="358.8,355.4 361.1,357.1 360.2,359.8 357.4,359.8 356.5,357.1" fill="none" stroke="#0000ff" stroke-width="1.2"/><circle cx="358.8" cy="357.8" r="0.7" fill="#0000ff"/>
<polygon points="362.1,358.1 364.4,359.7 363.5,362.4 360.7,362.4 359.8,359.7" fill="none" stroke="#0000ff" stroke-width="1.2"/><circle cx="362.1" cy="360.5" r="0.7" fill="#0000ff"/>
<polygon points="365.4,360.7 367.7,362.4 366.8,365.1 364.0,365.1 363.1,362.4" fill="none" stroke="#0000ff" stroke-width="1.2"/><circle cx="365.4" cy="363.1" r="0.7" fill="#0000ff"/>
<polygon points="368.7,363.3 371.0,365.0 370.1,367.7 367.3,367.7 366.4,365.0" fill="none" stroke="#0000ff" stroke-width="1.2"/><circle cx="368.7" cy="365.7" r="0.7" fill="#0000ff"/>
<polygon points="372.0,365.9 374.3,367.6 373.4,370.3 370.6,370.3 369.7,367.6" fill="none" stroke="#0000ff" stroke-width="1.2"/><circle cx="372.0" cy="368.3" r="0.7" fill="#0000ff"/>
<polygon points="375.3,368.4 377.6,370.0 376.7,372.7 373.9,372.7 373.0,370.0" fill="none" stroke="#0000ff" stroke-width="1.2"/><circle cx="375.3" cy="370.8" r="0.7" fill="#0000ff"/>
<polygon points="378.6,370.6 380.9,372.3 380.0,375.0 377.2,375.0 376.3,372.3" fill="none" stroke="#0000ff" stroke-width="1.2"/><circle cx="378.6" cy="373.1" r="0.7" fill="#0000ff"/>
<polygon points="381.9,372.9 384.2,374.5 383.3,377.2 380.5,377.2 379.6,374.5" fill="none" stroke="#0000ff" stroke-width="1.2"/><circle cx="381.9" cy="375.3" r="0.7" fill="#0000ff"/>
<polygon points="385.2,375.1 387.5,376.8 386.6,379.5 383.8,379.5 382.9,376.8" fill="none" stroke="#0000ff" stroke-width="1.2"/><circle cx="385.2" cy="377.5" r="0.7" fill="#0000ff"/>
<polygon points="388.5,377.3 390.8,379.0 389.9,381.7 387.1,381.7 386.2,379.0" fill="none" stroke="#0000ff" stroke-width="1.2"/><circle cx="388.5" cy="379.7" r="0.7" fill="#0000ff"/>
<polygon points="391.8,379.3 394.1,381.0 393.2,383.7 390.4,383.7 389.5,381.0" fill="none" stroke="#0000ff" stroke-width="1.2"/><circle cx="391.8" cy="381.8" r="0.7" fill="#0000ff"/>
<polygon points="395.1,381.2 397.4,382.9 396.5,385.6 393.7,385.6 392.8,382.9" fill="none" stroke="#0000ff" stroke-width="1.2"/><circle cx="395.1" cy="383.6" r="0.7" fill="#0000ff"/>
<polygon points="398.4,382.8 400.7,384.5 399.8,387.2 397.0,387.2 396.1,384.5" fill="none" stroke="#0000ff" stroke-width="1.2"/><circle cx="398.4" cy="385.3" r="0.7" fill="#0000ff"/>
<polygon points="401.7,384.3 404.0,386.0 403.1,388.7 400.3,388.7 399.4,386.0" fill="none" stroke="#0000ff" stroke-width="1.2"/><circle cx="401.7" cy="386.7" r="0.7" fill="#0000ff"/>
<polygon points="405.0,385.6 407.3,387.3 406.4,390.0 403.6,390.0 402.7,387.3" fill="none" stroke="#0000ff" stroke-width="1.2"/><circle cx="405.0" cy="388.0" r="0.7" fill="#0000ff"/>
<polygon points="408.3,386.8 410.6,388.5 409.7,391.2 406.9,391.2 406.0,388.5" fill="none" stroke="#0000ff" stroke-width="1.2"/><circle cx="408.3" cy="389.2" r="0.7" fill="#0000ff"/>
<polygon points="411.6,388.0 413.9,389.6 413.0,392.3 410.2,392.3 409.3,389.6" fill="none" stroke="#0000ff" stroke-width="1.2"/><circle cx="411.6" cy="390.4" r="0.7" fill="#0000ff"/>
<polygon points="414.9,389.0 417.2,390.7 416.3,393.4 413.5,393.4 412.6,390.7" fill="none" stroke="#0000ff" stroke-width="1.2"/><circle cx="414.9" cy="391.4" r="0.7" fill="#0000ff"/>
<polygon points="418.2,390.1 420.5,391.7 419.6,394.4 416.8,394.4 415.9,391.7" fill="none" stroke="#0000ff" stroke-width="1.2"/><circle cx="418.2" cy="392.5" r="0.7" fill="#0000ff"/>
<polygon points="421.5,391.1 423.8,392.7 422.9,395.4 420.1,395.4 419.2,392.7" fill="none" stroke="#0000ff" stroke-width="1.2"/><circle cx="421.5" cy="393.5" r="0.7" fill="#0000ff"/>
<polygon points="424.8,392.1 427.1,393.7 426.2,396.4 423.4,396.4 422.5,393.7" fill="none" stroke="#0000ff" stroke-width="1.2"/><circle cx="424.8" cy="394.5" r="0.7" fill="#0000ff"/>
<polygon points="428.1,393.0 430.4,394.7 429.5,397.4 426.7,397.4 425.8,394.7" fill="none" stroke="#0000ff" stroke-width="1.2"/><circle cx="428.1" cy="395.4" r="0.7" fill="#0000ff"/>
<polygon points="431.4,394.0 433.7,395.7 432.8,398.4 430.0,398.4 429.1,395.7" fill="none" stroke="#0000ff" stroke-width="1.2"/><circle cx="431.4" cy="396.4" r="0.7" fill="#0000ff"/>
<polygon points="434.7,395.0 437.0,396.6 436.1,399.3 433.3,399.3 432.4,396.6" fill="none" stroke="#0000ff" stroke-width="1.2"/><circle cx="434.7" cy="397.4" r="0.7" fill="#0000ff"/>
<polygon points="438.0,395.9 440.3,397.6 439.4,400.3 436.6,400.3 435.7,397.6" fill="none" stroke="#0000ff" stroke-width="1.2"/><circle cx="438.0" cy="398.3" r="0.7" fill="#0000ff"/>
<polygon points="441.3,396.8 443.6,398.5 442.7,401.2 439.9,401.2 439.0,398.5" fill="none" stroke="#0000ff" stroke-width="1.2"/><circle cx="441.3" cy="399.3" r="0.7" fill="#0000ff"/>
<polygon points="444.6,397.7 446.9,399.4 446.0,402.1 443.2,402.1 442.3,399.4" fill="none" stroke="#0000ff" stroke-width="1.2"/><circle cx="444.6" cy="400.2" r="0.7" fill="#0000ff"/>
<polygon points="447.9,398.6 450.2,400.2 449.3,402.9 446.5,402.9 445.6,400.2" fill="none" stroke="#0000ff" stroke-width="1.2"/><circle cx="447.9" cy="401.0" r="0.7" fill="#0000ff"/>
<polygon points="451.2,399.3 453.5,401.0 452.6,403.7 449.8,403.7 448.9,401.0" fill="none" stroke="#0000ff" stroke-width="1.2"/><circle cx="451.2" cy="401.8" r="0.7" fill="#0000ff"/>
<polygon points="454.5,400.0 456.8,401.7 455.9,404.4 453.1,404.4 452.2,401.7" fill="none" stroke="#0000ff" stroke-width="1.2"/><circle cx="454.5" cy="402.5" r="0.7" fill="#0000ff"/>
<polygon points="457.8,400.7 460.1,402.4 459.2,405.1 456.4,405.1 455.5,402.4" fill="none" stroke="#0000ff" stroke-width="1.2"/><circle cx="457.8" cy="403.1" r="0.7" fill="#0000ff"/>
<polygon points="461.1,401.3 463.4,402.9 462.5,405.6 459.7,405.6 458.8,402.9" fill="none" stroke="#0000ff" stroke-width="1.2"/><circle cx="461.1" cy="403.7" r="0.7" fill="#0000ff"/>
<polygon points="464.4,401.8 466.7,403.5 465.8,406.2 463.0,406.2 462.1,403.5" fill="none" stroke="#0000ff" stroke-width="1.2"/><circle cx="464.4" cy="404.2" r="0.7" fill="#0000ff"/>
<polygon points="467.7,402.3 470.0,404.0 469.1,406.7 466.3,406.7 465.4,404.0" fill="none" stroke="#0000ff" stroke-width="1.2"/><circle cx="467.7" cy="404.7" r="0.7" fill="#0000ff"/>
<polygon points="471.0,402.8 473.3,404.4 472.4,407.2 469.6,407.2 468.7,404.4" fill="none" stroke="#0000ff" stroke-width="1.2"/><circle cx="471.0" cy="405.2" r="0.7" fill="#0000ff"/>
<polygon points="474.3,403.2 476.6,404.9 475.7,407.6 472.9,407.6 472.0,404.9" fill="none" stroke="#0000ff" stroke-width="1.2"/><circle cx="474.3" cy="405.6" r="0.7" fill="#0000ff"/>
<polygon points="477.6,403.6 479.9,405.3 479.0,408.0 476.2,408.0 475.3,405.3" fill="none" stroke="#0000ff" stroke-width="1.2"/><circle cx="477.6" cy="406.0" r="0.7" fill="#0000ff"/>
<polygon points="480.9,404.0 483.2,405.6 482.3,408.3 479.5,408.3 478.6,405.6" fill="none" stroke="#0000ff" stroke-width="1.2"/><circle cx="480.9" cy="406.4" r="0.7" fill="#0000ff"/>
<polygon points="484.2,404.3 486.5,406.0 485.6,408.7 482.8,408.7 481.9,406.0" fill="none" stroke="#0000ff" stroke-width="1.2"/><circle cx="484.2" cy="406.7" r="0.7" fill="#0000ff"/>
<polygon points="487.5,404.6 489.8,406.3 488.9,409.0 486.1,409.0 485.2,406.3" fill="none" stroke="#0000ff" stroke-width="1.2"/><circle cx="487.5" cy="407.0" r="0.7" fill="#0000ff"/>
<path d="M306.0,297.0 C307.3,300.8 311.7,314.2 314.0,320.0 C316.3,325.8 317.3,327.8 320.0,332.0 C322.7,336.2 325.1,339.7 330.0,345.0 C334.9,350.3 343.8,359.0 349.6,364.0 C355.4,369.0 359.9,371.7 365.0,375.0 C370.1,378.3 374.2,381.2 380.0,384.0 C385.8,386.8 391.7,389.5 400.0,392.0 C408.3,394.5 420.0,396.9 430.0,399.0 C440.0,401.1 448.3,402.9 460.0,404.5 C471.7,406.1 483.5,407.6 500.0,408.5 C516.5,409.4 549.2,409.8 559.0,410.0" fill="none" stroke="#0000ff" stroke-width="1.1" stroke-linecap="round" stroke-linejoin="round"/>
<circle cx="306.0" cy="297.0" r="2.7" fill="#0000ff"/>
<circle cx="309.3" cy="306.8" r="2.7" fill="#0000ff"/>
<circle cx="312.6" cy="316.3" r="2.7" fill="#0000ff"/>
<circle cx="315.9" cy="324.6" r="2.7" fill="#0000ff"/>
<circle cx="319.2" cy="330.7" r="2.7" fill="#0000ff"/>
<circle cx="322.5" cy="335.8" r="2.7" fill="#0000ff"/>
<circle cx="325.8" cy="340.2" r="2.7" fill="#0000ff"/>
<circle cx="329.1" cy="344.0" r="2.7" fill="#0000ff"/>
<circle cx="332.4" cy="347.5" r="2.7" fill="#0000ff"/>
<circle cx="335.7" cy="350.9" r="2.7" fill="#0000ff"/>
<circle cx="339.0" cy="354.2" r="2.7" fill="#0000ff"/>
<circle cx="342.3" cy="357.4" r="2.7" fill="#0000ff"/>
<circle cx="345.6" cy="360.4" r="2.7" fill="#0000ff"/>
<circle cx="348.9" cy="363.4" r="2.7" fill="#0000ff"/>
<circle cx="352.2" cy="366.1" r="2.7" fill="#0000ff"/>
<circle cx="355.5" cy="368.7" r="2.7" fill="#0000ff"/>
<circle cx="358.8" cy="370.9" r="2.7" fill="#0000ff"/>
<circle cx="362.1" cy="373.1" r="2.7" fill="#0000ff"/>
<circle cx="365.4" cy="375.3" r="2.7" fill="#0000ff"/>
<circle cx="368.7" cy="377.4" r="2.7" fill="#0000ff"/>
<circle cx="372.0" cy="379.6" r="2.7" fill="#0000ff"/>
<circle cx="375.3" cy="381.5" r="2.7" fill="#0000ff"/>
<circle cx="378.6" cy="383.3" r="2.7" fill="#0000ff"/>
<circle cx="381.9" cy="384.9" r="2.7" fill="#0000ff"/>
<circle cx="385.2" cy="386.5" r="2.7" fill="#0000ff"/>
<circle cx="388.5" cy="387.9" r="2.7" fill="#0000ff"/>
<circle cx="391.8" cy="389.2" r="2.7" fill="#0000ff"/>
<circle cx="395.1" cy="390.4" r="2.7" fill="#0000ff"/>
<circle cx="398.4" cy="391.5" r="2.7" fill="#0000ff"/>
<circle cx="401.7" cy="392.5" r="2.7" fill="#0000ff"/>
<circle cx="405.0" cy="393.4" r="2.7" fill="#0000ff"/>
<circle cx="408.3" cy="394.2" r="2.7" fill="#0000ff"/>
<circle cx="411.6" cy="395.0" r="2.7" fill="#0000ff"/>
<circle cx="414.9" cy="395.8" r="2.7" fill="#0000ff"/>
<circle cx="418.2" cy="396.5" r="2.7" fill="#0000ff"/>
<circle cx="421.5" cy="397.2" r="2.7" fill="#0000ff"/>
<circle cx="424.8" cy="397.9" r="2.7" fill="#0000ff"/>
<circle cx="428.1" cy="398.6" r="2.7" fill="#0000ff"/>
<circle cx="431.4" cy="399.3" r="2.7" fill="#0000ff"/>
<circle cx="434.7" cy="400.0" r="2.7" fill="#0000ff"/>
<circle cx="438.0" cy="400.7" r="2.7" fill="#0000ff"/>
<circle cx="441.3" cy="401.3" r="2.7" fill="#0000ff"/>
<circle cx="444.6" cy="402.0" r="2.7" fill="#0000ff"/>
<circle cx="447.9" cy="402.6" r="2.7" fill="#0000ff"/>
<circle cx="451.2" cy="403.2" r="2.7" fill="#0000ff"/>
<circle cx="454.5" cy="403.7" r="2.7" fill="#0000ff"/>
<circle cx="457.8" cy="404.2" r="2.7" fill="#0000ff"/>
<circle cx="461.1" cy="404.6" r="2.7" fill="#0000ff"/>
<circle cx="464.4" cy="405.1" r="2.7" fill="#0000ff"/>
<circle cx="467.7" cy="405.5" r="2.7" fill="#0000ff"/>
<circle cx="471.0" cy="405.9" r="2.7" fill="#0000ff"/>
<circle cx="474.3" cy="406.3" r="2.7" fill="#0000ff"/>
<circle cx="477.6" cy="406.7" r="2.7" fill="#0000ff"/>
<circle cx="480.9" cy="407.0" r="2.7" fill="#0000ff"/>
<circle cx="484.2" cy="407.3" r="2.7" fill="#0000ff"/>
<circle cx="487.5" cy="407.6" r="2.7" fill="#0000ff"/>
<path d="M306.0,319.0 C307.5,322.0 311.0,331.2 315.0,337.0 C319.0,342.8 324.2,348.7 330.0,354.0 C335.8,359.3 343.8,365.0 349.6,369.0 C355.4,373.0 359.9,375.2 365.0,378.0 C370.1,380.8 374.2,383.3 380.0,386.0 C385.8,388.7 390.0,391.3 400.0,394.0 C410.0,396.7 423.3,399.6 440.0,402.0 C456.7,404.4 480.2,407.2 500.0,408.5 C519.8,409.8 549.2,409.8 559.0,410.0" fill="none" stroke="#0000ff" stroke-width="1.1" stroke-linecap="round" stroke-linejoin="round"/>
<circle cx="306.0" cy="319.0" r="2.2" fill="none" stroke="#0000ff" stroke-width="1.1"/><path d="M303.8,319.0 A2.2,2.2 0 0 1 308.2,319.0Z" fill="#0000ff"/>
<circle cx="309.3" cy="326.4" r="2.2" fill="none" stroke="#0000ff" stroke-width="1.1"/><path d="M307.1,326.4 A2.2,2.2 0 0 1 311.5,326.4Z" fill="#0000ff"/>
<circle cx="312.6" cy="333.0" r="2.2" fill="none" stroke="#0000ff" stroke-width="1.1"/><path d="M310.4,333.0 A2.2,2.2 0 0 1 314.8,333.0Z" fill="#0000ff"/>
<circle cx="315.9" cy="338.3" r="2.2" fill="none" stroke="#0000ff" stroke-width="1.1"/><path d="M313.7,338.3 A2.2,2.2 0 0 1 318.1,338.3Z" fill="#0000ff"/>
<circle cx="319.2" cy="342.6" r="2.2" fill="none" stroke="#0000ff" stroke-width="1.1"/><path d="M317.0,342.6 A2.2,2.2 0 0 1 321.4,342.6Z" fill="#0000ff"/>
<circle cx="322.5" cy="346.4" r="2.2" fill="none" stroke="#0000ff" stroke-width="1.1"/><path d="M320.3,346.4 A2.2,2.2 0 0 1 324.7,346.4Z" fill="#0000ff"/>
<circle cx="325.8" cy="349.9" r="2.2" fill="none" stroke="#0000ff" stroke-width="1.1"/><path d="M323.6,349.9 A2.2,2.2 0 0 1 328.0,349.9Z" fill="#0000ff"/>
<circle cx="329.1" cy="353.2" r="2.2" fill="none" stroke="#0000ff" stroke-width="1.1"/><path d="M326.9,353.2 A2.2,2.2 0 0 1 331.3,353.2Z" fill="#0000ff"/>
<circle cx="332.4" cy="356.1" r="2.2" fill="none" stroke="#0000ff" stroke-width="1.1"/><path d="M330.2,356.1 A2.2,2.2 0 0 1 334.6,356.1Z" fill="#0000ff"/>
<circle cx="335.7" cy="358.9" r="2.2" fill="none" stroke="#0000ff" stroke-width="1.1"/><path d="M333.5,358.9 A2.2,2.2 0 0 1 337.9,358.9Z" fill="#0000ff"/>
<circle cx="339.0" cy="361.4" r="2.2" fill="none" stroke="#0000ff" stroke-width="1.1"/><path d="M336.8,361.4 A2.2,2.2 0 0 1 341.2,361.4Z" fill="#0000ff"/>
<circle cx="342.3" cy="363.9" r="2.2" fill="none" stroke="#0000ff" stroke-width="1.1"/><path d="M340.1,363.9 A2.2,2.2 0 0 1 344.5,363.9Z" fill="#0000ff"/>
<circle cx="345.6" cy="366.2" r="2.2" fill="none" stroke="#0000ff" stroke-width="1.1"/><path d="M343.4,366.2 A2.2,2.2 0 0 1 347.8,366.2Z" fill="#0000ff"/>
<circle cx="348.9" cy="368.5" r="2.2" fill="none" stroke="#0000ff" stroke-width="1.1"/><path d="M346.7,368.5 A2.2,2.2 0 0 1 351.1,368.5Z" fill="#0000ff"/>
<circle cx="352.2" cy="370.7" r="2.2" fill="none" stroke="#0000ff" stroke-width="1.1"/><path d="M350.0,370.7 A2.2,2.2 0 0 1 354.4,370.7Z" fill="#0000ff"/>
<circle cx="355.5" cy="372.7" r="2.2" fill="none" stroke="#0000ff" stroke-width="1.1"/><path d="M353.3,372.7 A2.2,2.2 0 0 1 357.7,372.7Z" fill="#0000ff"/>
<circle cx="358.8" cy="374.6" r="2.2" fill="none" stroke="#0000ff" stroke-width="1.1"/><path d="M356.6,374.6 A2.2,2.2 0 0 1 361.0,374.6Z" fill="#0000ff"/>
<circle cx="362.1" cy="376.4" r="2.2" fill="none" stroke="#0000ff" stroke-width="1.1"/><path d="M359.9,376.4 A2.2,2.2 0 0 1 364.3,376.4Z" fill="#0000ff"/>
<circle cx="365.4" cy="378.2" r="2.2" fill="none" stroke="#0000ff" stroke-width="1.1"/><path d="M363.2,378.2 A2.2,2.2 0 0 1 367.6,378.2Z" fill="#0000ff"/>
<circle cx="368.7" cy="380.1" r="2.2" fill="none" stroke="#0000ff" stroke-width="1.1"/><path d="M366.5,380.1 A2.2,2.2 0 0 1 370.9,380.1Z" fill="#0000ff"/>
<circle cx="372.0" cy="381.9" r="2.2" fill="none" stroke="#0000ff" stroke-width="1.1"/><path d="M369.8,381.9 A2.2,2.2 0 0 1 374.2,381.9Z" fill="#0000ff"/>
<circle cx="375.3" cy="383.7" r="2.2" fill="none" stroke="#0000ff" stroke-width="1.1"/><path d="M373.1,383.7 A2.2,2.2 0 0 1 377.5,383.7Z" fill="#0000ff"/>
<circle cx="378.6" cy="385.3" r="2.2" fill="none" stroke="#0000ff" stroke-width="1.1"/><path d="M376.4,385.3 A2.2,2.2 0 0 1 380.8,385.3Z" fill="#0000ff"/>
<circle cx="381.9" cy="386.9" r="2.2" fill="none" stroke="#0000ff" stroke-width="1.1"/><path d="M379.7,386.9 A2.2,2.2 0 0 1 384.1,386.9Z" fill="#0000ff"/>
<circle cx="385.2" cy="388.5" r="2.2" fill="none" stroke="#0000ff" stroke-width="1.1"/><path d="M383.0,388.5 A2.2,2.2 0 0 1 387.4,388.5Z" fill="#0000ff"/>
<circle cx="388.5" cy="390.0" r="2.2" fill="none" stroke="#0000ff" stroke-width="1.1"/><path d="M386.3,390.0 A2.2,2.2 0 0 1 390.7,390.0Z" fill="#0000ff"/>
<circle cx="391.8" cy="391.4" r="2.2" fill="none" stroke="#0000ff" stroke-width="1.1"/><path d="M389.6,391.4 A2.2,2.2 0 0 1 394.0,391.4Z" fill="#0000ff"/>
<circle cx="395.1" cy="392.5" r="2.2" fill="none" stroke="#0000ff" stroke-width="1.1"/><path d="M392.9,392.5 A2.2,2.2 0 0 1 397.3,392.5Z" fill="#0000ff"/>
<circle cx="398.4" cy="393.6" r="2.2" fill="none" stroke="#0000ff" stroke-width="1.1"/><path d="M396.2,393.6 A2.2,2.2 0 0 1 400.6,393.6Z" fill="#0000ff"/>
<circle cx="401.7" cy="394.4" r="2.2" fill="none" stroke="#0000ff" stroke-width="1.1"/><path d="M399.5,394.4 A2.2,2.2 0 0 1 403.9,394.4Z" fill="#0000ff"/>
<circle cx="405.0" cy="395.3" r="2.2" fill="none" stroke="#0000ff" stroke-width="1.1"/><path d="M402.8,395.3 A2.2,2.2 0 0 1 407.2,395.3Z" fill="#0000ff"/>
<circle cx="408.3" cy="396.1" r="2.2" fill="none" stroke="#0000ff" stroke-width="1.1"/><path d="M406.1,396.1 A2.2,2.2 0 0 1 410.5,396.1Z" fill="#0000ff"/>
<circle cx="411.6" cy="396.8" r="2.2" fill="none" stroke="#0000ff" stroke-width="1.1"/><path d="M409.4,396.8 A2.2,2.2 0 0 1 413.8,396.8Z" fill="#0000ff"/>
<circle cx="414.9" cy="397.5" r="2.2" fill="none" stroke="#0000ff" stroke-width="1.1"/><path d="M412.7,397.5 A2.2,2.2 0 0 1 417.1,397.5Z" fill="#0000ff"/>
<circle cx="418.2" cy="398.2" r="2.2" fill="none" stroke="#0000ff" stroke-width="1.1"/><path d="M416.0,398.2 A2.2,2.2 0 0 1 420.4,398.2Z" fill="#0000ff"/>
<circle cx="421.5" cy="398.9" r="2.2" fill="none" stroke="#0000ff" stroke-width="1.1"/><path d="M419.3,398.9 A2.2,2.2 0 0 1 423.7,398.9Z" fill="#0000ff"/>
<circle cx="424.8" cy="399.5" r="2.2" fill="none" stroke="#0000ff" stroke-width="1.1"/><path d="M422.6,399.5 A2.2,2.2 0 0 1 427.0,399.5Z" fill="#0000ff"/>
<circle cx="428.1" cy="400.1" r="2.2" fill="none" stroke="#0000ff" stroke-width="1.1"/><path d="M425.9,400.1 A2.2,2.2 0 0 1 430.3,400.1Z" fill="#0000ff"/>
<circle cx="431.4" cy="400.7" r="2.2" fill="none" stroke="#0000ff" stroke-width="1.1"/><path d="M429.2,400.7 A2.2,2.2 0 0 1 433.6,400.7Z" fill="#0000ff"/>
<circle cx="434.7" cy="401.2" r="2.2" fill="none" stroke="#0000ff" stroke-width="1.1"/><path d="M432.5,401.2 A2.2,2.2 0 0 1 436.9,401.2Z" fill="#0000ff"/>
<circle cx="438.0" cy="401.7" r="2.2" fill="none" stroke="#0000ff" stroke-width="1.1"/><path d="M435.8,401.7 A2.2,2.2 0 0 1 440.2,401.7Z" fill="#0000ff"/>
<circle cx="441.3" cy="402.2" r="2.2" fill="none" stroke="#0000ff" stroke-width="1.1"/><path d="M439.1,402.2 A2.2,2.2 0 0 1 443.5,402.2Z" fill="#0000ff"/>
<circle cx="444.6" cy="402.7" r="2.2" fill="none" stroke="#0000ff" stroke-width="1.1"/><path d="M442.4,402.7 A2.2,2.2 0 0 1 446.8,402.7Z" fill="#0000ff"/>
<circle cx="447.9" cy="403.1" r="2.2" fill="none" stroke="#0000ff" stroke-width="1.1"/><path d="M445.7,403.1 A2.2,2.2 0 0 1 450.1,403.1Z" fill="#0000ff"/>
<circle cx="451.2" cy="403.5" r="2.2" fill="none" stroke="#0000ff" stroke-width="1.1"/><path d="M449.0,403.5 A2.2,2.2 0 0 1 453.4,403.5Z" fill="#0000ff"/>
<circle cx="454.5" cy="404.0" r="2.2" fill="none" stroke="#0000ff" stroke-width="1.1"/><path d="M452.3,404.0 A2.2,2.2 0 0 1 456.7,404.0Z" fill="#0000ff"/>
<circle cx="457.8" cy="404.4" r="2.2" fill="none" stroke="#0000ff" stroke-width="1.1"/><path d="M455.6,404.4 A2.2,2.2 0 0 1 460.0,404.4Z" fill="#0000ff"/>
<circle cx="461.1" cy="404.8" r="2.2" fill="none" stroke="#0000ff" stroke-width="1.1"/><path d="M458.9,404.8 A2.2,2.2 0 0 1 463.3,404.8Z" fill="#0000ff"/>
<circle cx="464.4" cy="405.2" r="2.2" fill="none" stroke="#0000ff" stroke-width="1.1"/><path d="M462.2,405.2 A2.2,2.2 0 0 1 466.6,405.2Z" fill="#0000ff"/>
<circle cx="467.7" cy="405.5" r="2.2" fill="none" stroke="#0000ff" stroke-width="1.1"/><path d="M465.5,405.5 A2.2,2.2 0 0 1 469.9,405.5Z" fill="#0000ff"/>
<circle cx="471.0" cy="405.9" r="2.2" fill="none" stroke="#0000ff" stroke-width="1.1"/><path d="M468.8,405.9 A2.2,2.2 0 0 1 473.2,405.9Z" fill="#0000ff"/>
<circle cx="474.3" cy="406.2" r="2.2" fill="none" stroke="#0000ff" stroke-width="1.1"/><path d="M472.1,406.2 A2.2,2.2 0 0 1 476.5,406.2Z" fill="#0000ff"/>
<circle cx="477.6" cy="406.6" r="2.2" fill="none" stroke="#0000ff" stroke-width="1.1"/><path d="M475.4,406.6 A2.2,2.2 0 0 1 479.8,406.6Z" fill="#0000ff"/>
<circle cx="480.9" cy="406.9" r="2.2" fill="none" stroke="#0000ff" stroke-width="1.1"/><path d="M478.7,406.9 A2.2,2.2 0 0 1 483.1,406.9Z" fill="#0000ff"/>
<circle cx="484.2" cy="407.2" r="2.2" fill="none" stroke="#0000ff" stroke-width="1.1"/><path d="M482.0,407.2 A2.2,2.2 0 0 1 486.4,407.2Z" fill="#0000ff"/>
<circle cx="487.5" cy="407.5" r="2.2" fill="none" stroke="#0000ff" stroke-width="1.1"/><path d="M485.3,407.5 A2.2,2.2 0 0 1 489.7,407.5Z" fill="#0000ff"/>
<path d="M306.0,330.0 C310.0,335.3 322.7,354.7 330.0,362.0 C337.3,369.3 343.8,370.7 349.6,374.0 C355.4,377.3 356.6,378.3 365.0,382.0 C373.4,385.7 387.5,392.4 400.0,396.0 C412.5,399.6 423.3,401.3 440.0,403.5 C456.7,405.7 480.2,407.8 500.0,409.0 C519.8,410.2 549.2,410.2 559.0,410.5" fill="none" stroke="#0000ff" stroke-width="1.1" stroke-linecap="round" stroke-linejoin="round"/>
<path d="M306.0,327.3 L308.7,330.0 L306.0,332.7 L303.3,330.0Z" fill="none" stroke="#0000ff" stroke-width="1.1"/>
<path d="M309.3,331.9 L312.0,334.6 L309.3,337.3 L306.6,334.6Z" fill="none" stroke="#0000ff" stroke-width="1.1"/>
<path d="M312.6,336.6 L315.3,339.3 L312.6,342.1 L309.9,339.3Z" fill="none" stroke="#0000ff" stroke-width="1.1"/>
<path d="M315.9,341.3 L318.6,344.0 L315.9,346.7 L313.2,344.0Z" fill="none" stroke="#0000ff" stroke-width="1.1"/>
<path d="M319.2,345.9 L321.9,348.6 L319.2,351.3 L316.5,348.6Z" fill="none" stroke="#0000ff" stroke-width="1.1"/>
<path d="M322.5,350.3 L325.2,353.0 L322.5,355.8 L319.8,353.0Z" fill="none" stroke="#0000ff" stroke-width="1.1"/>
<path d="M325.8,354.5 L328.5,357.2 L325.8,359.9 L323.1,357.2Z" fill="none" stroke="#0000ff" stroke-width="1.1"/>
<path d="M329.1,358.3 L331.8,361.1 L329.1,363.8 L326.4,361.1Z" fill="none" stroke="#0000ff" stroke-width="1.1"/>
<path d="M332.4,361.5 L335.1,364.2 L332.4,366.9 L329.7,364.2Z" fill="none" stroke="#0000ff" stroke-width="1.1"/>
<path d="M335.7,364.0 L338.4,366.8 L335.7,369.5 L333.0,366.8Z" fill="none" stroke="#0000ff" stroke-width="1.1"/>
<path d="M339.0,366.1 L341.7,368.8 L339.0,371.5 L336.3,368.8Z" fill="none" stroke="#0000ff" stroke-width="1.1"/>
<path d="M342.3,367.7 L345.0,370.5 L342.3,373.2 L339.6,370.5Z" fill="none" stroke="#0000ff" stroke-width="1.1"/>
<path d="M345.6,369.3 L348.3,372.0 L345.6,374.7 L342.9,372.0Z" fill="none" stroke="#0000ff" stroke-width="1.1"/>
<path d="M348.9,370.9 L351.6,373.6 L348.9,376.3 L346.2,373.6Z" fill="none" stroke="#0000ff" stroke-width="1.1"/>
<path d="M352.2,372.8 L354.9,375.5 L352.2,378.2 L349.5,375.5Z" fill="none" stroke="#0000ff" stroke-width="1.1"/>
<path d="M355.5,374.7 L358.2,377.4 L355.5,380.1 L352.8,377.4Z" fill="none" stroke="#0000ff" stroke-width="1.1"/>
<path d="M358.8,376.4 L361.5,379.2 L358.8,381.9 L356.1,379.2Z" fill="none" stroke="#0000ff" stroke-width="1.1"/>
<path d="M362.1,378.0 L364.8,380.7 L362.1,383.4 L359.4,380.7Z" fill="none" stroke="#0000ff" stroke-width="1.1"/>
<path d="M365.4,379.5 L368.1,382.2 L365.4,384.9 L362.7,382.2Z" fill="none" stroke="#0000ff" stroke-width="1.1"/>
<path d="M368.7,380.9 L371.4,383.6 L368.7,386.4 L366.0,383.6Z" fill="none" stroke="#0000ff" stroke-width="1.1"/>
<path d="M372.0,382.4 L374.7,385.1 L372.0,387.8 L369.3,385.1Z" fill="none" stroke="#0000ff" stroke-width="1.1"/>
<path d="M375.3,383.9 L378.0,386.6 L375.3,389.3 L372.6,386.6Z" fill="none" stroke="#0000ff" stroke-width="1.1"/>
<path d="M378.6,385.3 L381.3,388.0 L378.6,390.7 L375.9,388.0Z" fill="none" stroke="#0000ff" stroke-width="1.1"/>
<path d="M381.9,386.7 L384.6,389.4 L381.9,392.1 L379.2,389.4Z" fill="none" stroke="#0000ff" stroke-width="1.1"/>
<path d="M385.2,388.1 L387.9,390.8 L385.2,393.5 L382.5,390.8Z" fill="none" stroke="#0000ff" stroke-width="1.1"/>
<path d="M388.5,389.4 L391.2,392.1 L388.5,394.8 L385.8,392.1Z" fill="none" stroke="#0000ff" stroke-width="1.1"/>
<path d="M391.8,390.6 L394.5,393.3 L391.8,396.0 L389.1,393.3Z" fill="none" stroke="#0000ff" stroke-width="1.1"/>
<path d="M395.1,391.7 L397.8,394.5 L395.1,397.2 L392.4,394.5Z" fill="none" stroke="#0000ff" stroke-width="1.1"/>
<path d="M398.4,392.8 L401.1,395.5 L398.4,398.2 L395.7,395.5Z" fill="none" stroke="#0000ff" stroke-width="1.1"/>
<path d="M401.7,393.8 L404.4,396.5 L401.7,399.2 L399.0,396.5Z" fill="none" stroke="#0000ff" stroke-width="1.1"/>
<path d="M405.0,394.6 L407.7,397.4 L405.0,400.1 L402.3,397.4Z" fill="none" stroke="#0000ff" stroke-width="1.1"/>
<path d="M408.3,395.5 L411.0,398.2 L408.3,400.9 L405.6,398.2Z" fill="none" stroke="#0000ff" stroke-width="1.1"/>
<path d="M411.6,396.2 L414.3,398.9 L411.6,401.6 L408.9,398.9Z" fill="none" stroke="#0000ff" stroke-width="1.1"/>
<path d="M414.9,396.9 L417.6,399.6 L414.9,402.3 L412.2,399.6Z" fill="none" stroke="#0000ff" stroke-width="1.1"/>
<path d="M418.2,397.5 L420.9,400.2 L418.2,403.0 L415.5,400.2Z" fill="none" stroke="#0000ff" stroke-width="1.1"/>
<path d="M421.5,398.1 L424.2,400.8 L421.5,403.5 L418.8,400.8Z" fill="none" stroke="#0000ff" stroke-width="1.1"/>
<path d="M424.8,398.6 L427.5,401.4 L424.8,404.1 L422.1,401.4Z" fill="none" stroke="#0000ff" stroke-width="1.1"/>
<path d="M428.1,399.1 L430.8,401.9 L428.1,404.6 L425.4,401.9Z" fill="none" stroke="#0000ff" stroke-width="1.1"/>
<path d="M431.4,399.6 L434.1,402.3 L431.4,405.1 L428.7,402.3Z" fill="none" stroke="#0000ff" stroke-width="1.1"/>
<path d="M434.7,400.1 L437.4,402.8 L434.7,405.5 L432.0,402.8Z" fill="none" stroke="#0000ff" stroke-width="1.1"/>
<path d="M438.0,400.5 L440.7,403.2 L438.0,406.0 L435.3,403.2Z" fill="none" stroke="#0000ff" stroke-width="1.1"/>
<path d="M441.3,400.9 L444.0,403.7 L441.3,406.4 L438.6,403.7Z" fill="none" stroke="#0000ff" stroke-width="1.1"/>
<path d="M444.6,401.4 L447.3,404.1 L444.6,406.8 L441.9,404.1Z" fill="none" stroke="#0000ff" stroke-width="1.1"/>
<path d="M447.9,401.8 L450.6,404.5 L447.9,407.2 L445.2,404.5Z" fill="none" stroke="#0000ff" stroke-width="1.1"/>
<path d="M451.2,402.1 L453.9,404.8 L451.2,407.6 L448.5,404.8Z" fill="none" stroke="#0000ff" stroke-width="1.1"/>
<path d="M454.5,402.5 L457.2,405.2 L454.5,407.9 L451.8,405.2Z" fill="none" stroke="#0000ff" stroke-width="1.1"/>
<path d="M457.8,402.8 L460.5,405.6 L457.8,408.3 L455.1,405.6Z" fill="none" stroke="#0000ff" stroke-width="1.1"/>
<path d="M461.1,403.2 L463.8,405.9 L461.1,408.6 L458.4,405.9Z" fill="none" stroke="#0000ff" stroke-width="1.1"/>
<path d="M464.4,403.5 L467.1,406.2 L464.4,408.9 L461.7,406.2Z" fill="none" stroke="#0000ff" stroke-width="1.1"/>
<path d="M467.7,403.8 L470.4,406.5 L467.7,409.2 L465.0,406.5Z" fill="none" stroke="#0000ff" stroke-width="1.1"/>
<path d="M471.0,404.1 L473.7,406.8 L471.0,409.5 L468.3,406.8Z" fill="none" stroke="#0000ff" stroke-width="1.1"/>
<path d="M474.3,404.4 L477.0,407.1 L474.3,409.8 L471.6,407.1Z" fill="none" stroke="#0000ff" stroke-width="1.1"/>
<path d="M477.6,404.7 L480.3,407.4 L477.6,410.1 L474.9,407.4Z" fill="none" stroke="#0000ff" stroke-width="1.1"/>
<path d="M480.9,404.9 L483.6,407.7 L480.9,410.4 L478.2,407.7Z" fill="none" stroke="#0000ff" stroke-width="1.1"/>
<path d="M484.2,405.2 L486.9,407.9 L484.2,410.6 L481.5,407.9Z" fill="none" stroke="#0000ff" stroke-width="1.1"/>
<path d="M487.5,405.5 L490.2,408.2 L487.5,410.9 L484.8,408.2Z" fill="none" stroke="#0000ff" stroke-width="1.1"/>
<path d="M306.0,345.0 C310.0,349.0 320.2,362.2 330.0,369.0 C339.8,375.8 353.3,381.2 365.0,386.0 C376.7,390.8 387.5,394.9 400.0,398.0 C412.5,401.1 423.3,402.7 440.0,404.5 C456.7,406.3 480.2,408.0 500.0,409.0 C519.8,410.0 549.2,410.2 559.0,410.5" fill="none" stroke="#0000ff" stroke-width="1.1" stroke-linecap="round" stroke-linejoin="round"/>
<polygon points="306.0,342.3 306.7,344.1 308.6,344.2 307.1,345.4 307.6,347.2 306.0,346.1 304.4,347.2 304.9,345.4 303.4,344.2 305.3,344.1" fill="#0000ff"/>
<polygon points="309.3,345.9 310.0,347.7 311.9,347.8 310.4,349.0 310.9,350.8 309.3,349.8 307.7,350.8 308.2,349.0 306.7,347.8 308.6,347.7" fill="#0000ff"/>
<polygon points="312.6,349.7 313.3,351.4 315.2,351.5 313.7,352.7 314.2,354.6 312.6,353.5 311.0,354.6 311.5,352.7 310.0,351.5 311.9,351.4" fill="#0000ff"/>
<polygon points="315.9,353.3 316.6,355.1 318.5,355.2 317.0,356.4 317.5,358.2 315.9,357.2 314.3,358.2 314.8,356.4 313.3,355.2 315.2,355.1" fill="#0000ff"/>
<polygon points="319.2,356.8 319.9,358.6 321.8,358.7 320.3,359.9 320.8,361.7 319.2,360.7 317.6,361.7 318.1,359.9 316.6,358.7 318.5,358.6" fill="#0000ff"/>
<polygon points="322.5,360.1 323.2,361.8 325.1,361.9 323.6,363.1 324.1,365.0 322.5,363.9 320.9,365.0 321.4,363.1 319.9,361.9 321.8,361.8" fill="#0000ff"/>
<polygon points="325.8,363.0 326.5,364.8 328.4,364.9 326.9,366.1 327.4,367.9 325.8,366.9 324.2,367.9 324.7,366.1 323.2,364.9 325.1,364.8" fill="#0000ff"/>
<polygon points="329.1,365.6 329.8,367.4 331.7,367.5 330.2,368.7 330.7,370.5 329.1,369.5 327.5,370.5 328.0,368.7 326.5,367.5 328.4,367.4" fill="#0000ff"/>
<polygon points="332.4,367.9 333.1,369.7 335.0,369.7 333.5,370.9 334.0,372.8 332.4,371.7 330.8,372.8 331.3,370.9 329.8,369.7 331.7,369.7" fill="#0000ff"/>
<polygon points="335.7,369.9 336.4,371.7 338.3,371.7 336.8,372.9 337.3,374.8 335.7,373.7 334.1,374.8 334.6,372.9 333.1,371.7 335.0,371.7" fill="#0000ff"/>
<polygon points="339.0,371.7 339.7,373.5 341.6,373.6 340.1,374.8 340.6,376.6 339.0,375.6 337.4,376.6 337.9,374.8 336.4,373.6 338.3,373.5" fill="#0000ff"/>
<polygon points="342.3,373.4 343.0,375.2 344.9,375.3 343.4,376.4 343.9,378.3 342.3,377.2 340.7,378.3 341.2,376.4 339.7,375.3 341.6,375.2" fill="#0000ff"/>
<polygon points="345.6,375.0 346.3,376.8 348.2,376.8 346.7,378.0 347.2,379.9 345.6,378.8 344.0,379.9 344.5,378.0 343.0,376.8 344.9,376.8" fill="#0000ff"/>
<polygon points="348.9,376.5 349.6,378.3 351.5,378.4 350.0,379.6 350.5,381.4 348.9,380.3 347.3,381.4 347.8,379.6 346.3,378.4 348.2,378.3" fill="#0000ff"/>
<polygon points="352.2,377.9 352.9,379.7 354.8,379.8 353.3,381.0 353.8,382.8 352.2,381.8 350.6,382.8 351.1,381.0 349.6,379.8 351.5,379.7" fill="#0000ff"/>
<polygon points="355.5,379.3 356.2,381.1 358.1,381.2 356.6,382.4 357.1,384.3 355.5,383.2 353.9,384.3 354.4,382.4 352.9,381.2 354.8,381.1" fill="#0000ff"/>
<polygon points="358.8,380.7 359.5,382.5 361.4,382.6 359.9,383.8 360.4,385.6 358.8,384.6 357.2,385.6 357.7,383.8 356.2,382.6 358.1,382.5" fill="#0000ff"/>
<polygon points="362.1,382.1 362.8,383.9 364.7,384.0 363.2,385.2 363.7,387.0 362.1,386.0 360.5,387.0 361.0,385.2 359.5,384.0 361.4,383.9" fill="#0000ff"/>
<polygon points="365.4,383.4 366.1,385.2 368.0,385.3 366.5,386.5 367.0,388.4 365.4,387.3 363.8,388.4 364.3,386.5 362.8,385.3 364.7,385.2" fill="#0000ff"/>
<polygon points="368.7,384.8 369.4,386.6 371.3,386.7 369.8,387.9 370.3,389.7 368.7,388.7 367.1,389.7 367.6,387.9 366.1,386.7 368.0,386.6" fill="#0000ff"/>
<polygon points="372.0,386.1 372.7,387.9 374.6,388.0 373.1,389.2 373.6,391.0 372.0,390.0 370.4,391.0 370.9,389.2 369.4,388.0 371.3,387.9" fill="#0000ff"/>
<polygon points="375.3,387.4 376.0,389.2 377.9,389.3 376.4,390.5 376.9,392.3 375.3,391.3 373.7,392.3 374.2,390.5 372.7,389.3 374.6,389.2" fill="#0000ff"/>
<polygon points="378.6,388.6 379.3,390.4 381.2,390.5 379.7,391.7 380.2,393.6 378.6,392.5 377.0,393.6 377.5,391.7 376.0,390.5 377.9,390.4" fill="#0000ff"/>
<polygon points="381.9,389.8 382.6,391.6 384.5,391.7 383.0,392.9 383.5,394.8 381.9,393.7 380.3,394.8 380.8,392.9 379.3,391.7 381.2,391.6" fill="#0000ff"/>
<polygon points="385.2,391.0 385.9,392.8 387.8,392.8 386.3,394.0 386.8,395.9 385.2,394.8 383.6,395.9 384.1,394.0 382.6,392.8 384.5,392.8" fill="#0000ff"/>
<polygon points="388.5,392.0 389.2,393.8 391.1,393.9 389.6,395.1 390.1,397.0 388.5,395.9 386.9,397.0 387.4,395.1 385.9,393.9 387.8,393.8" fill="#0000ff"/>
<polygon points="391.8,393.1 392.5,394.8 394.4,394.9 392.9,396.1 393.4,398.0 391.8,396.9 390.2,398.0 390.7,396.1 389.2,394.9 391.1,394.8" fill="#0000ff"/>
<polygon points="395.1,394.0 395.8,395.8 397.7,395.9 396.2,397.1 396.7,398.9 395.1,397.9 393.5,398.9 394.0,397.1 392.5,395.9 394.4,395.8" fill="#0000ff"/>
<polygon points="398.4,394.9 399.1,396.7 401.0,396.8 399.5,398.0 400.0,399.8 398.4,398.7 396.8,399.8 397.3,398.0 395.8,396.8 397.7,396.7" fill="#0000ff"/>
<polygon points="401.7,395.7 402.4,397.5 404.3,397.6 402.8,398.8 403.3,400.6 401.7,399.6 400.1,400.6 400.6,398.8 399.1,397.6 401.0,397.5" fill="#0000ff"/>
<polygon points="405.0,396.5 405.7,398.2 407.6,398.3 406.1,399.5 406.6,401.4 405.0,400.3 403.4,401.4 403.9,399.5 402.4,398.3 404.3,398.2" fill="#0000ff"/>
<polygon points="408.3,397.2 409.0,398.9 410.9,399.0 409.4,400.2 409.9,402.1 408.3,401.0 406.7,402.1 407.2,400.2 405.7,399.0 407.6,398.9" fill="#0000ff"/>
<polygon points="411.6,397.8 412.3,399.6 414.2,399.7 412.7,400.9 413.2,402.7 411.6,401.7 410.0,402.7 410.5,400.9 409.0,399.7 410.9,399.6" fill="#0000ff"/>
<polygon points="414.9,398.4 415.6,400.2 417.5,400.3 416.0,401.5 416.5,403.3 414.9,402.3 413.3,403.3 413.8,401.5 412.3,400.3 414.2,400.2" fill="#0000ff"/>
<polygon points="418.2,399.0 418.9,400.8 420.8,400.8 419.3,402.0 419.8,403.9 418.2,402.8 416.6,403.9 417.1,402.0 415.6,400.8 417.5,400.8" fill="#0000ff"/>
<polygon points="421.5,399.5 422.2,401.3 424.1,401.3 422.6,402.5 423.1,404.4 421.5,403.3 419.9,404.4 420.4,402.5 418.9,401.3 420.8,401.3" fill="#0000ff"/>
<polygon points="424.8,399.9 425.5,401.7 427.4,401.8 425.9,403.0 426.4,404.9 424.8,403.8 423.2,404.9 423.7,403.0 422.2,401.8 424.1,401.7" fill="#0000ff"/>
<polygon points="428.1,400.4 428.8,402.2 430.7,402.3 429.2,403.5 429.7,405.3 428.1,404.2 426.5,405.3 427.0,403.5 425.5,402.3 427.4,402.2" fill="#0000ff"/>
<polygon points="431.4,400.8 432.1,402.6 434.0,402.7 432.5,403.9 433.0,405.7 431.4,404.7 429.8,405.7 430.3,403.9 428.8,402.7 430.7,402.6" fill="#0000ff"/>
<polygon points="434.7,401.2 435.4,403.0 437.3,403.1 435.8,404.3 436.3,406.1 434.7,405.1 433.1,406.1 433.6,404.3 432.1,403.1 434.0,403.0" fill="#0000ff"/>
<polygon points="438.0,401.6 438.7,403.3 440.6,403.4 439.1,404.6 439.6,406.5 438.0,405.4 436.4,406.5 436.9,404.6 435.4,403.4 437.3,403.3" fill="#0000ff"/>
<polygon points="441.3,401.9 442.0,403.7 443.9,403.8 442.4,405.0 442.9,406.8 441.3,405.8 439.7,406.8 440.2,405.0 438.7,403.8 440.6,403.7" fill="#0000ff"/>
<polygon points="444.6,402.3 445.3,404.1 447.2,404.1 445.7,405.3 446.2,407.2 444.6,406.1 443.0,407.2 443.5,405.3 442.0,404.1 443.9,404.1" fill="#0000ff"/>
<polygon points="447.9,402.6 448.6,404.4 450.5,404.5 449.0,405.7 449.5,407.5 447.9,406.5 446.3,407.5 446.8,405.7 445.3,404.5 447.2,404.4" fill="#0000ff"/>
<polygon points="451.2,402.9 451.9,404.7 453.8,404.8 452.3,406.0 452.8,407.8 451.2,406.8 449.6,407.8 450.1,406.0 448.6,404.8 450.5,404.7" fill="#0000ff"/>
<polygon points="454.5,403.2 455.2,405.0 457.1,405.1 455.6,406.3 456.1,408.1 454.5,407.1 452.9,408.1 453.4,406.3 451.9,405.1 453.8,405.0" fill="#0000ff"/>
<polygon points="457.8,403.5 458.5,405.3 460.4,405.4 458.9,406.6 459.4,408.4 457.8,407.3 456.2,408.4 456.7,406.6 455.2,405.4 457.1,405.3" fill="#0000ff"/>
<polygon points="461.1,403.7 461.8,405.5 463.7,405.6 462.2,406.8 462.7,408.7 461.1,407.6 459.5,408.7 460.0,406.8 458.5,405.6 460.4,405.5" fill="#0000ff"/>
<polygon points="464.4,404.0 465.1,405.8 467.0,405.9 465.5,407.1 466.0,408.9 464.4,407.9 462.8,408.9 463.3,407.1 461.8,405.9 463.7,405.8" fill="#0000ff"/>
<polygon points="467.7,404.3 468.4,406.0 470.3,406.1 468.8,407.3 469.3,409.2 467.7,408.1 466.1,409.2 466.6,407.3 465.1,406.1 467.0,406.0" fill="#0000ff"/>
<polygon points="471.0,404.5 471.7,406.3 473.6,406.4 472.1,407.6 472.6,409.4 471.0,408.4 469.4,409.4 469.9,407.6 468.4,406.4 470.3,406.3" fill="#0000ff"/>
<polygon points="474.3,404.7 475.0,406.5 476.9,406.6 475.4,407.8 475.9,409.7 474.3,408.6 472.7,409.7 473.2,407.8 471.7,406.6 473.6,406.5" fill="#0000ff"/>
<polygon points="477.6,405.0 478.3,406.8 480.2,406.8 478.7,408.0 479.2,409.9 477.6,408.8 476.0,409.9 476.5,408.0 475.0,406.8 476.9,406.8" fill="#0000ff"/>
<polygon points="480.9,405.2 481.6,407.0 483.5,407.1 482.0,408.3 482.5,410.1 480.9,409.0 479.3,410.1 479.8,408.3 478.3,407.1 480.2,407.0" fill="#0000ff"/>
<polygon points="484.2,405.4 484.9,407.2 486.8,407.3 485.3,408.5 485.8,410.3 484.2,409.3 482.6,410.3 483.1,408.5 481.6,407.3 483.5,407.2" fill="#0000ff"/>
<polygon points="487.5,405.6 488.2,407.4 490.1,407.5 488.6,408.7 489.1,410.5 487.5,409.5 485.9,410.5 486.4,408.7 484.9,407.5 486.8,407.4" fill="#0000ff"/>
<path d="M306.0,355.0 C310.0,358.3 320.2,369.3 330.0,375.0 C339.8,380.7 353.3,385.0 365.0,389.0 C376.7,393.0 387.5,396.2 400.0,399.0 C412.5,401.8 423.3,403.8 440.0,405.5 C456.7,407.2 480.2,408.7 500.0,409.5 C519.8,410.3 549.2,410.3 559.0,410.5" fill="none" stroke="#0000ff" stroke-width="1.1" stroke-linecap="round" stroke-linejoin="round"/>
<rect x="304.1" y="353.1" width="3.8" height="3.8" fill="none" stroke="#0000ff" stroke-width="1.1"/>
<rect x="307.4" y="356.1" width="3.8" height="3.8" fill="none" stroke="#0000ff" stroke-width="1.1"/>
<rect x="310.7" y="359.3" width="3.8" height="3.8" fill="none" stroke="#0000ff" stroke-width="1.1"/>
<rect x="314.0" y="362.3" width="3.8" height="3.8" fill="none" stroke="#0000ff" stroke-width="1.1"/>
<rect x="317.3" y="365.2" width="3.8" height="3.8" fill="none" stroke="#0000ff" stroke-width="1.1"/>
<rect x="320.6" y="367.9" width="3.8" height="3.8" fill="none" stroke="#0000ff" stroke-width="1.1"/>
<rect x="323.9" y="370.4" width="3.8" height="3.8" fill="none" stroke="#0000ff" stroke-width="1.1"/>
<rect x="327.2" y="372.6" width="3.8" height="3.8" fill="none" stroke="#0000ff" stroke-width="1.1"/>
<rect x="330.5" y="374.4" width="3.8" height="3.8" fill="none" stroke="#0000ff" stroke-width="1.1"/>
<rect x="333.8" y="376.1" width="3.8" height="3.8" fill="none" stroke="#0000ff" stroke-width="1.1"/>
<rect x="337.1" y="377.6" width="3.8" height="3.8" fill="none" stroke="#0000ff" stroke-width="1.1"/>
<rect x="340.4" y="379.0" width="3.8" height="3.8" fill="none" stroke="#0000ff" stroke-width="1.1"/>
<rect x="343.7" y="380.3" width="3.8" height="3.8" fill="none" stroke="#0000ff" stroke-width="1.1"/>
<rect x="347.0" y="381.5" width="3.8" height="3.8" fill="none" stroke="#0000ff" stroke-width="1.1"/>
<rect x="350.3" y="382.7" width="3.8" height="3.8" fill="none" stroke="#0000ff" stroke-width="1.1"/>
<rect x="353.6" y="383.9" width="3.8" height="3.8" fill="none" stroke="#0000ff" stroke-width="1.1"/>
<rect x="356.9" y="385.0" width="3.8" height="3.8" fill="none" stroke="#0000ff" stroke-width="1.1"/>
<rect x="360.2" y="386.1" width="3.8" height="3.8" fill="none" stroke="#0000ff" stroke-width="1.1"/>
<rect x="363.5" y="387.3" width="3.8" height="3.8" fill="none" stroke="#0000ff" stroke-width="1.1"/>
<rect x="366.8" y="388.4" width="3.8" height="3.8" fill="none" stroke="#0000ff" stroke-width="1.1"/>
<rect x="370.1" y="389.5" width="3.8" height="3.8" fill="none" stroke="#0000ff" stroke-width="1.1"/>
<rect x="373.4" y="390.5" width="3.8" height="3.8" fill="none" stroke="#0000ff" stroke-width="1.1"/>
<rect x="376.7" y="391.5" width="3.8" height="3.8" fill="none" stroke="#0000ff" stroke-width="1.1"/>
<rect x="380.0" y="392.5" width="3.8" height="3.8" fill="none" stroke="#0000ff" stroke-width="1.1"/>
<rect x="383.3" y="393.4" width="3.8" height="3.8" fill="none" stroke="#0000ff" stroke-width="1.1"/>
<rect x="386.6" y="394.3" width="3.8" height="3.8" fill="none" stroke="#0000ff" stroke-width="1.1"/>
<rect x="389.9" y="395.2" width="3.8" height="3.8" fill="none" stroke="#0000ff" stroke-width="1.1"/>
<rect x="393.2" y="396.0" width="3.8" height="3.8" fill="none" stroke="#0000ff" stroke-width="1.1"/>
<rect x="396.5" y="396.8" width="3.8" height="3.8" fill="none" stroke="#0000ff" stroke-width="1.1"/>
<rect x="399.8" y="397.5" width="3.8" height="3.8" fill="none" stroke="#0000ff" stroke-width="1.1"/>
<rect x="403.1" y="398.2" width="3.8" height="3.8" fill="none" stroke="#0000ff" stroke-width="1.1"/>
<rect x="406.4" y="398.9" width="3.8" height="3.8" fill="none" stroke="#0000ff" stroke-width="1.1"/>
<rect x="409.7" y="399.5" width="3.8" height="3.8" fill="none" stroke="#0000ff" stroke-width="1.1"/>
<rect x="413.0" y="400.1" width="3.8" height="3.8" fill="none" stroke="#0000ff" stroke-width="1.1"/>
<rect x="416.3" y="400.7" width="3.8" height="3.8" fill="none" stroke="#0000ff" stroke-width="1.1"/>
<rect x="419.6" y="401.2" width="3.8" height="3.8" fill="none" stroke="#0000ff" stroke-width="1.1"/>
<rect x="422.9" y="401.7" width="3.8" height="3.8" fill="none" stroke="#0000ff" stroke-width="1.1"/>
<rect x="426.2" y="402.2" width="3.8" height="3.8" fill="none" stroke="#0000ff" stroke-width="1.1"/>
<rect x="429.5" y="402.6" width="3.8" height="3.8" fill="none" stroke="#0000ff" stroke-width="1.1"/>
<rect x="432.8" y="403.0" width="3.8" height="3.8" fill="none" stroke="#0000ff" stroke-width="1.1"/>
<rect x="436.1" y="403.4" width="3.8" height="3.8" fill="none" stroke="#0000ff" stroke-width="1.1"/>
<rect x="439.4" y="403.8" width="3.8" height="3.8" fill="none" stroke="#0000ff" stroke-width="1.1"/>
<rect x="442.7" y="404.1" width="3.8" height="3.8" fill="none" stroke="#0000ff" stroke-width="1.1"/>
<rect x="446.0" y="404.4" width="3.8" height="3.8" fill="none" stroke="#0000ff" stroke-width="1.1"/>
<rect x="449.3" y="404.7" width="3.8" height="3.8" fill="none" stroke="#0000ff" stroke-width="1.1"/>
<rect x="452.6" y="404.9" width="3.8" height="3.8" fill="none" stroke="#0000ff" stroke-width="1.1"/>
<rect x="455.9" y="405.2" width="3.8" height="3.8" fill="none" stroke="#0000ff" stroke-width="1.1"/>
<rect x="459.2" y="405.4" width="3.8" height="3.8" fill="none" stroke="#0000ff" stroke-width="1.1"/>
<rect x="462.5" y="405.7" width="3.8" height="3.8" fill="none" stroke="#0000ff" stroke-width="1.1"/>
<rect x="465.8" y="405.9" width="3.8" height="3.8" fill="none" stroke="#0000ff" stroke-width="1.1"/>
<rect x="469.1" y="406.1" width="3.8" height="3.8" fill="none" stroke="#0000ff" stroke-width="1.1"/>
<rect x="472.4" y="406.3" width="3.8" height="3.8" fill="none" stroke="#0000ff" stroke-width="1.1"/>
<rect x="475.7" y="406.5" width="3.8" height="3.8" fill="none" stroke="#0000ff" stroke-width="1.1"/>
<rect x="479.0" y="406.7" width="3.8" height="3.8" fill="none" stroke="#0000ff" stroke-width="1.1"/>
<rect x="482.3" y="406.9" width="3.8" height="3.8" fill="none" stroke="#0000ff" stroke-width="1.1"/>
<rect x="485.6" y="407.0" width="3.8" height="3.8" fill="none" stroke="#0000ff" stroke-width="1.1"/>
<path d="M306.0,368.0 C310.0,370.0 320.2,376.0 330.0,380.0 C339.8,384.0 353.3,388.7 365.0,392.0 C376.7,395.3 387.5,397.6 400.0,400.0 C412.5,402.4 423.3,404.9 440.0,406.5 C456.7,408.1 480.2,408.8 500.0,409.5 C519.8,410.2 549.2,410.8 559.0,411.0" fill="none" stroke="#0000ff" stroke-width="1.1" stroke-linecap="round" stroke-linejoin="round"/>
<circle cx="306.0" cy="368.0" r="2.1" fill="none" stroke="#0000ff" stroke-width="1.1"/><path d="M303.9,368.0 H308.1 M306.0,365.9 V370.1" stroke="#0000ff" stroke-width="0.9"/>
<circle cx="309.3" cy="369.7" r="2.1" fill="none" stroke="#0000ff" stroke-width="1.1"/><path d="M307.2,369.7 H311.4 M309.3,367.7 V371.8" stroke="#0000ff" stroke-width="0.9"/>
<circle cx="312.6" cy="371.5" r="2.1" fill="none" stroke="#0000ff" stroke-width="1.1"/><path d="M310.5,371.5 H314.7 M312.6,369.4 V373.6" stroke="#0000ff" stroke-width="0.9"/>
<circle cx="315.9" cy="373.3" r="2.1" fill="none" stroke="#0000ff" stroke-width="1.1"/><path d="M313.8,373.3 H318.0 M315.9,371.2 V375.4" stroke="#0000ff" stroke-width="0.9"/>
<circle cx="319.2" cy="375.0" r="2.1" fill="none" stroke="#0000ff" stroke-width="1.1"/><path d="M317.1,375.0 H321.3 M319.2,372.9 V377.1" stroke="#0000ff" stroke-width="0.9"/>
<circle cx="322.5" cy="376.6" r="2.1" fill="none" stroke="#0000ff" stroke-width="1.1"/><path d="M320.4,376.6 H324.6 M322.5,374.5 V378.7" stroke="#0000ff" stroke-width="0.9"/>
<circle cx="325.8" cy="378.2" r="2.1" fill="none" stroke="#0000ff" stroke-width="1.1"/><path d="M323.7,378.2 H327.9 M325.8,376.1 V380.3" stroke="#0000ff" stroke-width="0.9"/>
<circle cx="329.1" cy="379.6" r="2.1" fill="none" stroke="#0000ff" stroke-width="1.1"/><path d="M327.0,379.6 H331.2 M329.1,377.5 V381.7" stroke="#0000ff" stroke-width="0.9"/>
<circle cx="332.4" cy="381.0" r="2.1" fill="none" stroke="#0000ff" stroke-width="1.1"/><path d="M330.3,381.0 H334.5 M332.4,378.9 V383.0" stroke="#0000ff" stroke-width="0.9"/>
<circle cx="335.7" cy="382.2" r="2.1" fill="none" stroke="#0000ff" stroke-width="1.1"/><path d="M333.6,382.2 H337.8 M335.7,380.1 V384.3" stroke="#0000ff" stroke-width="0.9"/>
<circle cx="339.0" cy="383.5" r="2.1" fill="none" stroke="#0000ff" stroke-width="1.1"/><path d="M336.9,383.5 H341.1 M339.0,381.4 V385.6" stroke="#0000ff" stroke-width="0.9"/>
<circle cx="342.3" cy="384.7" r="2.1" fill="none" stroke="#0000ff" stroke-width="1.1"/><path d="M340.2,384.7 H344.4 M342.3,382.6 V386.8" stroke="#0000ff" stroke-width="0.9"/>
<circle cx="345.6" cy="385.8" r="2.1" fill="none" stroke="#0000ff" stroke-width="1.1"/><path d="M343.5,385.8 H347.7 M345.6,383.7 V387.9" stroke="#0000ff" stroke-width="0.9"/>
<circle cx="348.9" cy="387.0" r="2.1" fill="none" stroke="#0000ff" stroke-width="1.1"/><path d="M346.8,387.0 H351.0 M348.9,384.9 V389.1" stroke="#0000ff" stroke-width="0.9"/>
<circle cx="352.2" cy="388.1" r="2.1" fill="none" stroke="#0000ff" stroke-width="1.1"/><path d="M350.1,388.1 H354.3 M352.2,386.0 V390.1" stroke="#0000ff" stroke-width="0.9"/>
<circle cx="355.5" cy="389.1" r="2.1" fill="none" stroke="#0000ff" stroke-width="1.1"/><path d="M353.4,389.1 H357.6 M355.5,387.0 V391.2" stroke="#0000ff" stroke-width="0.9"/>
<circle cx="358.8" cy="390.2" r="2.1" fill="none" stroke="#0000ff" stroke-width="1.1"/><path d="M356.7,390.2 H360.9 M358.8,388.1 V392.2" stroke="#0000ff" stroke-width="0.9"/>
<circle cx="362.1" cy="391.2" r="2.1" fill="none" stroke="#0000ff" stroke-width="1.1"/><path d="M360.0,391.2 H364.2 M362.1,389.1 V393.2" stroke="#0000ff" stroke-width="0.9"/>
<circle cx="365.4" cy="392.1" r="2.1" fill="none" stroke="#0000ff" stroke-width="1.1"/><path d="M363.3,392.1 H367.5 M365.4,390.0 V394.2" stroke="#0000ff" stroke-width="0.9"/>
<circle cx="368.7" cy="393.0" r="2.1" fill="none" stroke="#0000ff" stroke-width="1.1"/><path d="M366.6,393.0 H370.8 M368.7,390.9 V395.1" stroke="#0000ff" stroke-width="0.9"/>
<circle cx="372.0" cy="393.9" r="2.1" fill="none" stroke="#0000ff" stroke-width="1.1"/><path d="M369.9,393.9 H374.1 M372.0,391.8 V396.0" stroke="#0000ff" stroke-width="0.9"/>
<circle cx="375.3" cy="394.7" r="2.1" fill="none" stroke="#0000ff" stroke-width="1.1"/><path d="M373.2,394.7 H377.4 M375.3,392.6 V396.8" stroke="#0000ff" stroke-width="0.9"/>
<circle cx="378.6" cy="395.5" r="2.1" fill="none" stroke="#0000ff" stroke-width="1.1"/><path d="M376.5,395.5 H380.7 M378.6,393.4 V397.6" stroke="#0000ff" stroke-width="0.9"/>
<circle cx="381.9" cy="396.3" r="2.1" fill="none" stroke="#0000ff" stroke-width="1.1"/><path d="M379.8,396.3 H384.0 M381.9,394.2 V398.4" stroke="#0000ff" stroke-width="0.9"/>
<circle cx="385.2" cy="397.0" r="2.1" fill="none" stroke="#0000ff" stroke-width="1.1"/><path d="M383.1,397.0 H387.3 M385.2,394.9 V399.1" stroke="#0000ff" stroke-width="0.9"/>
<circle cx="388.5" cy="397.7" r="2.1" fill="none" stroke="#0000ff" stroke-width="1.1"/><path d="M386.4,397.7 H390.6 M388.5,395.6 V399.8" stroke="#0000ff" stroke-width="0.9"/>
<circle cx="391.8" cy="398.4" r="2.1" fill="none" stroke="#0000ff" stroke-width="1.1"/><path d="M389.7,398.4 H393.9 M391.8,396.3 V400.5" stroke="#0000ff" stroke-width="0.9"/>
<circle cx="395.1" cy="399.0" r="2.1" fill="none" stroke="#0000ff" stroke-width="1.1"/><path d="M393.0,399.0 H397.2 M395.1,397.0 V401.1" stroke="#0000ff" stroke-width="0.9"/>
<circle cx="398.4" cy="399.7" r="2.1" fill="none" stroke="#0000ff" stroke-width="1.1"/><path d="M396.3,399.7 H400.5 M398.4,397.6 V401.8" stroke="#0000ff" stroke-width="0.9"/>
<circle cx="401.7" cy="400.3" r="2.1" fill="none" stroke="#0000ff" stroke-width="1.1"/><path d="M399.6,400.3 H403.8 M401.7,398.2 V402.4" stroke="#0000ff" stroke-width="0.9"/>
<circle cx="405.0" cy="401.0" r="2.1" fill="none" stroke="#0000ff" stroke-width="1.1"/><path d="M402.9,401.0 H407.1 M405.0,398.9 V403.1" stroke="#0000ff" stroke-width="0.9"/>
<circle cx="408.3" cy="401.6" r="2.1" fill="none" stroke="#0000ff" stroke-width="1.1"/><path d="M406.2,401.6 H410.4 M408.3,399.5 V403.7" stroke="#0000ff" stroke-width="0.9"/>
<circle cx="411.6" cy="402.3" r="2.1" fill="none" stroke="#0000ff" stroke-width="1.1"/><path d="M409.5,402.3 H413.7 M411.6,400.2 V404.4" stroke="#0000ff" stroke-width="0.9"/>
<circle cx="414.9" cy="402.9" r="2.1" fill="none" stroke="#0000ff" stroke-width="1.1"/><path d="M412.8,402.9 H417.0 M414.9,400.8 V405.0" stroke="#0000ff" stroke-width="0.9"/>
<circle cx="418.2" cy="403.5" r="2.1" fill="none" stroke="#0000ff" stroke-width="1.1"/><path d="M416.1,403.5 H420.3 M418.2,401.4 V405.6" stroke="#0000ff" stroke-width="0.9"/>
<circle cx="421.5" cy="404.1" r="2.1" fill="none" stroke="#0000ff" stroke-width="1.1"/><path d="M419.4,404.1 H423.6 M421.5,402.0 V406.2" stroke="#0000ff" stroke-width="0.9"/>
<circle cx="424.8" cy="404.6" r="2.1" fill="none" stroke="#0000ff" stroke-width="1.1"/><path d="M422.7,404.6 H426.9 M424.8,402.5 V406.7" stroke="#0000ff" stroke-width="0.9"/>
<circle cx="428.1" cy="405.1" r="2.1" fill="none" stroke="#0000ff" stroke-width="1.1"/><path d="M426.0,405.1 H430.2 M428.1,403.0 V407.2" stroke="#0000ff" stroke-width="0.9"/>
<circle cx="431.4" cy="405.5" r="2.1" fill="none" stroke="#0000ff" stroke-width="1.1"/><path d="M429.3,405.5 H433.5 M431.4,403.5 V407.6" stroke="#0000ff" stroke-width="0.9"/>
<circle cx="434.7" cy="405.9" r="2.1" fill="none" stroke="#0000ff" stroke-width="1.1"/><path d="M432.6,405.9 H436.8 M434.7,403.9 V408.0" stroke="#0000ff" stroke-width="0.9"/>
<circle cx="438.0" cy="406.3" r="2.1" fill="none" stroke="#0000ff" stroke-width="1.1"/><path d="M435.9,406.3 H440.1 M438.0,404.2 V408.4" stroke="#0000ff" stroke-width="0.9"/>
<circle cx="441.3" cy="406.6" r="2.1" fill="none" stroke="#0000ff" stroke-width="1.1"/><path d="M439.2,406.6 H443.4 M441.3,404.5 V408.7" stroke="#0000ff" stroke-width="0.9"/>
<circle cx="444.6" cy="406.9" r="2.1" fill="none" stroke="#0000ff" stroke-width="1.1"/><path d="M442.5,406.9 H446.7 M444.6,404.8 V409.0" stroke="#0000ff" stroke-width="0.9"/>
<circle cx="447.9" cy="407.2" r="2.1" fill="none" stroke="#0000ff" stroke-width="1.1"/><path d="M445.8,407.2 H450.0 M447.9,405.1 V409.2" stroke="#0000ff" stroke-width="0.9"/>
<circle cx="451.2" cy="407.4" r="2.1" fill="none" stroke="#0000ff" stroke-width="1.1"/><path d="M449.1,407.4 H453.3 M451.2,405.3 V409.5" stroke="#0000ff" stroke-width="0.9"/>
<circle cx="454.5" cy="407.6" r="2.1" fill="none" stroke="#0000ff" stroke-width="1.1"/><path d="M452.4,407.6 H456.6 M454.5,405.5 V409.7" stroke="#0000ff" stroke-width="0.9"/>
<circle cx="457.8" cy="407.8" r="2.1" fill="none" stroke="#0000ff" stroke-width="1.1"/><path d="M455.7,407.8 H459.9 M457.8,405.7 V409.9" stroke="#0000ff" stroke-width="0.9"/>
<circle cx="461.1" cy="407.9" r="2.1" fill="none" stroke="#0000ff" stroke-width="1.1"/><path d="M459.0,407.9 H463.2 M461.1,405.9 V410.0" stroke="#0000ff" stroke-width="0.9"/>
<circle cx="464.4" cy="408.1" r="2.1" fill="none" stroke="#0000ff" stroke-width="1.1"/><path d="M462.3,408.1 H466.5 M464.4,406.0 V410.2" stroke="#0000ff" stroke-width="0.9"/>
<circle cx="467.7" cy="408.3" r="2.1" fill="none" stroke="#0000ff" stroke-width="1.1"/><path d="M465.6,408.3 H469.8 M467.7,406.2 V410.4" stroke="#0000ff" stroke-width="0.9"/>
<circle cx="471.0" cy="408.4" r="2.1" fill="none" stroke="#0000ff" stroke-width="1.1"/><path d="M468.9,408.4 H473.1 M471.0,406.3 V410.5" stroke="#0000ff" stroke-width="0.9"/>
<circle cx="474.3" cy="408.5" r="2.1" fill="none" stroke="#0000ff" stroke-width="1.1"/><path d="M472.2,408.5 H476.4 M474.3,406.5 V410.6" stroke="#0000ff" stroke-width="0.9"/>
<circle cx="477.6" cy="408.7" r="2.1" fill="none" stroke="#0000ff" stroke-width="1.1"/><path d="M475.5,408.7 H479.7 M477.6,406.6 V410.8" stroke="#0000ff" stroke-width="0.9"/>
<circle cx="480.9" cy="408.8" r="2.1" fill="none" stroke="#0000ff" stroke-width="1.1"/><path d="M478.8,408.8 H483.0 M480.9,406.7 V410.9" stroke="#0000ff" stroke-width="0.9"/>
<circle cx="484.2" cy="408.9" r="2.1" fill="none" stroke="#0000ff" stroke-width="1.1"/><path d="M482.1,408.9 H486.3 M484.2,406.8 V411.0" stroke="#0000ff" stroke-width="0.9"/>
<circle cx="487.5" cy="409.0" r="2.1" fill="none" stroke="#0000ff" stroke-width="1.1"/><path d="M485.4,409.0 H489.6 M487.5,407.0 V411.1" stroke="#0000ff" stroke-width="0.9"/>
<path d="M306.0,377.0 C310.0,378.3 320.2,382.2 330.0,385.0 C339.8,387.8 353.3,391.3 365.0,394.0 C376.7,396.7 387.5,398.8 400.0,401.0 C412.5,403.2 423.3,405.5 440.0,407.0 C456.7,408.5 480.2,409.3 500.0,410.0 C519.8,410.7 549.2,410.8 559.0,411.0" fill="none" stroke="#0000ff" stroke-width="1.1" stroke-linecap="round" stroke-linejoin="round"/>
<path d="M303.9,374.9 L308.3,377.0 L303.9,379.1Z" fill="none" stroke="#0000ff" stroke-width="1.1"/>
<path d="M307.2,376.1 L311.6,378.1 L307.2,380.2Z" fill="none" stroke="#0000ff" stroke-width="1.1"/>
<path d="M310.5,377.2 L314.9,379.3 L310.5,381.4Z" fill="none" stroke="#0000ff" stroke-width="1.1"/>
<path d="M313.8,378.4 L318.2,380.5 L313.8,382.6Z" fill="none" stroke="#0000ff" stroke-width="1.1"/>
<path d="M317.1,379.5 L321.5,381.6 L317.1,383.7Z" fill="none" stroke="#0000ff" stroke-width="1.1"/>
<path d="M320.4,380.6 L324.8,382.7 L320.4,384.8Z" fill="none" stroke="#0000ff" stroke-width="1.1"/>
<path d="M323.7,381.6 L328.1,383.7 L323.7,385.8Z" fill="none" stroke="#0000ff" stroke-width="1.1"/>
<path d="M327.0,382.6 L331.4,384.7 L327.0,386.8Z" fill="none" stroke="#0000ff" stroke-width="1.1"/>
<path d="M330.3,383.6 L334.7,385.7 L330.3,387.8Z" fill="none" stroke="#0000ff" stroke-width="1.1"/>
<path d="M333.6,384.5 L338.0,386.6 L333.6,388.7Z" fill="none" stroke="#0000ff" stroke-width="1.1"/>
<path d="M336.9,385.4 L341.3,387.5 L336.9,389.6Z" fill="none" stroke="#0000ff" stroke-width="1.1"/>
<path d="M340.2,386.3 L344.6,388.4 L340.2,390.5Z" fill="none" stroke="#0000ff" stroke-width="1.1"/>
<path d="M343.5,387.2 L347.9,389.2 L343.5,391.3Z" fill="none" stroke="#0000ff" stroke-width="1.1"/>
<path d="M346.8,388.0 L351.2,390.1 L346.8,392.2Z" fill="none" stroke="#0000ff" stroke-width="1.1"/>
<path d="M350.1,388.8 L354.5,390.9 L350.1,393.0Z" fill="none" stroke="#0000ff" stroke-width="1.1"/>
<path d="M353.4,389.7 L357.8,391.7 L353.4,393.8Z" fill="none" stroke="#0000ff" stroke-width="1.1"/>
<path d="M356.7,390.5 L361.1,392.5 L356.7,394.6Z" fill="none" stroke="#0000ff" stroke-width="1.1"/>
<path d="M360.0,391.2 L364.4,393.3 L360.0,395.4Z" fill="none" stroke="#0000ff" stroke-width="1.1"/>
<path d="M363.3,392.0 L367.7,394.1 L363.3,396.2Z" fill="none" stroke="#0000ff" stroke-width="1.1"/>
<path d="M366.6,392.7 L371.0,394.8 L366.6,396.9Z" fill="none" stroke="#0000ff" stroke-width="1.1"/>
<path d="M369.9,393.5 L374.3,395.6 L369.9,397.7Z" fill="none" stroke="#0000ff" stroke-width="1.1"/>
<path d="M373.2,394.2 L377.6,396.3 L373.2,398.4Z" fill="none" stroke="#0000ff" stroke-width="1.1"/>
<path d="M376.5,394.9 L380.9,397.0 L376.5,399.0Z" fill="none" stroke="#0000ff" stroke-width="1.1"/>
<path d="M379.8,395.5 L384.2,397.6 L379.8,399.7Z" fill="none" stroke="#0000ff" stroke-width="1.1"/>
<path d="M383.1,396.2 L387.5,398.3 L383.1,400.4Z" fill="none" stroke="#0000ff" stroke-width="1.1"/>
<path d="M386.4,396.8 L390.8,398.9 L386.4,401.0Z" fill="none" stroke="#0000ff" stroke-width="1.1"/>
<path d="M389.7,397.4 L394.1,399.5 L389.7,401.6Z" fill="none" stroke="#0000ff" stroke-width="1.1"/>
<path d="M393.0,398.0 L397.4,400.1 L393.0,402.2Z" fill="none" stroke="#0000ff" stroke-width="1.1"/>
<path d="M396.3,398.6 L400.7,400.7 L396.3,402.8Z" fill="none" stroke="#0000ff" stroke-width="1.1"/>
<path d="M399.6,399.2 L404.0,401.3 L399.6,403.4Z" fill="none" stroke="#0000ff" stroke-width="1.1"/>
<path d="M402.9,399.8 L407.3,401.9 L402.9,404.0Z" fill="none" stroke="#0000ff" stroke-width="1.1"/>
<path d="M406.2,400.4 L410.6,402.5 L406.2,404.6Z" fill="none" stroke="#0000ff" stroke-width="1.1"/>
<path d="M409.5,401.0 L413.9,403.1 L409.5,405.2Z" fill="none" stroke="#0000ff" stroke-width="1.1"/>
<path d="M412.8,401.6 L417.2,403.7 L412.8,405.7Z" fill="none" stroke="#0000ff" stroke-width="1.1"/>
<path d="M416.1,402.1 L420.5,404.2 L416.1,406.3Z" fill="none" stroke="#0000ff" stroke-width="1.1"/>
<path d="M419.4,402.6 L423.8,404.7 L419.4,406.8Z" fill="none" stroke="#0000ff" stroke-width="1.1"/>
<path d="M422.7,403.1 L427.1,405.2 L422.7,407.3Z" fill="none" stroke="#0000ff" stroke-width="1.1"/>
<path d="M426.0,403.6 L430.4,405.7 L426.0,407.8Z" fill="none" stroke="#0000ff" stroke-width="1.1"/>
<path d="M429.3,404.0 L433.7,406.1 L429.3,408.2Z" fill="none" stroke="#0000ff" stroke-width="1.1"/>
<path d="M432.6,404.4 L437.0,406.5 L432.6,408.6Z" fill="none" stroke="#0000ff" stroke-width="1.1"/>
<path d="M435.9,404.7 L440.3,406.8 L435.9,408.9Z" fill="none" stroke="#0000ff" stroke-width="1.1"/>
<path d="M439.2,405.0 L443.6,407.1 L439.2,409.2Z" fill="none" stroke="#0000ff" stroke-width="1.1"/>
<path d="M442.5,405.3 L446.9,407.4 L442.5,409.5Z" fill="none" stroke="#0000ff" stroke-width="1.1"/>
<path d="M445.8,405.5 L450.2,407.6 L445.8,409.7Z" fill="none" stroke="#0000ff" stroke-width="1.1"/>
<path d="M449.1,405.8 L453.5,407.9 L449.1,409.9Z" fill="none" stroke="#0000ff" stroke-width="1.1"/>
<path d="M452.4,406.0 L456.8,408.1 L452.4,410.2Z" fill="none" stroke="#0000ff" stroke-width="1.1"/>
<path d="M455.7,406.2 L460.1,408.3 L455.7,410.3Z" fill="none" stroke="#0000ff" stroke-width="1.1"/>
<path d="M459.0,406.3 L463.4,408.4 L459.0,410.5Z" fill="none" stroke="#0000ff" stroke-width="1.1"/>
<path d="M462.3,406.5 L466.7,408.6 L462.3,410.7Z" fill="none" stroke="#0000ff" stroke-width="1.1"/>
<path d="M465.6,406.7 L470.0,408.8 L465.6,410.9Z" fill="none" stroke="#0000ff" stroke-width="1.1"/>
<path d="M468.9,406.8 L473.3,408.9 L468.9,411.0Z" fill="none" stroke="#0000ff" stroke-width="1.1"/>
<path d="M472.2,407.0 L476.6,409.1 L472.2,411.1Z" fill="none" stroke="#0000ff" stroke-width="1.1"/>
<path d="M475.5,407.1 L479.9,409.2 L475.5,411.3Z" fill="none" stroke="#0000ff" stroke-width="1.1"/>
<path d="M478.8,407.2 L483.2,409.3 L478.8,411.4Z" fill="none" stroke="#0000ff" stroke-width="1.1"/>
<path d="M482.1,407.4 L486.5,409.4 L482.1,411.5Z" fill="none" stroke="#0000ff" stroke-width="1.1"/>
<path d="M485.4,407.5 L489.8,409.6 L485.4,411.7Z" fill="none" stroke="#0000ff" stroke-width="1.1"/>
<path d="M306.0,388.0 C310.0,388.3 320.2,388.7 330.0,390.0 C339.8,391.3 353.3,394.0 365.0,396.0 C376.7,398.0 387.5,400.2 400.0,402.0 C412.5,403.8 423.3,405.7 440.0,407.0 C456.7,408.3 480.2,409.3 500.0,410.0 C519.8,410.7 549.2,410.8 559.0,411.0" fill="none" stroke="#0000ff" stroke-width="1.1" stroke-linecap="round" stroke-linejoin="round"/>
<path d="M306.0,385.7 L308.5,389.9 L303.5,389.9Z" fill="none" stroke="#0000ff" stroke-width="1.1"/>
<path d="M309.3,385.9 L311.8,390.1 L306.8,390.1Z" fill="none" stroke="#0000ff" stroke-width="1.1"/>
<path d="M312.6,386.1 L315.1,390.3 L310.1,390.3Z" fill="none" stroke="#0000ff" stroke-width="1.1"/>
<path d="M315.9,386.3 L318.4,390.5 L313.4,390.5Z" fill="none" stroke="#0000ff" stroke-width="1.1"/>
<path d="M319.2,386.6 L321.7,390.8 L316.7,390.8Z" fill="none" stroke="#0000ff" stroke-width="1.1"/>
<path d="M322.5,386.9 L325.0,391.0 L320.0,391.0Z" fill="none" stroke="#0000ff" stroke-width="1.1"/>
<path d="M325.8,387.2 L328.3,391.4 L323.3,391.4Z" fill="none" stroke="#0000ff" stroke-width="1.1"/>
<path d="M329.1,387.6 L331.6,391.8 L326.6,391.8Z" fill="none" stroke="#0000ff" stroke-width="1.1"/>
<path d="M332.4,388.0 L334.9,392.2 L329.9,392.2Z" fill="none" stroke="#0000ff" stroke-width="1.1"/>
<path d="M335.7,388.6 L338.2,392.7 L333.2,392.7Z" fill="none" stroke="#0000ff" stroke-width="1.1"/>
<path d="M339.0,389.1 L341.5,393.3 L336.5,393.3Z" fill="none" stroke="#0000ff" stroke-width="1.1"/>
<path d="M342.3,389.7 L344.8,393.8 L339.8,393.8Z" fill="none" stroke="#0000ff" stroke-width="1.1"/>
<path d="M345.6,390.2 L348.1,394.4 L343.1,394.4Z" fill="none" stroke="#0000ff" stroke-width="1.1"/>
<path d="M348.9,390.8 L351.4,395.0 L346.4,395.0Z" fill="none" stroke="#0000ff" stroke-width="1.1"/>
<path d="M352.2,391.4 L354.7,395.6 L349.7,395.6Z" fill="none" stroke="#0000ff" stroke-width="1.1"/>
<path d="M355.5,392.0 L358.0,396.2 L353.0,396.2Z" fill="none" stroke="#0000ff" stroke-width="1.1"/>
<path d="M358.8,392.6 L361.3,396.8 L356.3,396.8Z" fill="none" stroke="#0000ff" stroke-width="1.1"/>
<path d="M362.1,393.2 L364.6,397.4 L359.6,397.4Z" fill="none" stroke="#0000ff" stroke-width="1.1"/>
<path d="M365.4,393.8 L367.9,398.0 L362.9,398.0Z" fill="none" stroke="#0000ff" stroke-width="1.1"/>
<path d="M368.7,394.3 L371.2,398.5 L366.2,398.5Z" fill="none" stroke="#0000ff" stroke-width="1.1"/>
<path d="M372.0,394.9 L374.5,399.1 L369.5,399.1Z" fill="none" stroke="#0000ff" stroke-width="1.1"/>
<path d="M375.3,395.5 L377.8,399.7 L372.8,399.7Z" fill="none" stroke="#0000ff" stroke-width="1.1"/>
<path d="M378.6,396.1 L381.1,400.3 L376.1,400.3Z" fill="none" stroke="#0000ff" stroke-width="1.1"/>
<path d="M381.9,396.7 L384.4,400.9 L379.4,400.9Z" fill="none" stroke="#0000ff" stroke-width="1.1"/>
<path d="M385.2,397.3 L387.7,401.5 L382.7,401.5Z" fill="none" stroke="#0000ff" stroke-width="1.1"/>
<path d="M388.5,397.9 L391.0,402.0 L386.0,402.0Z" fill="none" stroke="#0000ff" stroke-width="1.1"/>
<path d="M391.8,398.4 L394.3,402.6 L389.3,402.6Z" fill="none" stroke="#0000ff" stroke-width="1.1"/>
<path d="M395.1,399.0 L397.6,403.1 L392.6,403.1Z" fill="none" stroke="#0000ff" stroke-width="1.1"/>
<path d="M398.4,399.5 L400.9,403.6 L395.9,403.6Z" fill="none" stroke="#0000ff" stroke-width="1.1"/>
<path d="M401.7,400.0 L404.2,404.1 L399.2,404.1Z" fill="none" stroke="#0000ff" stroke-width="1.1"/>
<path d="M405.0,400.4 L407.5,404.6 L402.5,404.6Z" fill="none" stroke="#0000ff" stroke-width="1.1"/>
<path d="M408.3,400.9 L410.8,405.1 L405.8,405.1Z" fill="none" stroke="#0000ff" stroke-width="1.1"/>
<path d="M411.6,401.4 L414.1,405.6 L409.1,405.6Z" fill="none" stroke="#0000ff" stroke-width="1.1"/>
<path d="M414.9,401.9 L417.4,406.1 L412.4,406.1Z" fill="none" stroke="#0000ff" stroke-width="1.1"/>
<path d="M418.2,402.4 L420.7,406.5 L415.7,406.5Z" fill="none" stroke="#0000ff" stroke-width="1.1"/>
<path d="M421.5,402.8 L424.0,407.0 L419.0,407.0Z" fill="none" stroke="#0000ff" stroke-width="1.1"/>
<path d="M424.8,403.2 L427.3,407.4 L422.3,407.4Z" fill="none" stroke="#0000ff" stroke-width="1.1"/>
<path d="M428.1,403.6 L430.6,407.8 L425.6,407.8Z" fill="none" stroke="#0000ff" stroke-width="1.1"/>
<path d="M431.4,403.9 L433.9,408.1 L428.9,408.1Z" fill="none" stroke="#0000ff" stroke-width="1.1"/>
<path d="M434.7,404.2 L437.2,408.4 L432.2,408.4Z" fill="none" stroke="#0000ff" stroke-width="1.1"/>
<path d="M438.0,404.5 L440.5,408.7 L435.5,408.7Z" fill="none" stroke="#0000ff" stroke-width="1.1"/>
<path d="M441.3,404.8 L443.8,409.0 L438.8,409.0Z" fill="none" stroke="#0000ff" stroke-width="1.1"/>
<path d="M444.6,405.0 L447.1,409.2 L442.1,409.2Z" fill="none" stroke="#0000ff" stroke-width="1.1"/>
<path d="M447.9,405.3 L450.4,409.5 L445.4,409.5Z" fill="none" stroke="#0000ff" stroke-width="1.1"/>
<path d="M451.2,405.5 L453.7,409.7 L448.7,409.7Z" fill="none" stroke="#0000ff" stroke-width="1.1"/>
<path d="M454.5,405.7 L457.0,409.9 L452.0,409.9Z" fill="none" stroke="#0000ff" stroke-width="1.1"/>
<path d="M457.8,405.9 L460.3,410.1 L455.3,410.1Z" fill="none" stroke="#0000ff" stroke-width="1.1"/>
<path d="M461.1,406.1 L463.6,410.2 L458.6,410.2Z" fill="none" stroke="#0000ff" stroke-width="1.1"/>
<path d="M464.4,406.2 L466.9,410.4 L461.9,410.4Z" fill="none" stroke="#0000ff" stroke-width="1.1"/>
<path d="M467.7,406.4 L470.2,410.6 L465.2,410.6Z" fill="none" stroke="#0000ff" stroke-width="1.1"/>
<path d="M471.0,406.6 L473.5,410.7 L468.5,410.7Z" fill="none" stroke="#0000ff" stroke-width="1.1"/>
<path d="M474.3,406.7 L476.8,410.9 L471.8,410.9Z" fill="none" stroke="#0000ff" stroke-width="1.1"/>
<path d="M477.6,406.8 L480.1,411.0 L475.1,411.0Z" fill="none" stroke="#0000ff" stroke-width="1.1"/>
<path d="M480.9,407.0 L483.4,411.2 L478.4,411.2Z" fill="none" stroke="#0000ff" stroke-width="1.1"/>
<path d="M484.2,407.1 L486.7,411.3 L481.7,411.3Z" fill="none" stroke="#0000ff" stroke-width="1.1"/>
<path d="M487.5,407.3 L490.0,411.4 L485.0,411.4Z" fill="none" stroke="#0000ff" stroke-width="1.1"/>
<path d="M306.0,395.0 C315.5,395.3 344.0,396.0 363.0,397.0 C382.0,398.0 400.5,399.5 420.0,401.0 C439.5,402.5 456.8,404.6 480.0,406.0 C503.2,407.4 545.8,408.9 559.0,409.5" fill="none" stroke="#0000ff" stroke-width="1.1" stroke-linecap="round" stroke-linejoin="round"/>
<path d="M306.0,392.3 L308.7,395.0 L306.0,397.7 L303.3,395.0Z" fill="none" stroke="#0000ff" stroke-width="1.1"/><circle cx="306.0" cy="395.0" r="0.9" fill="#0000ff"/>
<path d="M309.3,392.4 L312.0,395.1 L309.3,397.8 L306.6,395.1Z" fill="none" stroke="#0000ff" stroke-width="1.1"/><circle cx="309.3" cy="395.1" r="0.9" fill="#0000ff"/>
<path d="M312.6,392.5 L315.3,395.2 L312.6,397.9 L309.9,395.2Z" fill="none" stroke="#0000ff" stroke-width="1.1"/><circle cx="312.6" cy="395.2" r="0.9" fill="#0000ff"/>
<path d="M315.9,392.6 L318.6,395.3 L315.9,398.0 L313.2,395.3Z" fill="none" stroke="#0000ff" stroke-width="1.1"/><circle cx="315.9" cy="395.3" r="0.9" fill="#0000ff"/>
<path d="M319.2,392.7 L321.9,395.4 L319.2,398.1 L316.5,395.4Z" fill="none" stroke="#0000ff" stroke-width="1.1"/><circle cx="319.2" cy="395.4" r="0.9" fill="#0000ff"/>
<path d="M322.5,392.8 L325.2,395.5 L322.5,398.2 L319.8,395.5Z" fill="none" stroke="#0000ff" stroke-width="1.1"/><circle cx="322.5" cy="395.5" r="0.9" fill="#0000ff"/>
<path d="M325.8,392.9 L328.5,395.6 L325.8,398.3 L323.1,395.6Z" fill="none" stroke="#0000ff" stroke-width="1.1"/><circle cx="325.8" cy="395.6" r="0.9" fill="#0000ff"/>
<path d="M329.1,393.0 L331.8,395.7 L329.1,398.4 L326.4,395.7Z" fill="none" stroke="#0000ff" stroke-width="1.1"/><circle cx="329.1" cy="395.7" r="0.9" fill="#0000ff"/>
<path d="M332.4,393.1 L335.1,395.8 L332.4,398.5 L329.7,395.8Z" fill="none" stroke="#0000ff" stroke-width="1.1"/><circle cx="332.4" cy="395.8" r="0.9" fill="#0000ff"/>
<path d="M335.7,393.2 L338.4,395.9 L335.7,398.6 L333.0,395.9Z" fill="none" stroke="#0000ff" stroke-width="1.1"/><circle cx="335.7" cy="395.9" r="0.9" fill="#0000ff"/>
<path d="M339.0,393.3 L341.7,396.0 L339.0,398.7 L336.3,396.0Z" fill="none" stroke="#0000ff" stroke-width="1.1"/><circle cx="339.0" cy="396.0" r="0.9" fill="#0000ff"/>
<path d="M342.3,393.4 L345.0,396.1 L342.3,398.8 L339.6,396.1Z" fill="none" stroke="#0000ff" stroke-width="1.1"/><circle cx="342.3" cy="396.1" r="0.9" fill="#0000ff"/>
<path d="M345.6,393.5 L348.3,396.2 L345.6,399.0 L342.9,396.2Z" fill="none" stroke="#0000ff" stroke-width="1.1"/><circle cx="345.6" cy="396.2" r="0.9" fill="#0000ff"/>
<path d="M348.9,393.7 L351.6,396.4 L348.9,399.1 L346.2,396.4Z" fill="none" stroke="#0000ff" stroke-width="1.1"/><circle cx="348.9" cy="396.4" r="0.9" fill="#0000ff"/>
<path d="M352.2,393.8 L354.9,396.5 L352.2,399.2 L349.5,396.5Z" fill="none" stroke="#0000ff" stroke-width="1.1"/><circle cx="352.2" cy="396.5" r="0.9" fill="#0000ff"/>
<path d="M355.5,393.9 L358.2,396.6 L355.5,399.4 L352.8,396.6Z" fill="none" stroke="#0000ff" stroke-width="1.1"/><circle cx="355.5" cy="396.6" r="0.9" fill="#0000ff"/>
<path d="M358.8,394.1 L361.5,396.8 L358.8,399.5 L356.1,396.8Z" fill="none" stroke="#0000ff" stroke-width="1.1"/><circle cx="358.8" cy="396.8" r="0.9" fill="#0000ff"/>
<path d="M362.1,394.2 L364.8,397.0 L362.1,399.7 L359.4,397.0Z" fill="none" stroke="#0000ff" stroke-width="1.1"/><circle cx="362.1" cy="397.0" r="0.9" fill="#0000ff"/>
<path d="M365.4,394.4 L368.1,397.1 L365.4,399.8 L362.7,397.1Z" fill="none" stroke="#0000ff" stroke-width="1.1"/><circle cx="365.4" cy="397.1" r="0.9" fill="#0000ff"/>
<path d="M368.7,394.6 L371.4,397.3 L368.7,400.0 L366.0,397.3Z" fill="none" stroke="#0000ff" stroke-width="1.1"/><circle cx="368.7" cy="397.3" r="0.9" fill="#0000ff"/>
<path d="M372.0,394.8 L374.7,397.5 L372.0,400.2 L369.3,397.5Z" fill="none" stroke="#0000ff" stroke-width="1.1"/><circle cx="372.0" cy="397.5" r="0.9" fill="#0000ff"/>
<path d="M375.3,395.0 L378.0,397.7 L375.3,400.4 L372.6,397.7Z" fill="none" stroke="#0000ff" stroke-width="1.1"/><circle cx="375.3" cy="397.7" r="0.9" fill="#0000ff"/>
<path d="M378.6,395.2 L381.3,397.9 L378.6,400.6 L375.9,397.9Z" fill="none" stroke="#0000ff" stroke-width="1.1"/><circle cx="378.6" cy="397.9" r="0.9" fill="#0000ff"/>
<path d="M381.9,395.4 L384.6,398.1 L381.9,400.9 L379.2,398.1Z" fill="none" stroke="#0000ff" stroke-width="1.1"/><circle cx="381.9" cy="398.1" r="0.9" fill="#0000ff"/>
<path d="M385.2,395.7 L387.9,398.4 L385.2,401.1 L382.5,398.4Z" fill="none" stroke="#0000ff" stroke-width="1.1"/><circle cx="385.2" cy="398.4" r="0.9" fill="#0000ff"/>
<path d="M388.5,395.9 L391.2,398.6 L388.5,401.3 L385.8,398.6Z" fill="none" stroke="#0000ff" stroke-width="1.1"/><circle cx="388.5" cy="398.6" r="0.9" fill="#0000ff"/>
<path d="M391.8,396.1 L394.5,398.8 L391.8,401.6 L389.1,398.8Z" fill="none" stroke="#0000ff" stroke-width="1.1"/><circle cx="391.8" cy="398.8" r="0.9" fill="#0000ff"/>
<path d="M395.1,396.4 L397.8,399.1 L395.1,401.8 L392.4,399.1Z" fill="none" stroke="#0000ff" stroke-width="1.1"/><circle cx="395.1" cy="399.1" r="0.9" fill="#0000ff"/>
<path d="M398.4,396.6 L401.1,399.3 L398.4,402.1 L395.7,399.3Z" fill="none" stroke="#0000ff" stroke-width="1.1"/><circle cx="398.4" cy="399.3" r="0.9" fill="#0000ff"/>
<path d="M401.7,396.9 L404.4,399.6 L401.7,402.3 L399.0,399.6Z" fill="none" stroke="#0000ff" stroke-width="1.1"/><circle cx="401.7" cy="399.6" r="0.9" fill="#0000ff"/>
<path d="M405.0,397.1 L407.7,399.8 L405.0,402.6 L402.3,399.8Z" fill="none" stroke="#0000ff" stroke-width="1.1"/><circle cx="405.0" cy="399.8" r="0.9" fill="#0000ff"/>
<path d="M408.3,397.4 L411.0,400.1 L408.3,402.8 L405.6,400.1Z" fill="none" stroke="#0000ff" stroke-width="1.1"/><circle cx="408.3" cy="400.1" r="0.9" fill="#0000ff"/>
<path d="M411.6,397.6 L414.3,400.4 L411.6,403.1 L408.9,400.4Z" fill="none" stroke="#0000ff" stroke-width="1.1"/><circle cx="411.6" cy="400.4" r="0.9" fill="#0000ff"/>
<path d="M414.9,397.9 L417.6,400.6 L414.9,403.3 L412.2,400.6Z" fill="none" stroke="#0000ff" stroke-width="1.1"/><circle cx="414.9" cy="400.6" r="0.9" fill="#0000ff"/>
<path d="M418.2,398.1 L420.9,400.9 L418.2,403.6 L415.5,400.9Z" fill="none" stroke="#0000ff" stroke-width="1.1"/><circle cx="418.2" cy="400.9" r="0.9" fill="#0000ff"/>
<path d="M421.5,398.4 L424.2,401.1 L421.5,403.8 L418.8,401.1Z" fill="none" stroke="#0000ff" stroke-width="1.1"/><circle cx="421.5" cy="401.1" r="0.9" fill="#0000ff"/>
<path d="M424.8,398.7 L427.5,401.4 L424.8,404.1 L422.1,401.4Z" fill="none" stroke="#0000ff" stroke-width="1.1"/><circle cx="424.8" cy="401.4" r="0.9" fill="#0000ff"/>
<path d="M428.1,398.9 L430.8,401.7 L428.1,404.4 L425.4,401.7Z" fill="none" stroke="#0000ff" stroke-width="1.1"/><circle cx="428.1" cy="401.7" r="0.9" fill="#0000ff"/>
<path d="M431.4,399.2 L434.1,402.0 L431.4,404.7 L428.7,402.0Z" fill="none" stroke="#0000ff" stroke-width="1.1"/><circle cx="431.4" cy="402.0" r="0.9" fill="#0000ff"/>
<path d="M434.7,399.5 L437.4,402.2 L434.7,405.0 L432.0,402.2Z" fill="none" stroke="#0000ff" stroke-width="1.1"/><circle cx="434.7" cy="402.2" r="0.9" fill="#0000ff"/>
<path d="M438.0,399.8 L440.7,402.5 L438.0,405.3 L435.3,402.5Z" fill="none" stroke="#0000ff" stroke-width="1.1"/><circle cx="438.0" cy="402.5" r="0.9" fill="#0000ff"/>
<path d="M441.3,400.1 L444.0,402.9 L441.3,405.6 L438.6,402.9Z" fill="none" stroke="#0000ff" stroke-width="1.1"/><circle cx="441.3" cy="402.9" r="0.9" fill="#0000ff"/>
<path d="M444.6,400.4 L447.3,403.2 L444.6,405.9 L441.9,403.2Z" fill="none" stroke="#0000ff" stroke-width="1.1"/><circle cx="444.6" cy="403.2" r="0.9" fill="#0000ff"/>
<path d="M447.9,400.7 L450.6,403.5 L447.9,406.2 L445.2,403.5Z" fill="none" stroke="#0000ff" stroke-width="1.1"/><circle cx="447.9" cy="403.5" r="0.9" fill="#0000ff"/>
<path d="M451.2,401.0 L453.9,403.8 L451.2,406.5 L448.5,403.8Z" fill="none" stroke="#0000ff" stroke-width="1.1"/><circle cx="451.2" cy="403.8" r="0.9" fill="#0000ff"/>
<path d="M454.5,401.3 L457.2,404.1 L454.5,406.8 L451.8,404.1Z" fill="none" stroke="#0000ff" stroke-width="1.1"/><circle cx="454.5" cy="404.1" r="0.9" fill="#0000ff"/>
<path d="M457.8,401.6 L460.5,404.3 L457.8,407.1 L455.1,404.3Z" fill="none" stroke="#0000ff" stroke-width="1.1"/><circle cx="457.8" cy="404.3" r="0.9" fill="#0000ff"/>
<path d="M461.1,401.9 L463.8,404.6 L461.1,407.3 L458.4,404.6Z" fill="none" stroke="#0000ff" stroke-width="1.1"/><circle cx="461.1" cy="404.6" r="0.9" fill="#0000ff"/>
<path d="M464.4,402.2 L467.1,404.9 L464.4,407.6 L461.7,404.9Z" fill="none" stroke="#0000ff" stroke-width="1.1"/><circle cx="464.4" cy="404.9" r="0.9" fill="#0000ff"/>
<path d="M467.7,402.4 L470.4,405.2 L467.7,407.9 L465.0,405.2Z" fill="none" stroke="#0000ff" stroke-width="1.1"/><circle cx="467.7" cy="405.2" r="0.9" fill="#0000ff"/>
<path d="M471.0,402.7 L473.7,405.4 L471.0,408.1 L468.3,405.4Z" fill="none" stroke="#0000ff" stroke-width="1.1"/><circle cx="471.0" cy="405.4" r="0.9" fill="#0000ff"/>
<path d="M474.3,402.9 L477.0,405.6 L474.3,408.3 L471.6,405.6Z" fill="none" stroke="#0000ff" stroke-width="1.1"/><circle cx="474.3" cy="405.6" r="0.9" fill="#0000ff"/>
<path d="M477.6,403.1 L480.3,405.8 L477.6,408.6 L474.9,405.8Z" fill="none" stroke="#0000ff" stroke-width="1.1"/><circle cx="477.6" cy="405.8" r="0.9" fill="#0000ff"/>
<path d="M480.9,403.3 L483.6,406.1 L480.9,408.8 L478.2,406.1Z" fill="none" stroke="#0000ff" stroke-width="1.1"/><circle cx="480.9" cy="406.1" r="0.9" fill="#0000ff"/>
<path d="M484.2,403.5 L486.9,406.2 L484.2,409.0 L481.5,406.2Z" fill="none" stroke="#0000ff" stroke-width="1.1"/><circle cx="484.2" cy="406.2" r="0.9" fill="#0000ff"/>
<path d="M487.5,403.7 L490.2,406.4 L487.5,409.1 L484.8,406.4Z" fill="none" stroke="#0000ff" stroke-width="1.1"/><circle cx="487.5" cy="406.4" r="0.9" fill="#0000ff"/>
<path d="M306.0,396.5 C315.5,396.8 344.0,397.6 363.0,398.5 C382.0,399.4 400.5,400.7 420.0,402.0 C439.5,403.3 456.8,405.2 480.0,406.5 C503.2,407.8 545.8,409.4 559.0,410.0" fill="none" stroke="#0000ff" stroke-width="1.1" stroke-linecap="round" stroke-linejoin="round"/>
<path d="M306.0,393.6 L308.9,396.5 L306.0,399.4 L303.1,396.5Z" fill="#0000ff"/>
<path d="M309.3,393.7 L312.2,396.6 L309.3,399.5 L306.4,396.6Z" fill="#0000ff"/>
<path d="M312.6,393.9 L315.5,396.7 L312.6,399.6 L309.7,396.7Z" fill="#0000ff"/>
<path d="M315.9,394.0 L318.8,396.8 L315.9,399.7 L313.0,396.8Z" fill="#0000ff"/>
<path d="M319.2,394.1 L322.1,396.9 L319.2,399.8 L316.3,396.9Z" fill="#0000ff"/>
<path d="M322.5,394.2 L325.4,397.0 L322.5,399.9 L319.6,397.0Z" fill="#0000ff"/>
<path d="M325.8,394.3 L328.7,397.1 L325.8,400.0 L322.9,397.1Z" fill="#0000ff"/>
<path d="M329.1,394.4 L332.0,397.2 L329.1,400.1 L326.2,397.2Z" fill="#0000ff"/>
<path d="M332.4,394.5 L335.3,397.3 L332.4,400.2 L329.5,397.3Z" fill="#0000ff"/>
<path d="M335.7,394.6 L338.6,397.4 L335.7,400.3 L332.8,397.4Z" fill="#0000ff"/>
<path d="M339.0,394.7 L341.9,397.5 L339.0,400.4 L336.1,397.5Z" fill="#0000ff"/>
<path d="M342.3,394.8 L345.2,397.7 L342.3,400.5 L339.4,397.7Z" fill="#0000ff"/>
<path d="M345.6,394.9 L348.5,397.8 L345.6,400.6 L342.7,397.8Z" fill="#0000ff"/>
<path d="M348.9,395.0 L351.8,397.9 L348.9,400.8 L346.0,397.9Z" fill="#0000ff"/>
<path d="M352.2,395.2 L355.1,398.0 L352.2,400.9 L349.3,398.0Z" fill="#0000ff"/>
<path d="M355.5,395.3 L358.4,398.2 L355.5,401.0 L352.6,398.2Z" fill="#0000ff"/>
<path d="M358.8,395.4 L361.7,398.3 L358.8,401.2 L355.9,398.3Z" fill="#0000ff"/>
<path d="M362.1,395.6 L365.0,398.5 L362.1,401.3 L359.2,398.5Z" fill="#0000ff"/>
<path d="M365.4,395.8 L368.3,398.6 L365.4,401.5 L362.5,398.6Z" fill="#0000ff"/>
<path d="M368.7,395.9 L371.6,398.8 L368.7,401.6 L365.8,398.8Z" fill="#0000ff"/>
<path d="M372.0,396.1 L374.9,399.0 L372.0,401.8 L369.1,399.0Z" fill="#0000ff"/>
<path d="M375.3,396.3 L378.2,399.1 L375.3,402.0 L372.4,399.1Z" fill="#0000ff"/>
<path d="M378.6,396.5 L381.5,399.3 L378.6,402.2 L375.7,399.3Z" fill="#0000ff"/>
<path d="M381.9,396.7 L384.8,399.5 L381.9,402.4 L379.0,399.5Z" fill="#0000ff"/>
<path d="M385.2,396.9 L388.1,399.7 L385.2,402.6 L382.3,399.7Z" fill="#0000ff"/>
<path d="M388.5,397.1 L391.4,399.9 L388.5,402.8 L385.6,399.9Z" fill="#0000ff"/>
<path d="M391.8,397.3 L394.7,400.1 L391.8,403.0 L388.9,400.1Z" fill="#0000ff"/>
<path d="M395.1,397.5 L398.0,400.3 L395.1,403.2 L392.2,400.3Z" fill="#0000ff"/>
<path d="M398.4,397.7 L401.3,400.5 L398.4,403.4 L395.5,400.5Z" fill="#0000ff"/>
<path d="M401.7,397.9 L404.6,400.8 L401.7,403.6 L398.8,400.8Z" fill="#0000ff"/>
<path d="M405.0,398.1 L407.9,401.0 L405.0,403.8 L402.1,401.0Z" fill="#0000ff"/>
<path d="M408.3,398.3 L411.2,401.2 L408.3,404.1 L405.4,401.2Z" fill="#0000ff"/>
<path d="M411.6,398.6 L414.5,401.4 L411.6,404.3 L408.7,401.4Z" fill="#0000ff"/>
<path d="M414.9,398.8 L417.8,401.7 L414.9,404.5 L412.0,401.7Z" fill="#0000ff"/>
<path d="M418.2,399.0 L421.1,401.9 L418.2,404.7 L415.3,401.9Z" fill="#0000ff"/>
<path d="M421.5,399.2 L424.4,402.1 L421.5,405.0 L418.6,402.1Z" fill="#0000ff"/>
<path d="M424.8,399.5 L427.7,402.3 L424.8,405.2 L421.9,402.3Z" fill="#0000ff"/>
<path d="M428.1,399.7 L431.0,402.6 L428.1,405.4 L425.2,402.6Z" fill="#0000ff"/>
<path d="M431.4,400.0 L434.3,402.8 L431.4,405.7 L428.5,402.8Z" fill="#0000ff"/>
<path d="M434.7,400.2 L437.6,403.1 L434.7,406.0 L431.8,403.1Z" fill="#0000ff"/>
<path d="M438.0,400.5 L440.9,403.4 L438.0,406.2 L435.1,403.4Z" fill="#0000ff"/>
<path d="M441.3,400.8 L444.2,403.6 L441.3,406.5 L438.4,403.6Z" fill="#0000ff"/>
<path d="M444.6,401.1 L447.5,403.9 L444.6,406.8 L441.7,403.9Z" fill="#0000ff"/>
<path d="M447.9,401.3 L450.8,404.2 L447.9,407.1 L445.0,404.2Z" fill="#0000ff"/>
<path d="M451.2,401.6 L454.1,404.5 L451.2,407.3 L448.3,404.5Z" fill="#0000ff"/>
<path d="M454.5,401.9 L457.4,404.7 L454.5,407.6 L451.6,404.7Z" fill="#0000ff"/>
<path d="M457.8,402.1 L460.7,405.0 L457.8,407.8 L454.9,405.0Z" fill="#0000ff"/>
<path d="M461.1,402.4 L464.0,405.2 L461.1,408.1 L458.2,405.2Z" fill="#0000ff"/>
<path d="M464.4,402.6 L467.3,405.5 L464.4,408.3 L461.5,405.5Z" fill="#0000ff"/>
<path d="M467.7,402.9 L470.6,405.7 L467.7,408.6 L464.8,405.7Z" fill="#0000ff"/>
<path d="M471.0,403.1 L473.9,405.9 L471.0,408.8 L468.1,405.9Z" fill="#0000ff"/>
<path d="M474.3,403.3 L477.2,406.2 L474.3,409.0 L471.4,406.2Z" fill="#0000ff"/>
<path d="M477.6,403.5 L480.5,406.4 L477.6,409.2 L474.7,406.4Z" fill="#0000ff"/>
<path d="M480.9,403.7 L483.8,406.6 L480.9,409.4 L478.0,406.6Z" fill="#0000ff"/>
<path d="M484.2,403.9 L487.1,406.7 L484.2,409.6 L481.3,406.7Z" fill="#0000ff"/>
<path d="M487.5,404.0 L490.4,406.9 L487.5,409.8 L484.6,406.9Z" fill="#0000ff"/>
</g>
<line x1="440.5" y1="270.5" x2="464.5" y2="270.5" stroke="#000000" stroke-width="3.8" stroke-linecap="round"/>
<text transform="translate(467.64,274.09) scale(1.000,1)" font-size="10.40" font-weight="bold" fill="#000">25</text>
<text transform="translate(479.57,268.28) scale(1.000,1)" font-size="6.24" font-weight="bold" fill="#000">0</text>
<text transform="translate(482.96,274.09) scale(1.000,1)" font-size="10.40" font-weight="bold" fill="#000">C</text>
<line x1="440.5" y1="286" x2="464.5" y2="286" stroke="#ff0000" stroke-width="3.8" stroke-linecap="round"/>
<text transform="translate(467.69,289.59) scale(1.000,1)" font-size="10.40" font-weight="bold" fill="#000">50</text>
<text transform="translate(479.47,283.78) scale(1.000,1)" font-size="6.24" font-weight="bold" fill="#000">0</text>
<text transform="translate(482.86,289.59) scale(1.000,1)" font-size="10.40" font-weight="bold" fill="#000">C</text>
<line x1="440.5" y1="301.5" x2="464.5" y2="301.5" stroke="#00ff00" stroke-width="3.8" stroke-linecap="round"/>
<text transform="translate(467.58,305.04) scale(1.000,1)" font-size="10.40" font-weight="bold" fill="#000">75</text>
<text transform="translate(479.52,299.28) scale(1.000,1)" font-size="6.24" font-weight="bold" fill="#000">0</text>
<text transform="translate(482.91,305.09) scale(1.000,1)" font-size="10.40" font-weight="bold" fill="#000">C</text>
<line x1="440.5" y1="317.2" x2="464.5" y2="317.2" stroke="#0000ff" stroke-width="3.8" stroke-linecap="round"/>
<text transform="translate(467.38,320.79) scale(1.000,1)" font-size="10.40" font-weight="bold" fill="#000">100</text>
<text transform="translate(484.93,314.98) scale(1.000,1)" font-size="6.24" font-weight="bold" fill="#000">0</text>
<text transform="translate(488.32,320.79) scale(1.000,1)" font-size="10.40" font-weight="bold" fill="#000">C</text>
<line x1="440.5" y1="332.9" x2="464.5" y2="332.9" stroke="#00ffff" stroke-width="3.8" stroke-linecap="round"/>
<text transform="translate(467.38,336.49) scale(1.000,1)" font-size="10.40" font-weight="bold" fill="#000">125</text>
<text transform="translate(485.08,330.68) scale(1.000,1)" font-size="6.24" font-weight="bold" fill="#000">0</text>
<text transform="translate(488.47,336.49) scale(1.000,1)" font-size="10.40" font-weight="bold" fill="#000">C</text>
<line x1="440.5" y1="348.3" x2="464.5" y2="348.3" stroke="#ff00ff" stroke-width="3.8" stroke-linecap="round"/>
<text transform="translate(467.38,351.89) scale(1.000,1)" font-size="10.40" font-weight="bold" fill="#000">150</text>
<text transform="translate(484.93,346.08) scale(1.000,1)" font-size="6.24" font-weight="bold" fill="#000">0</text>
<text transform="translate(488.32,351.89) scale(1.000,1)" font-size="10.40" font-weight="bold" fill="#000">C</text>
<line x1="440.5" y1="363.7" x2="464.5" y2="363.7" stroke="#ffff00" stroke-width="3.8" stroke-linecap="round"/>
<text transform="translate(467.38,367.24) scale(1.000,1)" font-size="10.40" font-weight="bold" fill="#000">175</text>
<text transform="translate(485.08,361.48) scale(1.000,1)" font-size="6.24" font-weight="bold" fill="#000">0</text>
<text transform="translate(488.47,367.29) scale(1.000,1)" font-size="10.40" font-weight="bold" fill="#000">C</text>
<line x1="440.5" y1="379.2" x2="464.5" y2="379.2" stroke="#808000" stroke-width="3.8" stroke-linecap="round"/>
<text transform="translate(467.64,382.79) scale(1.000,1)" font-size="10.40" font-weight="bold" fill="#000">200</text>
<text transform="translate(485.19,376.98) scale(1.000,1)" font-size="6.24" font-weight="bold" fill="#000">0</text>
<text transform="translate(488.58,382.79) scale(1.000,1)" font-size="10.40" font-weight="bold" fill="#000">C</text>
<line x1="440.5" y1="394.6" x2="464.5" y2="394.6" stroke="#000080" stroke-width="3.8" stroke-linecap="round"/>
<text transform="translate(467.64,398.19) scale(1.000,1)" font-size="10.40" font-weight="bold" fill="#000">225</text>
<text transform="translate(485.34,392.38) scale(1.000,1)" font-size="6.24" font-weight="bold" fill="#000">0</text>
<text transform="translate(488.73,398.19) scale(1.000,1)" font-size="10.40" font-weight="bold" fill="#000">C</text>
<line x1="440.5" y1="423.4" x2="464.5" y2="423.4" stroke="#800080" stroke-width="3.8" stroke-linecap="round"/>
<text transform="translate(467.64,426.99) scale(1.000,1)" font-size="10.40" font-weight="bold" fill="#000">250</text>
<text transform="translate(485.19,421.18) scale(1.000,1)" font-size="6.24" font-weight="bold" fill="#000">0</text>
<text transform="translate(488.58,426.99) scale(1.000,1)" font-size="10.40" font-weight="bold" fill="#000">C</text>
<line x1="440.5" y1="438.9" x2="464.5" y2="438.9" stroke="#800000" stroke-width="3.8" stroke-linecap="round"/>
<text transform="translate(467.64,442.49) scale(1.000,1)" font-size="10.40" font-weight="bold" fill="#000">275</text>
<text transform="translate(485.34,436.68) scale(1.000,1)" font-size="6.24" font-weight="bold" fill="#000">0</text>
<text transform="translate(488.73,442.49) scale(1.000,1)" font-size="10.40" font-weight="bold" fill="#000">C</text>
<line x1="440.5" y1="454.7" x2="464.5" y2="454.7" stroke="#008000" stroke-width="3.8" stroke-linecap="round"/>
<text transform="translate(467.74,458.29) scale(1.000,1)" font-size="10.40" font-weight="bold" fill="#000">300</text>
<text transform="translate(485.29,452.48) scale(1.000,1)" font-size="6.24" font-weight="bold" fill="#000">0</text>
<text transform="translate(488.68,458.29) scale(1.000,1)" font-size="10.40" font-weight="bold" fill="#000">C</text>
<line x1="497.1" y1="274.5" x2="522" y2="274.5" stroke="#2a2aff" stroke-width="1.1"/>
<polygon points="509.4,271.7 512.0,273.6 511.0,276.8 507.8,276.8 506.8,273.6" fill="#fff" stroke="#0000ff" stroke-width="1.2"/><circle cx="509.4" cy="274.5" r="0.7" fill="#0000ff"/>
<text transform="translate(524.52,278.26) scale(1.000,1)" font-size="10.90" font-weight="bold" fill="#000">25</text>
<text transform="translate(536.98,272.18) scale(1.000,1)" font-size="6.54" font-weight="bold" fill="#000">0</text>
<text transform="translate(540.51,278.26) scale(1.000,1)" font-size="10.90" font-weight="bold" fill="#000">C</text>
<line x1="497.1" y1="290.2" x2="522" y2="290.2" stroke="#2a2aff" stroke-width="1.1"/>
<circle cx="509.4" cy="290.2" r="2.5" fill="#fff" stroke="#0000ff" stroke-width="1.1"/><path d="M506.9,290.2 A2.5,2.5 0 0 1 511.9,290.2Z" fill="#0000ff"/>
<text transform="translate(524.57,293.96) scale(1.000,1)" font-size="10.90" font-weight="bold" fill="#000">50</text>
<text transform="translate(536.87,287.88) scale(1.000,1)" font-size="6.54" font-weight="bold" fill="#000">0</text>
<text transform="translate(540.40,293.96) scale(1.000,1)" font-size="10.90" font-weight="bold" fill="#000">C</text>
<line x1="497.1" y1="306.4" x2="522" y2="306.4" stroke="#2a2aff" stroke-width="1.1"/>
<path d="M509.4,303.1 L512.7,306.4 L509.4,309.7 L506.1,306.4Z" fill="#fff" stroke="#0000ff" stroke-width="1.1"/><circle cx="509.4" cy="306.4" r="0.9" fill="#0000ff"/>
<text transform="translate(524.46,310.11) scale(1.000,1)" font-size="10.90" font-weight="bold" fill="#000">75</text>
<text transform="translate(536.93,304.08) scale(1.000,1)" font-size="6.54" font-weight="bold" fill="#000">0</text>
<text transform="translate(540.46,310.16) scale(1.000,1)" font-size="10.90" font-weight="bold" fill="#000">C</text>
<line x1="497.1" y1="322.6" x2="522" y2="322.6" stroke="#2a2aff" stroke-width="1.1"/>
<circle cx="509.4" cy="322.6" r="2.8" fill="#0000ff"/>
<text transform="translate(524.25,326.36) scale(1.000,1)" font-size="10.90" font-weight="bold" fill="#000">100</text>
<text transform="translate(542.60,320.28) scale(1.000,1)" font-size="6.54" font-weight="bold" fill="#000">0</text>
<text transform="translate(546.13,326.36) scale(1.000,1)" font-size="10.90" font-weight="bold" fill="#000">C</text>
<line x1="497.1" y1="339" x2="522" y2="339" stroke="#2a2aff" stroke-width="1.1"/>
<circle cx="509.4" cy="339.0" r="2.5" fill="#fff" stroke="#0000ff" stroke-width="1.1"/><path d="M506.9,339.0 A2.5,2.5 0 0 1 511.9,339.0Z" fill="#0000ff"/>
<text transform="translate(524.25,342.76) scale(1.000,1)" font-size="10.90" font-weight="bold" fill="#000">125</text>
<text transform="translate(542.76,336.68) scale(1.000,1)" font-size="6.54" font-weight="bold" fill="#000">0</text>
<text transform="translate(546.29,342.76) scale(1.000,1)" font-size="10.90" font-weight="bold" fill="#000">C</text>
<line x1="497.1" y1="354.5" x2="522" y2="354.5" stroke="#2a2aff" stroke-width="1.1"/>
<path d="M509.4,351.2 L512.7,354.5 L509.4,357.8 L506.1,354.5Z" fill="#fff" stroke="#0000ff" stroke-width="1.1"/>
<text transform="translate(524.25,358.26) scale(1.000,1)" font-size="10.90" font-weight="bold" fill="#000">150</text>
<text transform="translate(542.60,352.18) scale(1.000,1)" font-size="6.54" font-weight="bold" fill="#000">0</text>
<text transform="translate(546.13,358.26) scale(1.000,1)" font-size="10.90" font-weight="bold" fill="#000">C</text>
<line x1="497.1" y1="370.7" x2="522" y2="370.7" stroke="#2a2aff" stroke-width="1.1"/>
<polygon points="509.4,367.4 510.2,369.6 512.5,369.7 510.7,371.1 511.3,373.4 509.4,372.1 507.5,373.4 508.1,371.1 506.3,369.7 508.6,369.6" fill="#0000ff"/>
<text transform="translate(524.25,374.41) scale(1.000,1)" font-size="10.90" font-weight="bold" fill="#000">175</text>
<text transform="translate(542.76,368.38) scale(1.000,1)" font-size="6.54" font-weight="bold" fill="#000">0</text>
<text transform="translate(546.29,374.46) scale(1.000,1)" font-size="10.90" font-weight="bold" fill="#000">C</text>
<line x1="497.1" y1="386.8" x2="522" y2="386.8" stroke="#2a2aff" stroke-width="1.1"/>
<rect x="507.1" y="384.5" width="4.6" height="4.6" fill="#fff" stroke="#0000ff" stroke-width="1.1"/>
<text transform="translate(524.52,390.56) scale(1.000,1)" font-size="10.90" font-weight="bold" fill="#000">200</text>
<text transform="translate(542.87,384.48) scale(1.000,1)" font-size="6.54" font-weight="bold" fill="#000">0</text>
<text transform="translate(546.40,390.56) scale(1.000,1)" font-size="10.90" font-weight="bold" fill="#000">C</text>
<line x1="497.1" y1="403.3" x2="522" y2="403.3" stroke="#2a2aff" stroke-width="1.1"/>
<path d="M506.9,400.8 L512.2,403.3 L506.9,405.8Z" fill="#fff" stroke="#0000ff" stroke-width="1.1"/>
<text transform="translate(524.52,407.06) scale(1.000,1)" font-size="10.90" font-weight="bold" fill="#000">225</text>
<text transform="translate(543.03,400.98) scale(1.000,1)" font-size="6.54" font-weight="bold" fill="#000">0</text>
<text transform="translate(546.56,407.06) scale(1.000,1)" font-size="10.90" font-weight="bold" fill="#000">C</text>
<line x1="497.1" y1="419.3" x2="522" y2="419.3" stroke="#2a2aff" stroke-width="1.1"/>
<circle cx="509.4" cy="419.3" r="2.5" fill="#fff" stroke="#0000ff" stroke-width="1.1"/><path d="M506.9,419.3 H511.9 M509.4,416.8 V421.8" stroke="#0000ff" stroke-width="0.9"/>
<text transform="translate(524.52,423.06) scale(1.000,1)" font-size="10.90" font-weight="bold" fill="#000">250</text>
<text transform="translate(542.87,416.98) scale(1.000,1)" font-size="6.54" font-weight="bold" fill="#000">0</text>
<text transform="translate(546.40,423.06) scale(1.000,1)" font-size="10.90" font-weight="bold" fill="#000">C</text>
<line x1="497.1" y1="435.2" x2="522" y2="435.2" stroke="#2a2aff" stroke-width="1.1"/>
<path d="M509.4,432.4 L512.4,437.5 L506.4,437.5Z" fill="#fff" stroke="#0000ff" stroke-width="1.1"/>
<text transform="translate(524.52,438.96) scale(1.000,1)" font-size="10.90" font-weight="bold" fill="#000">275</text>
<text transform="translate(543.03,432.88) scale(1.000,1)" font-size="6.54" font-weight="bold" fill="#000">0</text>
<text transform="translate(546.56,438.96) scale(1.000,1)" font-size="10.90" font-weight="bold" fill="#000">C</text>
<line x1="497.1" y1="451.7" x2="522" y2="451.7" stroke="#2a2aff" stroke-width="1.1"/>
<path d="M509.4,448.4 L512.7,451.7 L509.4,455.0 L506.1,451.7Z" fill="#0000ff"/>
<text transform="translate(524.63,455.46) scale(1.000,1)" font-size="10.90" font-weight="bold" fill="#000">300</text>
<text transform="translate(542.98,449.38) scale(1.000,1)" font-size="6.54" font-weight="bold" fill="#000">0</text>
<text transform="translate(546.51,455.46) scale(1.000,1)" font-size="10.90" font-weight="bold" fill="#000">C</text>
<line x1="302.3" y1="262.5" x2="560" y2="262.5" stroke="#000" stroke-width="2.4"/>
<line x1="302.3" y1="261.5" x2="302.3" y2="479.3" stroke="#000" stroke-width="2.4"/>
<line x1="301.3" y1="478.2" x2="560" y2="478.2" stroke="#000" stroke-width="2.6"/>
<line x1="559.5" y1="261" x2="559.5" y2="479.5" stroke="#0000ff" stroke-width="3"/>
<line x1="302.3" y1="470.6" x2="305.8" y2="470.6" stroke="#000" stroke-width="1.5"/>
<text transform="translate(290.80,475.29) scale(1.100,1)" font-size="13.60" font-weight="bold" fill="#000">0</text>
<line x1="302.3" y1="424.37" x2="305.8" y2="424.37" stroke="#000" stroke-width="1.5"/>
<text transform="translate(282.49,429.06) scale(1.100,1)" font-size="13.60" font-weight="bold" fill="#000">30</text>
<line x1="302.3" y1="378.14000000000004" x2="305.8" y2="378.14000000000004" stroke="#000" stroke-width="1.5"/>
<text transform="translate(282.49,382.83) scale(1.100,1)" font-size="13.60" font-weight="bold" fill="#000">60</text>
<line x1="302.3" y1="331.91" x2="305.8" y2="331.91" stroke="#000" stroke-width="1.5"/>
<text transform="translate(282.49,336.60) scale(1.100,1)" font-size="13.60" font-weight="bold" fill="#000">90</text>
<line x1="302.3" y1="285.68000000000006" x2="305.8" y2="285.68000000000006" stroke="#000" stroke-width="1.5"/>
<text transform="translate(274.19,290.37) scale(1.100,1)" font-size="13.60" font-weight="bold" fill="#000">120</text>
<line x1="305.9" y1="478.2" x2="305.9" y2="474.7" stroke="#000" stroke-width="1.5"/>
<text transform="translate(301.36,493.13) scale(1.100,1)" font-size="14.00" font-weight="bold" fill="#000">1</text>
<line x1="399.7" y1="478.2" x2="399.7" y2="474.7" stroke="#000" stroke-width="1.5"/>
<text transform="translate(391.00,493.13) scale(1.100,1)" font-size="14.00" font-weight="bold" fill="#000">10</text>
<line x1="493.5" y1="478.2" x2="493.5" y2="474.7" stroke="#000" stroke-width="1.5"/>
<text transform="translate(480.53,493.13) scale(1.100,1)" font-size="14.00" font-weight="bold" fill="#000">100</text>
<line x1="559.5" y1="276.2" x2="556" y2="276.2" stroke="#0000ff" stroke-width="1.6"/>
<text transform="translate(562.20,280.49) scale(0.940,1)" font-size="15.90" font-weight="bold" fill="#0000ff">-500</text>
<line x1="559.5" y1="302.84999999999997" x2="556" y2="302.84999999999997" stroke="#0000ff" stroke-width="1.6"/>
<text transform="translate(562.20,307.14) scale(0.940,1)" font-size="15.90" font-weight="bold" fill="#0000ff">-400</text>
<line x1="559.5" y1="329.5" x2="556" y2="329.5" stroke="#0000ff" stroke-width="1.6"/>
<text transform="translate(562.20,333.79) scale(0.940,1)" font-size="15.90" font-weight="bold" fill="#0000ff">-300</text>
<line x1="559.5" y1="356.15" x2="556" y2="356.15" stroke="#0000ff" stroke-width="1.6"/>
<text transform="translate(562.20,360.44) scale(0.940,1)" font-size="15.90" font-weight="bold" fill="#0000ff">-200</text>
<line x1="559.5" y1="382.8" x2="556" y2="382.8" stroke="#0000ff" stroke-width="1.6"/>
<text transform="translate(562.20,387.09) scale(0.940,1)" font-size="15.90" font-weight="bold" fill="#0000ff">-100</text>
<line x1="559.5" y1="409.45" x2="556" y2="409.45" stroke="#0000ff" stroke-width="1.6"/>
<text transform="translate(562.20,413.74) scale(0.940,1)" font-size="15.90" font-weight="bold" fill="#0000ff">0</text>
<line x1="559.5" y1="436.1" x2="556" y2="436.1" stroke="#0000ff" stroke-width="1.6"/>
<text transform="translate(561.90,440.39) scale(0.940,1)" font-size="15.90" font-weight="bold" fill="#0000ff">100</text>
<line x1="559.5" y1="462.75" x2="556" y2="462.75" stroke="#0000ff" stroke-width="1.6"/>
<text transform="translate(562.28,467.04) scale(0.940,1)" font-size="15.90" font-weight="bold" fill="#0000ff">200</text>
<text transform="translate(341.65,288.00) scale(0.985,1)" font-size="23.32" font-weight="bold" fill="#000">(d)</text>
<text transform="translate(373.29,323.25) scale(0.960,1)" font-size="14.65" font-weight="bold" fill="#000">BFBST-0</text>
<g transform="translate(595.30,413.50) rotate(90)"><text transform="translate(-23.61,3.72) scale(1.057,1)" font-size="14.44" font-weight="bold" fill="#0000ff">Z''(kΩ)</text></g>
<g transform="translate(277.00,399.00) rotate(-90)"><text transform="translate(-21.96,3.64) scale(1.090,1)" font-size="14.12" font-weight="bold" fill="#000">Z'(kΩ)</text></g>
<text transform="translate(383.60,504.59) scale(1.038,1)" font-size="13.37" font-weight="bold" fill="#000">Frequency (kHz)</text>
</svg></body></html>
